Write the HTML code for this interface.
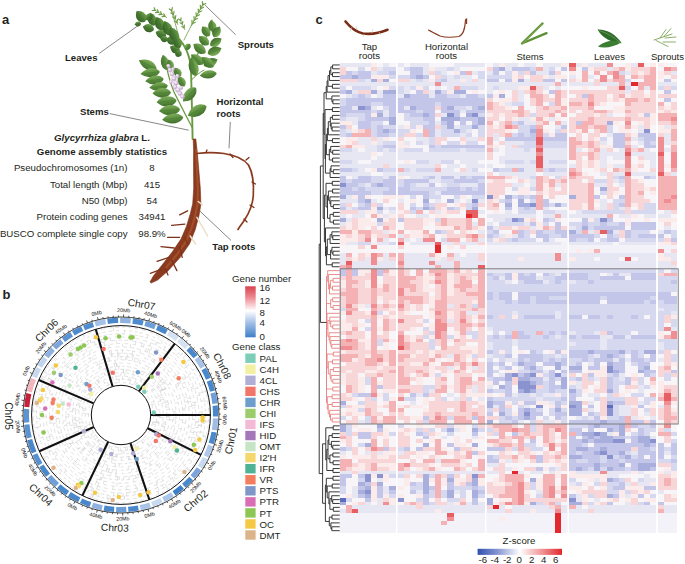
<!DOCTYPE html>
<html><head><meta charset="utf-8"><title>Figure</title><style>
html,body{margin:0;padding:0;background:#fff}
body{width:685px;height:564px;overflow:hidden;position:relative}
svg{position:absolute;left:0;top:0;font-family:"Liberation Sans",sans-serif}
</style></head><body>
<svg width="685" height="564" viewBox="0 0 685 564" font-family="Liberation Sans, sans-serif">
<text x="2" y="24" font-size="13" text-anchor="start" font-weight="bold" fill="#231f20">a</text>
<text x="102" y="140.5" font-size="9.7" text-anchor="middle" font-weight="bold" fill="#231f20"><tspan font-style="italic">Glycyrrhiza glabra</tspan> L.</text>
<text x="102" y="154.5" font-size="9.7" text-anchor="middle" font-weight="bold" fill="#231f20">Genome assembly statistics</text>
<text x="127.5" y="171.2" font-size="9.7" text-anchor="end" fill="#231f20">Pseudochromosomes (1n)</text>
<text x="152" y="171.2" font-size="9.7" text-anchor="middle" fill="#231f20">8</text>
<text x="127.5" y="187.6" font-size="9.7" text-anchor="end" fill="#231f20">Total length (Mbp)</text>
<text x="152" y="187.6" font-size="9.7" text-anchor="middle" fill="#231f20">415</text>
<text x="127.5" y="204.0" font-size="9.7" text-anchor="end" fill="#231f20">N50 (Mbp)</text>
<text x="152" y="204.0" font-size="9.7" text-anchor="middle" fill="#231f20">54</text>
<text x="127.5" y="220.39999999999998" font-size="9.7" text-anchor="end" fill="#231f20">Protein coding genes</text>
<text x="152" y="220.39999999999998" font-size="9.7" text-anchor="middle" fill="#231f20">34941</text>
<text x="127.5" y="236.79999999999998" font-size="9.7" text-anchor="end" fill="#231f20">BUSCO complete single copy</text>
<text x="152" y="236.79999999999998" font-size="9.7" text-anchor="middle" fill="#231f20">98.9%</text>
<text x="65" y="61.2" font-size="9.6" text-anchor="start" font-weight="bold" fill="#231f20">Leaves</text>
<text x="237.7" y="48.0" font-size="9.6" text-anchor="start" font-weight="bold" fill="#231f20">Sprouts</text>
<text x="80" y="115" font-size="9.6" text-anchor="start" font-weight="bold" fill="#231f20">Stems</text>
<text x="216.5" y="105.3" font-size="9.6" text-anchor="start" font-weight="bold" fill="#231f20">Horizontal</text>
<text x="216.5" y="116.9" font-size="9.6" text-anchor="start" font-weight="bold" fill="#231f20">roots</text>
<text x="212.3" y="249.5" font-size="9.6" text-anchor="start" font-weight="bold" fill="#231f20">Tap roots</text>
<g stroke="#555" stroke-width="0.7" fill="none"><path d="M99.2 53.4 L138.8 25.1"/><path d="M235.7 34.8 L205.2 5.3"/><path d="M109.7 113.6 L188.7 130.2"/><path d="M230.3 121.9 L229 148.3"/><path d="M200 211.2 L231 240.4"/></g>
<defs><linearGradient id="lg" x1="0" y1="0" x2="0" y2="1"><stop offset="0" stop-color="#7fae5c"/><stop offset="0.5" stop-color="#5b8e3e"/><stop offset="1" stop-color="#3f6e2c"/></linearGradient><linearGradient id="lg2" x1="0" y1="0" x2="0" y2="1"><stop offset="0" stop-color="#8cbb68"/><stop offset="1" stop-color="#4f8236"/></linearGradient><linearGradient id="lg3" x1="0" y1="0" x2="0" y2="1"><stop offset="0" stop-color="#6a9c4c"/><stop offset="0.5" stop-color="#4a7d34"/><stop offset="1" stop-color="#355f26"/></linearGradient><linearGradient id="rt" x1="0" y1="0" x2="1" y2="0"><stop offset="0" stop-color="#6e2a16"/><stop offset="0.5" stop-color="#9a4526"/><stop offset="1" stop-color="#6a2814"/></linearGradient></defs>
<g stroke="#6a9a40" fill="none" stroke-linecap="round"><path d="M192.6 139 C192.2 115 191.5 90 191 68 C190 58 187 50 183 44 C179 38 174 33 168 28" stroke-width="1.9"/><path d="M183 44 C178 40 172 34 165 28 C158 22 150 17 140 13" stroke-width="1.4"/><path d="M192.5 128 C186 116 180 104 174 92 C170 82 167 72 165 58" stroke-width="1.3"/><path d="M191.5 80 C195 76 199 73 204 70" stroke-width="1"/><path d="M191 66 C196 58 201 48 205 40 C208 33 210 27 212 20" stroke-width="1.2"/><path d="M184 40 C188 32 194 20 203 4" stroke-width="0.8"/><path d="M178 34 C176 26 174 18 171 10" stroke-width="0.8"/></g>
<path d="M191 26 L203.5 3.5" stroke="#6f9e45" stroke-width="0.7"/>
<path d="M192.2 23.8 L191.9 20.4" stroke="#6f9e45" stroke-width="1.2" stroke-linecap="round"/>
<path d="M192.2 23.8 L195.3 22.2" stroke="#6f9e45" stroke-width="1.2" stroke-linecap="round"/>
<path d="M194.3 20.0 L194.0 16.6" stroke="#6f9e45" stroke-width="1.2" stroke-linecap="round"/>
<path d="M194.3 20.0 L197.4 18.5" stroke="#6f9e45" stroke-width="1.2" stroke-linecap="round"/>
<path d="M196.4 16.2 L196.1 12.9" stroke="#6f9e45" stroke-width="1.2" stroke-linecap="round"/>
<path d="M196.4 16.2 L199.5 14.7" stroke="#6f9e45" stroke-width="1.2" stroke-linecap="round"/>
<path d="M198.5 12.5 L198.2 9.1" stroke="#6f9e45" stroke-width="1.2" stroke-linecap="round"/>
<path d="M198.5 12.5 L201.5 11.0" stroke="#6f9e45" stroke-width="1.2" stroke-linecap="round"/>
<path d="M200.6 8.8 L200.3 5.4" stroke="#6f9e45" stroke-width="1.2" stroke-linecap="round"/>
<path d="M200.6 8.8 L203.6 7.2" stroke="#6f9e45" stroke-width="1.2" stroke-linecap="round"/>
<path d="M202.7 5.0 L202.4 1.6" stroke="#6f9e45" stroke-width="1.2" stroke-linecap="round"/>
<path d="M202.7 5.0 L205.7 3.5" stroke="#6f9e45" stroke-width="1.2" stroke-linecap="round"/>
<path d="M167 17.7 L154 9.6" stroke="#6f9e45" stroke-width="0.7"/>
<path d="M165.1 16.5 L162.1 16.6" stroke="#6f9e45" stroke-width="1.2" stroke-linecap="round"/>
<path d="M165.1 16.5 L163.8 13.7" stroke="#6f9e45" stroke-width="1.2" stroke-linecap="round"/>
<path d="M161.8 14.5 L158.8 14.6" stroke="#6f9e45" stroke-width="1.2" stroke-linecap="round"/>
<path d="M161.8 14.5 L160.6 11.7" stroke="#6f9e45" stroke-width="1.2" stroke-linecap="round"/>
<path d="M158.6 12.4 L155.6 12.6" stroke="#6f9e45" stroke-width="1.2" stroke-linecap="round"/>
<path d="M158.6 12.4 L157.3 9.7" stroke="#6f9e45" stroke-width="1.2" stroke-linecap="round"/>
<path d="M155.3 10.4 L152.3 10.5" stroke="#6f9e45" stroke-width="1.2" stroke-linecap="round"/>
<path d="M155.3 10.4 L154.1 7.7" stroke="#6f9e45" stroke-width="1.2" stroke-linecap="round"/>
<path d="M178 25 L171 9" stroke="#6f9e45" stroke-width="0.7"/>
<path d="M176.9 22.6 L174.4 21.0" stroke="#6f9e45" stroke-width="1.2" stroke-linecap="round"/>
<path d="M176.9 22.6 L177.5 19.7" stroke="#6f9e45" stroke-width="1.2" stroke-linecap="round"/>
<path d="M175.2 18.6 L172.7 17.0" stroke="#6f9e45" stroke-width="1.2" stroke-linecap="round"/>
<path d="M175.2 18.6 L175.8 15.7" stroke="#6f9e45" stroke-width="1.2" stroke-linecap="round"/>
<path d="M173.4 14.6 L170.9 13.0" stroke="#6f9e45" stroke-width="1.2" stroke-linecap="round"/>
<path d="M173.4 14.6 L174.0 11.7" stroke="#6f9e45" stroke-width="1.2" stroke-linecap="round"/>
<path d="M171.7 10.6 L169.2 9.0" stroke="#6f9e45" stroke-width="1.2" stroke-linecap="round"/>
<path d="M171.7 10.6 L172.3 7.7" stroke="#6f9e45" stroke-width="1.2" stroke-linecap="round"/>
<path d="M185 30 L180 19" stroke="#6f9e45" stroke-width="0.7"/>
<path d="M184.0 27.8 L181.8 26.5" stroke="#6f9e45" stroke-width="1.2" stroke-linecap="round"/>
<path d="M184.0 27.8 L184.4 25.2" stroke="#6f9e45" stroke-width="1.2" stroke-linecap="round"/>
<path d="M182.3 24.1 L180.1 22.8" stroke="#6f9e45" stroke-width="1.2" stroke-linecap="round"/>
<path d="M182.3 24.1 L182.8 21.6" stroke="#6f9e45" stroke-width="1.2" stroke-linecap="round"/>
<path d="M180.7 20.5 L178.4 19.1" stroke="#6f9e45" stroke-width="1.2" stroke-linecap="round"/>
<path d="M180.7 20.5 L181.1 17.9" stroke="#6f9e45" stroke-width="1.2" stroke-linecap="round"/>
<path d="M-6.8 0 Q-2.1 -6.7 3.8 -4.0 Q6.8 -1.5 6.8 0 Q6.8 1.5 3.8 4.0 Q-2.1 6.7 -6.8 0Z" transform="translate(140.8 16.4) rotate(50.0)" fill="url(#lg3)"/>
<path d="M-6.2 0 L6.2 0" transform="translate(140.8 16.4) rotate(50.0)" stroke="#3d6a2a" stroke-width="0.5" opacity="0.6"/>
<path d="M-3.3 0 Q-1.0 -3.6 1.8 -2.1 Q3.3 -0.8 3.3 0 Q3.3 0.8 1.8 2.1 Q-1.0 3.6 -3.3 0Z" transform="translate(137.8 24.0) rotate(-8.7)" fill="url(#lg3)"/>
<path d="M-3.0 0 L3.0 0" transform="translate(137.8 24.0) rotate(-8.7)" stroke="#3d6a2a" stroke-width="0.5" opacity="0.6"/>
<path d="M-6.8 0 Q-2.0 -6.2 3.7 -3.7 Q6.8 -1.4 6.8 0 Q6.8 1.4 3.7 3.7 Q-2.0 6.2 -6.8 0Z" transform="translate(152.0 19.2) rotate(72.8)" fill="url(#lg3)"/>
<path d="M-6.1 0 L6.1 0" transform="translate(152.0 19.2) rotate(72.8)" stroke="#3d6a2a" stroke-width="0.5" opacity="0.6"/>
<path d="M-5.8 0 Q-1.7 -5.8 3.2 -3.4 Q5.8 -1.3 5.8 0 Q5.8 1.3 3.2 3.4 Q-1.7 5.8 -5.8 0Z" transform="translate(148.4 28.1) rotate(15.9)" fill="url(#lg3)"/>
<path d="M-5.2 0 L5.2 0" transform="translate(148.4 28.1) rotate(15.9)" stroke="#3d6a2a" stroke-width="0.5" opacity="0.6"/>
<path d="M-7.5 0 Q-2.3 -6.7 4.1 -4.0 Q7.5 -1.5 7.5 0 Q7.5 1.5 4.1 4.0 Q-2.3 6.7 -7.5 0Z" transform="translate(159.7 23.7) rotate(64.8)" fill="url(#lg3)"/>
<path d="M-6.8 0 L6.8 0" transform="translate(159.7 23.7) rotate(64.8)" stroke="#3d6a2a" stroke-width="0.5" opacity="0.6"/>
<path d="M-5.6 0 Q-1.7 -5.8 3.1 -3.4 Q5.6 -1.3 5.6 0 Q5.6 1.3 3.1 3.4 Q-1.7 5.8 -5.6 0Z" transform="translate(160.9 34.1) rotate(21.0)" fill="url(#lg3)"/>
<path d="M-5.0 0 L5.0 0" transform="translate(160.9 34.1) rotate(21.0)" stroke="#3d6a2a" stroke-width="0.5" opacity="0.6"/>
<path d="M-7.7 0 Q-2.3 -6.7 4.2 -4.0 Q7.7 -1.5 7.7 0 Q7.7 1.5 4.2 4.0 Q-2.3 6.7 -7.7 0Z" transform="translate(167.3 28.1) rotate(68.7)" fill="url(#lg3)"/>
<path d="M-7.0 0 L7.0 0" transform="translate(167.3 28.1) rotate(68.7)" stroke="#3d6a2a" stroke-width="0.5" opacity="0.6"/>
<path d="M-5.6 0 Q-1.7 -5.8 3.1 -3.4 Q5.6 -1.3 5.6 0 Q5.6 1.3 3.1 3.4 Q-1.7 5.8 -5.6 0Z" transform="translate(171.3 40.5) rotate(21.0)" fill="url(#lg3)"/>
<path d="M-5.0 0 L5.0 0" transform="translate(171.3 40.5) rotate(21.0)" stroke="#3d6a2a" stroke-width="0.5" opacity="0.6"/>
<path d="M-8.1 0 Q-2.4 -6.7 4.4 -4.0 Q8.1 -1.5 8.1 0 Q8.1 1.5 4.4 4.0 Q-2.4 6.7 -8.1 0Z" transform="translate(173.8 34.5) rotate(63.1)" fill="url(#lg3)"/>
<path d="M-7.3 0 L7.3 0" transform="translate(173.8 34.5) rotate(63.1)" stroke="#3d6a2a" stroke-width="0.5" opacity="0.6"/>
<path d="M-5.4 0 Q-1.6 -5.8 3.0 -3.4 Q5.4 -1.3 5.4 0 Q5.4 1.3 3.0 3.4 Q-1.6 5.8 -5.4 0Z" transform="translate(174.9 49.0) rotate(26.8)" fill="url(#lg3)"/>
<path d="M-4.9 0 L4.9 0" transform="translate(174.9 49.0) rotate(26.8)" stroke="#3d6a2a" stroke-width="0.5" opacity="0.6"/>
<path d="M-6.1 0 Q-1.8 -5.8 3.4 -3.4 Q6.1 -1.3 6.1 0 Q6.1 1.3 3.4 3.4 Q-1.8 5.8 -6.1 0Z" transform="translate(177.4 42.5) rotate(67.0)" fill="url(#lg3)"/>
<path d="M-5.5 0 L5.5 0" transform="translate(177.4 42.5) rotate(67.0)" stroke="#3d6a2a" stroke-width="0.5" opacity="0.6"/>
<path d="M-3.8 0 Q-1.1 -4.9 2.1 -2.9 Q3.8 -1.1 3.8 0 Q3.8 1.1 2.1 2.9 Q-1.1 4.9 -3.8 0Z" transform="translate(178.2 53.4) rotate(32.0)" fill="url(#lg3)"/>
<path d="M-3.4 0 L3.4 0" transform="translate(178.2 53.4) rotate(32.0)" stroke="#3d6a2a" stroke-width="0.5" opacity="0.6"/>
<path d="M-4.2 0 Q-1.3 -4.5 2.3 -2.6 Q4.2 -1.0 4.2 0 Q4.2 1.0 2.3 2.6 Q-1.3 4.5 -4.2 0Z" transform="translate(149.0 17.0) rotate(-45.0)" fill="url(#lg3)"/>
<path d="M-3.8 0 L3.8 0" transform="translate(149.0 17.0) rotate(-45.0)" stroke="#3d6a2a" stroke-width="0.5" opacity="0.6"/>
<path d="M-4.1 0 Q-1.2 -4.5 2.3 -2.6 Q4.1 -1.0 4.1 0 Q4.1 1.0 2.3 2.6 Q-1.2 4.5 -4.1 0Z" transform="translate(164.0 39.0) rotate(14.0)" fill="url(#lg3)"/>
<path d="M-3.7 0 L3.7 0" transform="translate(164.0 39.0) rotate(14.0)" stroke="#3d6a2a" stroke-width="0.5" opacity="0.6"/>
<path d="M-6.2 0 Q-1.9 -5.8 3.4 -3.4 Q6.2 -1.3 6.2 0 Q6.2 1.3 3.4 3.4 Q-1.9 5.8 -6.2 0Z" transform="translate(212.2 26.1) rotate(78.3)" fill="url(#lg)"/>
<path d="M-5.6 0 L5.6 0" transform="translate(212.2 26.1) rotate(78.3)" stroke="#3d6a2a" stroke-width="0.5" opacity="0.6"/>
<path d="M-6.0 0 Q-1.8 -5.8 3.3 -3.4 Q6.0 -1.3 6.0 0 Q6.0 1.3 3.3 3.4 Q-1.8 5.8 -6.0 0Z" transform="translate(205.8 31.3) rotate(52.8)" fill="url(#lg)"/>
<path d="M-5.4 0 L5.4 0" transform="translate(205.8 31.3) rotate(52.8)" stroke="#3d6a2a" stroke-width="0.5" opacity="0.6"/>
<path d="M-6.1 0 Q-1.8 -5.8 3.4 -3.4 Q6.1 -1.3 6.1 0 Q6.1 1.3 3.4 3.4 Q-1.8 5.8 -6.1 0Z" transform="translate(216.7 31.7) rotate(121.6)" fill="url(#lg)"/>
<path d="M-5.5 0 L5.5 0" transform="translate(216.7 31.7) rotate(121.6)" stroke="#3d6a2a" stroke-width="0.5" opacity="0.6"/>
<path d="M-6.5 0 Q-2.0 -5.8 3.6 -3.4 Q6.5 -1.3 6.5 0 Q6.5 1.3 3.6 3.4 Q-2.0 5.8 -6.5 0Z" transform="translate(203.8 40.5) rotate(42.2)" fill="url(#lg)"/>
<path d="M-5.9 0 L5.9 0" transform="translate(203.8 40.5) rotate(42.2)" stroke="#3d6a2a" stroke-width="0.5" opacity="0.6"/>
<path d="M-6.7 0 Q-2.0 -5.8 3.7 -3.4 Q6.7 -1.3 6.7 0 Q6.7 1.3 3.7 3.4 Q-2.0 5.8 -6.7 0Z" transform="translate(215.9 42.1) rotate(147.3)" fill="url(#lg)"/>
<path d="M-6.0 0 L6.0 0" transform="translate(215.9 42.1) rotate(147.3)" stroke="#3d6a2a" stroke-width="0.5" opacity="0.6"/>
<path d="M-7.5 0 Q-2.2 -6.2 4.1 -3.7 Q7.5 -1.4 7.5 0 Q7.5 1.4 4.1 3.7 Q-2.2 6.2 -7.5 0Z" transform="translate(199.4 48.5) rotate(36.6)" fill="url(#lg)"/>
<path d="M-6.7 0 L6.7 0" transform="translate(199.4 48.5) rotate(36.6)" stroke="#3d6a2a" stroke-width="0.5" opacity="0.6"/>
<path d="M-7.4 0 Q-2.2 -6.2 4.1 -3.7 Q7.4 -1.4 7.4 0 Q7.4 1.4 4.1 3.7 Q-2.2 6.2 -7.4 0Z" transform="translate(214.7 51.0) rotate(157.8)" fill="url(#lg)"/>
<path d="M-6.7 0 L6.7 0" transform="translate(214.7 51.0) rotate(157.8)" stroke="#3d6a2a" stroke-width="0.5" opacity="0.6"/>
<path d="M-7.7 0 Q-2.3 -6.2 4.2 -3.7 Q7.7 -1.4 7.7 0 Q7.7 1.4 4.2 3.7 Q-2.3 6.2 -7.7 0Z" transform="translate(197.0 59.4) rotate(38.7)" fill="url(#lg)"/>
<path d="M-6.9 0 L6.9 0" transform="translate(197.0 59.4) rotate(38.7)" stroke="#3d6a2a" stroke-width="0.5" opacity="0.6"/>
<path d="M-7.6 0 Q-2.3 -6.2 4.2 -3.7 Q7.6 -1.4 7.6 0 Q7.6 1.4 4.2 3.7 Q-2.3 6.2 -7.6 0Z" transform="translate(210.7 62.6) rotate(155.0)" fill="url(#lg)"/>
<path d="M-6.8 0 L6.8 0" transform="translate(210.7 62.6) rotate(155.0)" stroke="#3d6a2a" stroke-width="0.5" opacity="0.6"/>
<path d="M-9.9 0 Q-3.0 -6.7 5.4 -4.0 Q9.9 -1.5 9.9 0 Q9.9 1.5 5.4 4.0 Q-3.0 6.7 -9.9 0Z" transform="translate(147.7 64.8) rotate(26.7)" fill="url(#lg)"/>
<path d="M-8.9 0 L8.9 0" transform="translate(147.7 64.8) rotate(26.7)" stroke="#3d6a2a" stroke-width="0.5" opacity="0.6"/>
<path d="M-9.7 0 Q-2.9 -6.2 5.3 -3.7 Q9.7 -1.4 9.7 0 Q9.7 1.4 5.3 3.7 Q-2.9 6.2 -9.7 0Z" transform="translate(150.1 72.9) rotate(-7.1)" fill="url(#lg)"/>
<path d="M-8.8 0 L8.8 0" transform="translate(150.1 72.9) rotate(-7.1)" stroke="#3d6a2a" stroke-width="0.5" opacity="0.6"/>
<path d="M-9.3 0 Q-2.8 -6.2 5.1 -3.7 Q9.3 -1.4 9.3 0 Q9.3 1.4 5.1 3.7 Q-2.8 6.2 -9.3 0Z" transform="translate(154.4 80.1) rotate(-7.4)" fill="url(#lg)"/>
<path d="M-8.4 0 L8.4 0" transform="translate(154.4 80.1) rotate(-7.4)" stroke="#3d6a2a" stroke-width="0.5" opacity="0.6"/>
<path d="M-9.3 0 Q-2.8 -6.2 5.1 -3.7 Q9.3 -1.4 9.3 0 Q9.3 1.4 5.1 3.7 Q-2.8 6.2 -9.3 0Z" transform="translate(158.5 86.7) rotate(-6.5)" fill="url(#lg)"/>
<path d="M-8.3 0 L8.3 0" transform="translate(158.5 86.7) rotate(-6.5)" stroke="#3d6a2a" stroke-width="0.5" opacity="0.6"/>
<path d="M-9.2 0 Q-2.8 -6.7 5.1 -4.0 Q9.2 -1.5 9.2 0 Q9.2 1.5 5.1 4.0 Q-2.8 6.7 -9.2 0Z" transform="translate(161.7 92.9) rotate(-2.5)" fill="url(#lg)"/>
<path d="M-8.3 0 L8.3 0" transform="translate(161.7 92.9) rotate(-2.5)" stroke="#3d6a2a" stroke-width="0.5" opacity="0.6"/>
<path d="M-10.0 0 Q-3.0 -7.1 5.5 -4.2 Q10.0 -1.6 10.0 0 Q10.0 1.6 5.5 4.2 Q-3.0 7.1 -10.0 0Z" transform="translate(166.5 101.4) rotate(-4.6)" fill="url(#lg)"/>
<path d="M-9.0 0 L9.0 0" transform="translate(166.5 101.4) rotate(-4.6)" stroke="#3d6a2a" stroke-width="0.5" opacity="0.6"/>
<path d="M-10.5 0 Q-3.1 -7.1 5.8 -4.2 Q10.5 -1.6 10.5 0 Q10.5 1.6 5.8 4.2 Q-3.1 7.1 -10.5 0Z" transform="translate(169.4 110.2) rotate(-4.4)" fill="url(#lg)"/>
<path d="M-9.4 0 L9.4 0" transform="translate(169.4 110.2) rotate(-4.4)" stroke="#3d6a2a" stroke-width="0.5" opacity="0.6"/>
<path d="M-10.5 0 Q-3.2 -7.1 5.8 -4.2 Q10.5 -1.6 10.5 0 Q10.5 1.6 5.8 4.2 Q-3.2 7.1 -10.5 0Z" transform="translate(172.6 118.6) rotate(-6.6)" fill="url(#lg)"/>
<path d="M-9.5 0 L9.5 0" transform="translate(172.6 118.6) rotate(-6.6)" stroke="#3d6a2a" stroke-width="0.5" opacity="0.6"/>
<path d="M-7.9 0 Q-2.4 -5.8 4.3 -3.4 Q7.9 -1.3 7.9 0 Q7.9 1.3 4.3 3.4 Q-2.4 5.8 -7.9 0Z" transform="translate(164.9 62.4) rotate(75.3)" fill="url(#lg)"/>
<path d="M-7.1 0 L7.1 0" transform="translate(164.9 62.4) rotate(75.3)" stroke="#3d6a2a" stroke-width="0.5" opacity="0.6"/>
<path d="M-5.2 0 Q-1.5 -4.9 2.8 -2.9 Q5.2 -1.1 5.2 0 Q5.2 1.1 2.8 2.9 Q-1.5 4.9 -5.2 0Z" transform="translate(170.2 64.5) rotate(70.2)" fill="url(#lg)"/>
<path d="M-4.6 0 L4.6 0" transform="translate(170.2 64.5) rotate(70.2)" stroke="#3d6a2a" stroke-width="0.5" opacity="0.6"/>
<path d="M-5.5 0 Q-1.6 -5.3 3.0 -3.2 Q5.5 -1.2 5.5 0 Q5.5 1.2 3.0 3.2 Q-1.6 5.3 -5.5 0Z" transform="translate(177.3 72.1) rotate(53.5)" fill="url(#lg)"/>
<path d="M-4.9 0 L4.9 0" transform="translate(177.3 72.1) rotate(53.5)" stroke="#3d6a2a" stroke-width="0.5" opacity="0.6"/>
<path d="M-5.8 0 Q-1.7 -5.3 3.2 -3.2 Q5.8 -1.2 5.8 0 Q5.8 1.2 3.2 3.2 Q-1.7 5.3 -5.8 0Z" transform="translate(181.4 81.3) rotate(56.3)" fill="url(#lg)"/>
<path d="M-5.2 0 L5.2 0" transform="translate(181.4 81.3) rotate(56.3)" stroke="#3d6a2a" stroke-width="0.5" opacity="0.6"/>
<path d="M-9.4 0 Q-2.8 -7.1 5.2 -4.2 Q9.4 -1.6 9.4 0 Q9.4 1.6 5.2 4.2 Q-2.8 7.1 -9.4 0Z" transform="translate(189.4 94.6) rotate(-46.9)" fill="url(#lg)"/>
<path d="M-8.4 0 L8.4 0" transform="translate(189.4 94.6) rotate(-46.9)" stroke="#3d6a2a" stroke-width="0.5" opacity="0.6"/>
<path d="M-9.6 0 Q-2.9 -6.7 5.3 -4.0 Q9.6 -1.5 9.6 0 Q9.6 1.5 5.3 4.0 Q-2.9 6.7 -9.6 0Z" transform="translate(193.4 66.5) rotate(75.5)" fill="url(#lg)"/>
<path d="M-8.6 0 L8.6 0" transform="translate(193.4 66.5) rotate(75.5)" stroke="#3d6a2a" stroke-width="0.5" opacity="0.6"/>
<path d="M-7.8 0 Q-2.3 -5.8 4.3 -3.4 Q7.8 -1.3 7.8 0 Q7.8 1.3 4.3 3.4 Q-2.3 5.8 -7.8 0Z" transform="translate(207.4 62.1) rotate(38.7)" fill="url(#lg)"/>
<path d="M-7.0 0 L7.0 0" transform="translate(207.4 62.1) rotate(38.7)" stroke="#3d6a2a" stroke-width="0.5" opacity="0.6"/>
<path d="M-8.5 0 Q-2.6 -5.8 4.7 -3.4 Q8.5 -1.3 8.5 0 Q8.5 1.3 4.7 3.4 Q-2.6 5.8 -8.5 0Z" transform="translate(208.2 74.5) rotate(-8.1)" fill="url(#lg)"/>
<path d="M-7.7 0 L7.7 0" transform="translate(208.2 74.5) rotate(-8.1)" stroke="#3d6a2a" stroke-width="0.5" opacity="0.6"/>
<path d="M-10.4 0 Q-3.1 -7.6 5.7 -4.5 Q10.4 -1.7 10.4 0 Q10.4 1.7 5.7 4.5 Q-3.1 7.6 -10.4 0Z" transform="translate(197.0 111.0) rotate(-27.6)" fill="url(#lg)"/>
<path d="M-9.3 0 L9.3 0" transform="translate(197.0 111.0) rotate(-27.6)" stroke="#3d6a2a" stroke-width="0.5" opacity="0.6"/>
<path d="M-3.9 0 Q-1.2 -4.0 2.1 -2.4 Q3.9 -0.9 3.9 0 Q3.9 0.9 2.1 2.4 Q-1.2 4.0 -3.9 0Z" transform="translate(187.5 47.0) rotate(-50.2)" fill="url(#lg)"/>
<path d="M-3.5 0 L3.5 0" transform="translate(187.5 47.0) rotate(-50.2)" stroke="#3d6a2a" stroke-width="0.5" opacity="0.6"/>
<circle cx="168.5" cy="66" r="2.1" fill="#cdb3d3"/>
<circle cx="168.0" cy="65.4" r="1.1550000000000002" fill="#f1e8f3"/>
<circle cx="170" cy="70" r="2.3" fill="#cdb3d3"/>
<circle cx="169.5" cy="69.4" r="1.265" fill="#f1e8f3"/>
<circle cx="172" cy="74" r="2.4" fill="#cdb3d3"/>
<circle cx="171.5" cy="73.4" r="1.32" fill="#f1e8f3"/>
<circle cx="174" cy="78.5" r="2.5" fill="#cdb3d3"/>
<circle cx="173.5" cy="77.9" r="1.375" fill="#f1e8f3"/>
<circle cx="176" cy="83" r="2.6" fill="#cdb3d3"/>
<circle cx="175.5" cy="82.4" r="1.4300000000000002" fill="#f1e8f3"/>
<circle cx="175" cy="87" r="2.4" fill="#cdb3d3"/>
<circle cx="174.5" cy="86.4" r="1.32" fill="#f1e8f3"/>
<circle cx="178" cy="90" r="2.6" fill="#cdb3d3"/>
<circle cx="177.5" cy="89.4" r="1.4300000000000002" fill="#f1e8f3"/>
<circle cx="180" cy="93.5" r="2.4" fill="#cdb3d3"/>
<circle cx="179.5" cy="92.9" r="1.32" fill="#f1e8f3"/>
<circle cx="182.5" cy="96.5" r="2.2" fill="#cdb3d3"/>
<circle cx="182.0" cy="95.9" r="1.2100000000000002" fill="#f1e8f3"/>
<circle cx="171" cy="82" r="1.9" fill="#cdb3d3"/>
<circle cx="170.5" cy="81.4" r="1.045" fill="#f1e8f3"/>
<circle cx="177.5" cy="76" r="2.1" fill="#cdb3d3"/>
<circle cx="177.0" cy="75.4" r="1.1550000000000002" fill="#f1e8f3"/>
<circle cx="181" cy="88" r="2.1" fill="#cdb3d3"/>
<circle cx="180.5" cy="87.4" r="1.1550000000000002" fill="#f1e8f3"/>
<circle cx="173" cy="69" r="1.8" fill="#cdb3d3"/>
<circle cx="172.5" cy="68.4" r="0.9900000000000001" fill="#f1e8f3"/>
<path d="M193.2 139.1 L193.6 150.1 L193.5 161.7 L193.7 188.3 L192.7 203.7 L190.3 213.7 L186.4 226.5 L181.0 239.0 L172.4 251.8 L161.9 265.2 L153.4 275.9 L150.0 281.9 L151.0 283.1 L157.6 280.1 L168.1 270.8 L180.0 257.6 L189.6 243.8 L195.2 229.7 L198.9 215.9 L200.9 204.5 L200.3 188.1 L198.1 161.5 L197.0 149.9 L195.8 138.9Z" fill="#8a3a1e" stroke="#7a3018" stroke-width="0.6" stroke-linejoin="round"/>
<path d="M196.1 150.0 L196.6 161.6 L197.8 188.2 L197.6 204.1 L195.4 214.8 L191.6 228.1 L186.1 241.4 L177.0 254.7 L165.8 268.0" stroke="#a9532e" stroke-width="2.2" fill="none" stroke-linecap="round" opacity="0.8"/>
<path d="M196.5 153.5 C204 152.5 214 152 224 153.5 C234 155 243 158 248.5 165 C253 173 254 184 253.3 196 C252.5 206 248.5 214 244.5 220 C241.5 224.5 239.5 227 238 229.5" stroke="#8a3a1e" stroke-width="1.7" fill="none" stroke-linecap="round"/>
<g stroke="#7e321a" stroke-width="1.3" fill="none" stroke-linecap="round"><path d="M187.6 210.8 L179.6 214.8"/><path d="M184.9 224.1 L171.6 225.4"/><path d="M179.6 237.4 L167.6 237.4"/><path d="M174.3 248 L161 246.7"/><path d="M169 257.3 L157 261.3"/><path d="M161 269.3 L150.3 273.3"/><path d="M171.6 260 L176.9 270.6"/><path d="M179.6 246.7 L182.2 257.3"/><path d="M184.9 237.4 L187.6 244"/><path d="M165 268 L168 275"/><path d="M206 152.5 L207 150"/><path d="M230 154 L233 157.5"/><path d="M246 160 L249 157.5"/><path d="M252 182 L255.5 184"/><path d="M250 205 L254 207.5"/><path d="M244 219 L247 222"/></g>
<g stroke="#eadfc4" stroke-width="1.5" fill="none" stroke-linecap="round"><path d="M196.9 217.4 L202 226 L207.5 236"/><path d="M198.2 201.5 L202.2 204.7"/><path d="M190.2 236 L195.5 244"/></g>
<text x="2.6" y="298.8" font-size="13" text-anchor="start" font-weight="bold" fill="#231f20">b</text>
<g fill="none" stroke="#c2c2c2" stroke-width="0.5">
<circle cx="121.0" cy="415.0" r="32.5" stroke-dasharray="3.7 4.2 4.1 4.8 4.0 4.8 2.6 3.3 4.4 3.9 4.3 2.2" stroke-dashoffset="9.4"/>
<circle cx="121.0" cy="415.0" r="35.8" stroke-dasharray="3.0 3.5 3.6 1.8 2.9 2.7 4.3 4.3 2.8 4.4 2.8 3.8" stroke-dashoffset="2.5"/>
<circle cx="121.0" cy="415.0" r="39.0" stroke-dasharray="2.5 4.6 2.9 2.5 4.5 4.6 3.1 4.9 3.6 4.0 2.9 4.8" stroke-dashoffset="13.8"/>
<circle cx="121.0" cy="415.0" r="42.2" stroke-dasharray="4.4 4.7 3.1 3.0 2.8 2.3 2.6 2.8 3.7 1.8 3.9 2.9" stroke-dashoffset="6.2"/>
<circle cx="121.0" cy="415.0" r="45.5" stroke-dasharray="4.1 3.3 3.1 3.3 3.9 2.0 4.5 1.9 4.0 4.5 2.5 4.3" stroke-dashoffset="7.3"/>
<circle cx="121.0" cy="415.0" r="48.8" stroke-dasharray="3.7 1.8 2.6 2.4 4.4 2.4 4.0 4.8 4.4 2.9 3.2 3.5" stroke-dashoffset="15.5"/>
<circle cx="121.0" cy="415.0" r="52.0" stroke-dasharray="2.7 4.2 4.1 4.6 2.6 4.8 2.7 2.9 3.7 4.7 3.2 4.8" stroke-dashoffset="10.9"/>
<circle cx="121.0" cy="415.0" r="55.2" stroke-dasharray="3.1 2.8 2.9 2.1 2.8 4.0 4.5 2.3 2.6 5.0 3.6 3.1" stroke-dashoffset="4.7"/>
<circle cx="121.0" cy="415.0" r="58.5" stroke-dasharray="3.7 4.4 3.4 3.1 2.6 4.7 2.6 3.4 4.2 2.2 4.0 4.8" stroke-dashoffset="12.6"/>
<circle cx="121.0" cy="415.0" r="61.8" stroke-dasharray="4.1 2.1 3.4 2.3 4.2 2.7 3.4 5.0 4.2 4.9 3.4 3.4" stroke-dashoffset="14.6"/>
<circle cx="121.0" cy="415.0" r="65.0" stroke-dasharray="3.5 2.7 3.3 2.3 3.3 5.0 4.4 3.8 3.5 2.9 2.7 2.7" stroke-dashoffset="15.6"/>
<circle cx="121.0" cy="415.0" r="68.2" stroke-dasharray="4.2 3.0 4.1 4.3 3.9 3.9 4.0 3.0 3.9 2.7 3.5 4.3" stroke-dashoffset="13.8"/>
<circle cx="121.0" cy="415.0" r="71.5" stroke-dasharray="3.1 4.8 3.8 3.7 2.5 3.6 3.0 3.9 3.4 4.4 3.8 4.4" stroke-dashoffset="7.0"/>
<circle cx="121.0" cy="415.0" r="74.8" stroke-dasharray="3.8 4.2 4.2 2.9 4.2 4.6 3.9 4.9 4.4 3.5 3.6 2.3" stroke-dashoffset="16.7"/>
<circle cx="121.0" cy="415.0" r="78.0" stroke-dasharray="4.4 3.3 3.9 4.1 4.0 2.3 4.1 3.7 3.8 3.1 3.7 4.3" stroke-dashoffset="12.7"/>
<circle cx="121.0" cy="415.0" r="81.2" stroke-dasharray="3.9 1.9 2.8 3.2 3.8 2.5 3.9 3.8 2.6 3.3 3.0 2.0" stroke-dashoffset="2.7"/>
<circle cx="121.0" cy="415.0" r="84.5" stroke-dasharray="3.1 2.4 2.9 1.9 3.4 3.0 3.7 3.7 3.0 4.7 2.5 3.1" stroke-dashoffset="5.6"/>
<circle cx="121.0" cy="415.0" r="87.8" stroke-dasharray="3.3 2.2 4.2 3.0 2.6 3.8 2.7 3.5 3.2 3.7 4.4 4.4" stroke-dashoffset="8.4"/>
</g>
<g stroke="#c6c6c6" stroke-width="0.5">
<path d="M147.3 352.0L148.6 349.0"/>
<path d="M73.3 424.9L70.1 425.6"/>
<path d="M54.1 368.9L51.4 367.1"/>
<path d="M164.9 402.9L168.0 402.1"/>
<path d="M68.0 372.0L65.5 369.9"/>
<path d="M135.1 385.7L136.5 382.8"/>
<path d="M73.1 458.9L70.7 461.1"/>
<path d="M79.3 396.7L76.4 395.4"/>
<path d="M88.4 478.6L86.9 481.5"/>
<path d="M71.1 438.8L68.2 440.2"/>
<path d="M39.8 418.4L36.6 418.5"/>
<path d="M191.4 402.7L194.6 402.1"/>
<path d="M84.7 447.5L82.2 449.7"/>
<path d="M72.8 381.9L70.1 380.0"/>
<path d="M117.5 353.3L117.3 350.1"/>
<path d="M46.3 416.7L43.0 416.8"/>
<path d="M182.3 422.6L185.5 423.0"/>
<path d="M59.3 418.2L56.1 418.4"/>
<path d="M141.2 440.5L143.2 443.0"/>
<path d="M177.2 469.1L179.6 471.3"/>
<path d="M122.0 450.7L122.1 454.0"/>
<path d="M135.1 344.9L135.8 341.7"/>
<path d="M179.3 419.8L182.5 420.1"/>
<path d="M124.3 496.2L124.5 499.4"/>
<path d="M132.0 360.9L132.6 357.7"/>
<path d="M75.6 417.8L72.3 418.0"/>
<path d="M110.0 354.2L109.4 351.0"/>
<path d="M99.2 493.3L98.4 496.4"/>
<path d="M79.0 410.2L75.8 409.8"/>
<path d="M166.3 419.6L169.5 419.9"/>
<path d="M100.6 476.7L99.6 479.8"/>
<path d="M57.1 359.7L54.7 357.6"/>
<path d="M188.3 426.4L191.5 426.9"/>
<path d="M91.8 449.9L89.7 452.4"/>
<path d="M178.0 428.3L181.1 429.0"/>
<path d="M81.1 401.1L78.0 400.1"/>
<path d="M160.6 381.3L163.1 379.2"/>
<path d="M195.4 421.8L198.7 422.1"/>
<path d="M53.8 369.4L51.1 367.6"/>
<path d="M166.1 359.5L168.2 357.0"/>
<path d="M69.6 422.9L66.4 423.4"/>
<path d="M183.8 368.7L186.4 366.8"/>
<path d="M139.8 380.8L141.4 378.0"/>
<path d="M110.3 445.7L109.2 448.7"/>
<path d="M95.5 344.7L94.4 341.7"/>
<path d="M50.3 374.9L47.5 373.3"/>
<path d="M159.5 390.8L162.3 389.1"/>
<path d="M162.2 485.1L163.8 487.9"/>
<path d="M165.8 407.3L169.0 406.7"/>
<path d="M89.1 431.1L86.2 432.6"/>
<path d="M171.2 438.0L174.2 439.4"/>
<path d="M116.8 453.8L116.4 457.0"/>
<path d="M129.4 383.6L130.3 380.5"/>
<path d="M83.7 479.8L82.1 482.6"/>
<path d="M191.9 405.5L195.1 405.0"/>
<path d="M110.2 380.9L109.2 377.8"/>
<path d="M151.2 444.6L153.5 446.8"/>
<path d="M129.1 456.5L129.7 459.7"/>
<path d="M110.4 370.8L109.6 367.6"/>
<path d="M198.9 412.1L202.2 412.0"/>
<path d="M149.7 454.4L151.6 457.0"/>
<path d="M79.2 440.1L76.4 441.8"/>
<path d="M168.4 436.3L171.4 437.7"/>
<path d="M161.7 426.4L164.8 427.3"/>
<path d="M100.1 382.0L98.4 379.3"/>
<path d="M113.1 456.5L112.5 459.7"/>
<path d="M118.8 369.6L118.7 366.3"/>
<path d="M159.9 417.4L163.2 417.6"/>
<path d="M88.9 489.7L87.7 492.6"/>
<path d="M52.9 419.5L49.7 419.7"/>
<path d="M160.1 391.8L162.9 390.1"/>
<path d="M106.2 372.0L105.2 368.9"/>
<path d="M44.2 379.7L41.3 378.3"/>
<path d="M107.2 468.5L106.4 471.6"/>
<path d="M116.4 470.1L116.1 473.3"/>
<path d="M119.4 476.7L119.3 480.0"/>
<path d="M75.8 410.2L72.5 409.8"/>
<path d="M145.3 351.2L146.5 348.2"/>
<path d="M52.6 435.7L49.4 436.6"/>
<path d="M135.0 444.3L136.4 447.3"/>
<path d="M99.1 382.7L97.3 380.1"/>
<path d="M89.0 399.1L86.1 397.7"/>
<path d="M156.5 437.9L159.2 439.7"/>
<path d="M43.1 411.8L39.8 411.7"/>
<path d="M126.6 492.8L126.8 496.0"/>
<path d="M56.5 423.0L53.3 423.4"/>
<path d="M186.9 467.9L189.5 469.9"/>
<path d="M191.3 428.2L194.5 428.8"/>
<path d="M163.9 430.1L167.0 431.1"/>
<path d="M191.3 389.5L194.3 388.4"/>
<path d="M97.8 364.8L96.5 361.9"/>
<path d="M120.9 376.0L120.9 372.8"/>
<path d="M201.1 401.1L204.3 400.6"/>
<path d="M140.5 373.9L141.9 371.0"/>
<path d="M99.5 346.8L98.6 343.7"/>
<path d="M87.3 458.8L85.3 461.4"/>
<path d="M104.1 481.1L103.3 484.3"/>
<path d="M141.4 346.5L142.3 343.4"/>
<path d="M165.7 466.6L167.8 469.1"/>
<path d="M76.3 355.1L74.3 352.5"/>
<path d="M187.2 398.5L190.4 397.8"/>
<path d="M69.3 409.3L66.1 408.9"/>
<path d="M116.6 343.6L116.4 340.4"/>
<path d="M154.0 428.8L157.0 430.1"/>
<path d="M171.9 425.8L175.1 426.4"/>
<path d="M148.2 491.5L149.3 494.6"/>
<path d="M183.4 362.9L185.9 360.8"/>
<path d="M84.9 357.1L83.2 354.3"/>
<path d="M202.2 415.2L205.5 415.2"/>
<path d="M97.7 486.0L96.6 489.1"/>
<path d="M86.4 484.9L84.9 487.8"/>
<path d="M157.9 441.7L160.5 443.6"/>
<path d="M98.7 383.0L96.9 380.3"/>
<path d="M70.6 465.7L68.3 468.0"/>
<path d="M176.2 355.4L178.4 353.0"/>
<path d="M154.8 462.8L156.6 465.4"/>
<path d="M158.5 446.1L161.0 448.2"/>
<path d="M121.1 359.8L121.1 356.5"/>
<path d="M156.0 422.4L159.2 423.1"/>
<path d="M82.9 471.6L81.1 474.3"/>
<path d="M106.6 447.7L105.3 450.7"/>
<path d="M91.2 342.9L90.0 339.9"/>
<path d="M76.2 423.0L73.0 423.6"/>
<path d="M169.0 458.9L171.4 461.1"/>
<path d="M106.9 468.4L106.1 471.6"/>
<path d="M114.7 366.7L114.3 363.4"/>
<path d="M152.8 421.8L156.0 422.5"/>
<path d="M86.2 397.4L83.3 395.9"/>
<path d="M70.5 369.0L68.1 366.9"/>
<path d="M100.4 370.8L99.0 367.9"/>
<path d="M60.5 427.3L57.3 428.0"/>
<path d="M192.2 446.8L195.2 448.1"/>
<path d="M149.6 462.3L151.3 465.0"/>
<path d="M144.4 461.4L145.9 464.3"/>
<path d="M190.6 387.7L193.6 386.5"/>
<path d="M112.4 357.1L111.9 353.9"/>
<path d="M156.7 416.4L160.0 416.5"/>
<path d="M49.5 436.7L46.4 437.7"/>
<path d="M138.3 446.3L139.8 449.1"/>
<path d="M40.4 389.7L37.3 388.7"/>
<path d="M82.2 398.2L79.3 396.9"/>
<path d="M109.5 361.0L108.8 357.8"/>
<path d="M186.4 366.7L189.0 364.8"/>
<path d="M189.1 459.4L191.8 461.1"/>
<path d="M173.1 433.3L176.2 434.4"/>
<path d="M70.9 351.0L68.9 348.5"/>
<path d="M92.4 436.5L89.8 438.5"/>
<path d="M192.4 437.2L195.5 438.1"/>
<path d="M87.3 426.9L84.2 428.0"/>
<path d="M157.8 378.2L160.1 376.0"/>
<path d="M157.3 491.3L158.7 494.3"/>
<path d="M88.0 374.8L85.9 372.3"/>
<path d="M82.8 407.4L79.6 406.7"/>
<path d="M158.9 396.3L161.8 394.8"/>
<path d="M162.7 440.3L165.5 442.0"/>
<path d="M78.6 384.9L76.0 383.0"/>
<path d="M65.8 359.9L63.5 357.6"/>
<path d="M42.3 395.0L39.1 394.2"/>
<path d="M57.7 448.2L54.8 449.7"/>
<path d="M75.9 408.6L72.7 408.2"/>
<path d="M111.6 354.0L111.1 350.8"/>
<path d="M100.2 363.8L99.0 360.8"/>
<path d="M78.1 399.7L75.1 398.6"/>
<path d="M106.3 451.1L105.0 454.1"/>
<path d="M131.9 357.5L132.5 354.3"/>
<path d="M148.5 356.1L149.8 353.1"/>
<path d="M147.2 443.9L149.4 446.3"/>
<path d="M82.6 421.9L79.4 422.5"/>
<path d="M137.7 362.3L138.7 359.2"/>
<path d="M107.9 495.2L107.3 498.4"/>
<path d="M110.1 381.0L109.1 377.9"/>
<path d="M103.3 355.9L102.3 352.7"/>
<path d="M152.3 386.6L154.7 384.4"/>
<path d="M179.5 443.4L182.4 444.8"/>
<path d="M97.3 437.3L95.0 439.5"/>
<path d="M157.1 387.4L159.7 385.4"/>
<path d="M51.4 379.7L48.5 378.2"/>
<path d="M141.2 440.5L143.2 443.0"/>
<path d="M110.7 341.0L110.3 337.7"/>
<path d="M113.1 486.1L112.7 489.3"/>
<path d="M60.9 390.3L57.9 389.1"/>
<path d="M165.6 434.6L168.6 435.9"/>
<path d="M173.8 476.7L175.9 479.2"/>
<path d="M93.3 359.8L91.8 356.9"/>
<path d="M152.8 421.9L155.9 422.6"/>
<path d="M156.2 421.1L159.4 421.7"/>
<path d="M188.0 402.0L191.2 401.4"/>
<path d="M67.2 437.9L64.2 439.2"/>
<path d="M151.9 404.8L154.9 403.8"/>
<path d="M129.9 489.2L130.2 492.5"/>
<path d="M157.7 451.8L160.0 454.1"/>
<path d="M105.3 443.4L103.7 446.3"/>
<path d="M146.3 456.7L147.9 459.5"/>
<path d="M114.9 373.2L114.4 370.0"/>
<path d="M115.4 463.4L115.1 466.7"/>
<path d="M90.0 381.7L87.8 379.3"/>
<path d="M50.5 439.8L47.4 440.9"/>
<path d="M132.7 374.4L133.6 371.3"/>
<path d="M81.9 482.5L80.3 485.3"/>
<path d="M188.1 375.3L190.9 373.6"/>
<path d="M80.9 387.3L78.2 385.4"/>
<path d="M75.5 432.5L72.5 433.7"/>
<path d="M41.4 398.5L38.3 397.8"/>
<path d="M86.2 391.0L83.5 389.2"/>
<path d="M173.2 468.5L175.5 470.8"/>
<path d="M100.5 367.2L99.2 364.2"/>
<path d="M156.4 410.1L159.6 409.6"/>
<path d="M167.5 385.1L170.2 383.3"/>
<path d="M53.2 422.7L50.0 423.1"/>
<path d="M80.4 447.5L77.8 449.5"/>
<path d="M136.7 464.6L137.6 467.7"/>
<path d="M93.3 494.8L92.2 497.9"/>
<path d="M86.6 458.2L84.6 460.8"/>
<path d="M84.0 456.1L81.9 458.5"/>
<path d="M135.0 382.1L136.3 379.1"/>
<path d="M68.3 366.7L65.9 364.5"/>
<path d="M94.4 451.9L92.6 454.6"/>
<path d="M160.9 344.2L162.5 341.4"/>
<path d="M89.9 443.6L87.5 445.8"/>
<path d="M141.5 452.0L143.0 454.8"/>
<path d="M122.4 353.3L122.5 350.0"/>
<path d="M163.1 384.5L165.7 382.6"/>
<path d="M139.7 352.8L140.6 349.6"/>
<path d="M40.6 426.6L37.4 427.1"/>
<path d="M146.4 385.4L148.6 383.0"/>
<path d="M143.3 347.1L144.3 344.0"/>
<path d="M105.1 375.8L103.9 372.8"/>
<path d="M72.4 411.4L69.1 411.2"/>
<path d="M133.6 385.0L134.8 382.0"/>
<path d="M107.7 444.6L106.3 447.6"/>
<path d="M56.0 361.0L53.5 359.0"/>
<path d="M60.8 469.6L58.4 471.7"/>
<path d="M52.4 394.8L49.3 393.9"/>
<path d="M87.0 426.1L83.9 427.1"/>
<path d="M48.2 397.9L45.1 397.2"/>
<path d="M99.8 439.7L97.7 442.1"/>
<path d="M84.8 338.7L83.4 335.7"/>
<path d="M137.6 474.5L138.4 477.6"/>
<path d="M155.4 433.3L158.3 434.8"/>
<path d="M132.1 341.1L132.6 337.9"/>
<path d="M109.6 445.5L108.5 448.5"/>
<path d="M112.5 469.6L112.0 472.8"/>
<path d="M156.1 432.1L159.0 433.5"/>
<path d="M91.2 360.9L89.7 358.1"/>
<path d="M162.5 383.7L165.1 381.7"/>
<path d="M82.2 419.1L79.0 419.5"/>
<path d="M164.9 381.4L167.5 379.5"/>
<path d="M80.2 477.6L78.4 480.3"/>
<path d="M95.5 435.2L93.0 437.2"/>
<path d="M87.0 352.1L85.5 349.2"/>
<path d="M157.9 491.0L159.3 494.0"/>
<path d="M173.5 376.6L176.1 374.7"/>
<path d="M89.0 442.6L86.6 444.7"/>
<path d="M158.7 358.1L160.5 355.4"/>
<path d="M121.3 457.2L121.3 460.5"/>
<path d="M135.3 475.1L136.1 478.2"/>
<path d="M132.4 377.7L133.4 374.6"/>
<path d="M159.9 385.7L162.5 383.7"/>
<path d="M187.2 449.6L190.1 451.1"/>
<path d="M126.7 360.0L127.0 356.8"/>
<path d="M79.3 352.9L77.5 350.2"/>
<path d="M56.2 452.3L53.4 453.9"/>
<path d="M66.1 420.8L62.8 421.2"/>
<path d="M102.1 470.4L101.1 473.4"/>
<path d="M177.1 447.9L179.9 449.5"/>
<path d="M133.5 445.0L134.7 448.0"/>
<path d="M157.6 464.8L159.5 467.4"/>
<path d="M76.0 396.3L73.0 395.1"/>
<path d="M61.5 441.3L58.6 442.6"/>
<path d="M67.1 378.6L64.4 376.8"/>
<path d="M116.3 379.6L115.9 376.3"/>
<path d="M164.5 401.6L167.6 400.6"/>
<path d="M140.8 381.4L142.4 378.6"/>
<path d="M88.5 485.9L87.1 488.9"/>
<path d="M87.2 371.3L85.2 368.7"/>
<path d="M184.7 364.6L187.3 362.6"/>
<path d="M138.4 387.5L140.1 384.8"/>
<path d="M137.9 460.7L139.1 463.8"/>
<path d="M170.7 456.9L173.1 459.0"/>
<path d="M145.4 449.5L147.3 452.1"/>
<path d="M51.5 379.6L48.6 378.1"/>
<path d="M116.8 366.4L116.5 363.2"/>
<path d="M111.3 373.9L110.5 370.7"/>
<path d="M95.1 444.2L93.0 446.6"/>
<path d="M142.8 476.2L143.9 479.3"/>
<path d="M66.0 470.3L63.8 472.7"/>
<path d="M151.2 390.3L153.7 388.3"/>
<path d="M123.0 493.0L123.1 496.2"/>
<path d="M91.1 444.8L88.8 447.1"/>
<path d="M188.7 406.6L192.0 406.2"/>
<path d="M142.8 439.1L145.0 441.5"/>
<path d="M56.0 416.8L52.8 416.9"/>
<path d="M157.7 401.8L160.8 400.7"/>
<path d="M59.4 418.6L56.1 418.8"/>
<path d="M201.8 423.1L205.1 423.4"/>
<path d="M173.0 414.7L176.2 414.7"/>
<path d="M183.3 379.9L186.1 378.3"/>
<path d="M172.2 478.1L174.2 480.7"/>
<path d="M96.6 384.6L94.6 382.0"/>
<path d="M66.1 386.7L63.2 385.2"/>
<path d="M88.3 436.3L85.6 438.1"/>
<path d="M85.5 410.7L82.3 410.3"/>
<path d="M131.2 469.3L131.8 472.5"/>
<path d="M115.9 453.7L115.4 456.9"/>
<path d="M146.7 448.5L148.7 451.1"/>
<path d="M50.4 390.4L47.3 389.3"/>
<path d="M192.2 408.1L195.4 407.8"/>
<path d="M155.0 371.4L157.0 368.9"/>
<path d="M178.2 452.2L180.9 454.0"/>
<path d="M147.9 443.3L150.1 445.6"/>
<path d="M166.5 416.5L169.7 416.6"/>
<path d="M100.1 439.9L98.0 442.4"/>
<path d="M198.3 425.4L201.5 425.8"/>
<path d="M202.4 392.3L205.5 391.5"/>
<path d="M166.8 439.6L169.7 441.1"/>
<path d="M148.0 488.2L149.1 491.2"/>
<path d="M205.3 421.5L208.5 421.7"/>
<path d="M171.3 444.9L174.1 446.5"/>
<path d="M54.8 367.9L52.1 366.0"/>
<path d="M85.3 413.2L82.0 413.1"/>
<path d="M166.3 486.3L168.0 489.1"/>
<path d="M88.2 429.3L85.2 430.6"/>
<path d="M137.0 488.0L137.7 491.2"/>
<path d="M130.2 340.8L130.6 337.6"/>
<path d="M149.6 345.9L150.8 342.9"/>
<path d="M182.6 378.7L185.4 377.1"/>
<path d="M169.5 419.6L172.8 419.9"/>
<path d="M156.4 386.4L158.9 384.3"/>
<path d="M104.0 464.1L102.9 467.2"/>
<path d="M86.6 433.3L83.7 434.9"/>
<path d="M173.0 413.1L176.2 413.0"/>
<path d="M80.2 447.2L77.6 449.3"/>
<path d="M110.4 495.6L109.9 498.8"/>
<path d="M99.8 439.6L97.6 442.1"/>
<path d="M99.8 378.4L98.2 375.6"/>
<path d="M130.4 337.6L130.8 334.3"/>
<path d="M184.3 448.2L187.2 449.7"/>
<path d="M193.9 431.7L197.0 432.5"/>
<path d="M160.1 380.7L162.5 378.5"/>
<path d="M72.5 349.8L70.5 347.2"/>
<path d="M196.6 396.0L199.8 395.2"/>
<path d="M157.2 456.7L159.3 459.2"/>
<path d="M181.4 446.8L184.2 448.4"/>
<path d="M151.0 402.6L154.0 401.3"/>
<path d="M195.4 421.7L198.7 422.0"/>
<path d="M160.1 438.3L162.9 440.0"/>
<path d="M122.7 346.8L122.7 343.5"/>
<path d="M94.8 459.9L93.1 462.7"/>
<path d="M169.8 484.0L171.7 486.6"/>
<path d="M152.0 391.3L154.6 389.4"/>
<path d="M112.1 456.3L111.5 459.5"/>
<path d="M78.7 361.5L76.6 358.9"/>
<path d="M94.2 491.7L93.1 494.8"/>
<path d="M46.5 392.0L43.4 391.1"/>
<path d="M175.0 403.2L178.2 402.5"/>
<path d="M165.4 405.1L168.6 404.4"/>
<path d="M118.3 447.4L118.1 450.6"/>
<path d="M115.7 369.8L115.3 366.6"/>
<path d="M123.8 450.6L124.1 453.9"/>
<path d="M172.9 417.7L176.2 417.8"/>
<path d="M47.2 456.2L44.4 457.8"/>
<path d="M109.4 361.0L108.7 357.8"/>
<path d="M130.5 380.5L131.4 377.4"/>
<path d="M139.5 362.9L140.6 359.9"/>
<path d="M190.4 432.0L193.6 432.8"/>
<path d="M145.3 393.4L147.7 391.2"/>
<path d="M48.1 387.3L45.0 386.2"/>
<path d="M80.8 428.0L77.7 429.1"/>
<path d="M181.8 383.9L184.7 382.5"/>
<path d="M67.9 390.5L64.9 389.2"/>
<path d="M104.6 345.4L103.9 342.2"/>
<path d="M182.6 410.4L185.8 410.1"/>
<path d="M143.3 383.0L145.1 380.3"/>
<path d="M99.0 386.8L97.0 384.2"/>
<path d="M113.7 330.8L113.4 327.6"/>
<path d="M90.1 386.2L87.7 384.0"/>
<path d="M175.9 386.8L178.8 385.3"/>
<path d="M149.1 352.8L150.4 349.8"/>
<path d="M142.8 375.1L144.4 372.2"/>
<path d="M83.5 425.6L80.3 426.5"/>
<path d="M69.0 416.9L65.8 417.0"/>
<path d="M88.4 400.4L85.4 399.1"/>
<path d="M157.3 429.3L160.3 430.5"/>
<path d="M154.8 445.5L157.2 447.7"/>
<path d="M75.3 461.2L73.0 463.5"/>
<path d="M116.1 473.3L115.8 476.5"/>
<path d="M75.7 419.6L72.5 419.9"/>
<path d="M117.8 356.6L117.6 353.3"/>
<path d="M120.7 447.5L120.7 450.7"/>
<path d="M70.7 364.2L68.4 361.9"/>
<path d="M148.8 462.8L150.4 465.6"/>
<path d="M97.8 340.5L96.9 337.4"/>
<path d="M163.0 390.2L165.8 388.6"/>
<path d="M91.3 395.1L88.6 393.3"/>
<path d="M176.6 375.5L179.3 373.6"/>
<path d="M90.9 402.8L87.9 401.6"/>
<path d="M42.9 437.2L39.7 438.1"/>
<path d="M104.6 383.2L103.1 380.4"/>
<path d="M194.8 427.2L198.0 427.7"/>
<path d="M183.5 471.9L185.9 474.0"/>
<path d="M78.7 379.4L76.2 377.3"/>
<path d="M79.9 405.4L76.7 404.7"/>
<path d="M110.3 377.5L109.4 374.4"/>
<path d="M196.2 435.6L199.4 436.5"/>
<path d="M93.0 494.7L91.9 497.8"/>
<path d="M151.4 390.5L153.9 388.5"/>
<path d="M177.3 399.2L180.5 398.3"/>
<path d="M165.9 457.4L168.2 459.7"/>
<path d="M117.6 476.7L117.5 479.9"/>
<path d="M101.3 476.9L100.3 480.0"/>
<path d="M40.1 407.0L36.9 406.6"/>
<path d="M76.6 424.8L73.4 425.5"/>
<path d="M88.4 366.4L86.6 363.7"/>
<path d="M100.5 462.8L99.2 465.8"/>
<path d="M77.1 427.0L74.0 427.8"/>
<path d="M97.5 446.2L95.6 448.7"/>
<path d="M71.2 354.9L69.2 352.4"/>
<path d="M69.4 365.5L67.0 363.3"/>
<path d="M141.7 455.5L143.2 458.4"/>
<path d="M163.0 390.2L165.8 388.6"/>
<path d="M91.0 343.0L89.8 340.0"/>
<path d="M183.7 388.0L186.7 386.7"/>
<path d="M159.7 391.1L162.5 389.4"/>
<path d="M46.7 447.8L43.7 449.1"/>
<path d="M69.0 414.1L65.8 414.1"/>
<path d="M75.2 398.4L72.1 397.3"/>
<path d="M69.8 443.3L67.0 444.9"/>
<path d="M152.7 362.0L154.4 359.2"/>
<path d="M82.4 380.1L80.0 378.0"/>
<path d="M117.1 483.1L116.9 486.4"/>
<path d="M168.9 345.4L170.8 342.7"/>
<path d="M117.4 453.8L117.1 457.1"/>
<path d="M161.7 403.5L164.8 402.6"/>
<path d="M105.4 375.7L104.2 372.7"/>
<path d="M99.2 451.2L97.5 454.0"/>
<path d="M163.5 370.2L165.7 367.8"/>
<path d="M148.2 374.6L150.0 371.9"/>
<path d="M189.0 437.0L192.1 438.0"/>
<path d="M151.5 472.4L153.0 475.3"/>
<path d="M111.5 357.3L111.0 354.1"/>
<path d="M173.6 453.2L176.3 455.1"/>
<path d="M166.7 373.4L169.1 371.2"/>
<path d="M180.7 440.6L183.7 441.9"/>
<path d="M57.8 454.8L55.0 456.6"/>
<path d="M178.0 438.7L181.0 440.0"/>
<path d="M153.5 430.0L156.4 431.4"/>
<path d="M200.2 385.6L203.3 384.5"/>
<path d="M56.0 458.2L53.3 460.0"/>
<path d="M73.2 442.8L70.4 444.4"/>
<path d="M66.6 444.2L63.7 445.7"/>
<path d="M72.0 346.2L70.1 343.5"/>
<path d="M90.7 476.1L89.2 479.1"/>
<path d="M194.5 389.0L197.6 387.9"/>
<path d="M85.4 448.3L83.0 450.5"/>
<path d="M126.0 373.0L126.3 369.8"/>
<path d="M89.3 387.1L86.9 384.9"/>
<path d="M182.8 450.9L185.6 452.5"/>
<path d="M67.0 437.4L64.0 438.6"/>
<path d="M93.9 488.1L92.8 491.2"/>
<path d="M194.7 402.4L197.9 401.8"/>
<path d="M203.0 435.6L206.1 436.4"/>
<path d="M166.2 409.7L169.4 409.3"/>
<path d="M85.1 448.0L82.7 450.2"/>
<path d="M177.7 383.2L180.5 381.6"/>
<path d="M183.1 357.7L185.5 355.5"/>
<path d="M176.7 441.7L179.6 443.1"/>
<path d="M194.6 440.8L197.7 441.8"/>
<path d="M91.7 494.2L90.5 497.3"/>
<path d="M119.2 463.7L119.1 467.0"/>
<path d="M118.9 356.5L118.7 353.3"/>
<path d="M52.1 434.2L49.0 435.1"/>
<path d="M123.3 372.8L123.4 369.6"/>
<path d="M155.6 453.8L157.7 456.3"/>
<path d="M80.3 426.2L77.1 427.1"/>
<path d="M69.0 433.6L65.9 434.7"/>
<path d="M153.6 451.2L155.8 453.7"/>
<path d="M72.3 354.1L70.2 351.6"/>
<path d="M117.6 492.9L117.4 496.2"/>
<path d="M151.4 376.9L153.5 374.4"/>
<path d="M147.0 338.0L148.1 335.0"/>
<path d="M167.2 450.9L169.7 452.9"/>
<path d="M96.2 389.3L93.9 387.0"/>
<path d="M80.2 403.8L77.1 403.0"/>
<path d="M129.7 446.3L130.6 449.4"/>
<path d="M79.0 484.6L77.3 487.3"/>
<path d="M68.9 352.7L66.8 350.2"/>
<path d="M180.7 355.2L183.0 352.9"/>
<path d="M175.0 385.1L177.9 383.5"/>
<path d="M92.8 393.0L90.2 391.0"/>
<path d="M153.6 383.2L155.9 381.0"/>
<path d="M59.9 405.8L56.7 405.3"/>
<path d="M81.9 438.2L79.1 439.9"/>
<path d="M108.1 465.4L107.3 468.5"/>
<path d="M122.6 379.3L122.7 376.0"/>
<path d="M169.7 415.3L173.0 415.3"/>
<path d="M92.4 484.1L91.2 487.1"/>
<path d="M81.5 351.6L79.8 348.8"/>
<path d="M155.0 344.8L156.4 341.9"/>
<path d="M75.8 486.4L74.1 489.1"/>
<path d="M88.5 413.9L85.3 413.8"/>
<path d="M164.8 483.4L166.6 486.1"/>
<path d="M74.1 348.7L72.2 346.0"/>
<path d="M130.2 347.4L130.6 344.2"/>
<path d="M152.3 423.7L155.4 424.6"/>
<path d="M79.1 420.7L75.9 421.1"/>
<path d="M117.0 366.4L116.7 363.2"/>
<path d="M204.4 401.4L207.6 400.9"/>
<path d="M126.3 486.3L126.5 489.5"/>
<path d="M79.3 356.9L77.4 354.3"/>
<path d="M73.0 442.3L70.2 443.9"/>
<path d="M101.2 389.2L99.2 386.7"/>
<path d="M136.4 468.1L137.3 471.2"/>
<path d="M47.3 373.6L44.5 372.0"/>
<path d="M77.8 459.2L75.6 461.5"/>
<path d="M128.1 456.6L128.7 459.8"/>
<path d="M66.6 470.9L64.3 473.2"/>
<path d="M128.7 380.1L129.4 376.9"/>
<path d="M186.7 361.9L189.2 359.8"/>
<path d="M145.5 376.7L147.3 373.9"/>
<path d="M51.3 450.1L48.4 451.6"/>
<path d="M172.8 419.7L176.0 420.0"/>
<path d="M182.2 463.3L184.8 465.3"/>
<path d="M183.3 362.9L185.8 360.8"/>
<path d="M37.4 427.4L34.2 427.8"/>
<path d="M190.6 450.2L193.5 451.7"/>
<path d="M147.4 370.2L149.1 367.4"/>
<path d="M198.4 424.9L201.6 425.3"/>
<path d="M172.9 411.6L176.1 411.4"/>
<path d="M184.7 402.2L187.9 401.5"/>
<path d="M141.7 480.0L142.7 483.1"/>
<path d="M158.1 383.4L160.6 381.3"/>
<path d="M127.1 446.9L127.7 450.1"/>
<path d="M156.0 422.5L159.1 423.2"/>
<path d="M98.9 483.0L97.9 486.1"/>
<path d="M88.2 441.6L85.7 443.7"/>
<path d="M162.0 383.0L164.5 381.0"/>
<path d="M135.7 485.0L136.4 488.2"/>
<path d="M157.8 388.3L160.5 386.4"/>
<path d="M93.7 432.6L91.0 434.4"/>
<path d="M108.4 498.5L107.9 501.8"/>
<path d="M127.5 356.9L127.8 353.6"/>
<path d="M125.4 359.9L125.7 356.7"/>
<path d="M185.8 377.8L188.7 376.2"/>
<path d="M156.0 345.3L157.4 342.4"/>
<path d="M115.3 363.3L115.0 360.1"/>
<path d="M93.6 466.7L92.1 469.6"/>
<path d="M113.4 380.1L112.7 376.9"/>
<path d="M138.4 460.6L139.5 463.6"/>
<path d="M92.9 446.6L90.8 449.0"/>
<path d="M101.8 342.8L100.9 339.6"/>
<path d="M91.5 449.6L89.4 452.1"/>
<path d="M87.0 380.0L84.8 377.7"/>
<path d="M166.5 417.0L169.7 417.1"/>
<path d="M109.3 374.4L108.4 371.3"/>
<path d="M117.5 337.1L117.3 333.8"/>
<path d="M183.7 397.9L186.9 397.1"/>
<path d="M115.2 376.4L114.8 373.2"/>
<path d="M53.0 420.2L49.7 420.5"/>
<path d="M156.7 416.5L160.0 416.7"/>
<path d="M109.4 347.7L108.9 344.5"/>
<path d="M124.6 333.8L124.7 330.6"/>
<path d="M113.8 492.7L113.5 495.9"/>
<path d="M170.1 372.4L172.5 370.2"/>
<path d="M62.8 368.1L60.3 366.0"/>
<path d="M156.7 480.7L158.3 483.5"/>
<path d="M90.7 403.3L87.7 402.1"/>
<path d="M128.9 476.2L129.3 479.5"/>
<path d="M186.4 468.5L188.9 470.6"/>
<path d="M194.3 450.0L197.3 451.4"/>
<path d="M133.3 478.8L133.9 482.0"/>
<path d="M174.9 451.3L177.6 453.1"/>
<path d="M66.7 450.8L64.0 452.5"/>
<path d="M99.9 443.9L98.0 446.5"/>
<path d="M105.6 454.3L104.4 457.4"/>
<path d="M156.0 397.7L158.9 396.3"/>
<path d="M124.6 376.2L124.9 372.9"/>
<path d="M202.8 436.4L205.9 437.2"/>
<path d="M158.8 379.3L161.2 377.1"/>
<path d="M78.4 430.9L75.3 432.1"/>
<path d="M51.7 450.8L48.8 452.3"/>
<path d="M45.1 377.9L42.2 376.4"/>
<path d="M123.5 476.7L123.6 479.9"/>
<path d="M151.2 361.2L152.8 358.3"/>
<path d="M185.1 446.6L188.1 448.0"/>
<path d="M110.0 455.8L109.2 458.9"/>
<path d="M161.2 478.0L162.9 480.8"/>
<path d="M176.3 449.1L179.1 450.8"/>
<path d="M168.0 365.5L170.2 363.1"/>
<path d="M88.6 344.0L87.2 341.1"/>
<path d="M84.1 487.4L82.6 490.3"/>
<path d="M84.2 483.8L82.7 486.7"/>
<path d="M110.0 381.0L109.0 377.9"/>
<path d="M69.9 380.3L67.2 378.5"/>
<path d="M92.5 487.6L91.3 490.6"/>
<path d="M157.9 339.0L159.4 336.1"/>
<path d="M37.6 401.3L34.4 400.7"/>
<path d="M36.6 411.4L33.3 411.2"/>
<path d="M50.4 381.9L47.4 380.5"/>
<path d="M76.6 442.0L73.8 443.7"/>
<path d="M67.4 367.7L65.0 365.5"/>
<path d="M159.7 398.0L162.7 396.7"/>
<path d="M173.8 472.4L176.0 474.8"/>
<path d="M105.2 447.1L103.8 450.0"/>
<path d="M97.5 479.1L96.4 482.1"/>
<path d="M83.8 435.1L81.0 436.7"/>
<path d="M156.3 484.6L157.7 487.5"/>
<path d="M159.4 463.3L161.4 465.9"/>
<path d="M161.8 425.9L165.0 426.7"/>
<path d="M90.8 395.9L88.0 394.2"/>
<path d="M156.5 431.0L159.5 432.4"/>
<path d="M103.8 474.3L102.9 477.4"/>
<path d="M109.1 469.0L108.4 472.1"/>
<path d="M197.2 431.6L200.4 432.3"/>
<path d="M102.3 477.2L101.3 480.3"/>
<path d="M37.8 400.2L34.6 399.6"/>
<path d="M55.2 387.0L52.2 385.8"/>
<path d="M163.5 349.6L165.3 346.9"/>
<path d="M149.0 375.1L150.9 372.5"/>
<path d="M77.9 463.6L75.7 466.1"/>
<path d="M143.8 383.4L145.7 380.7"/>
<path d="M165.8 452.7L168.3 454.7"/>
<path d="M76.4 462.2L74.1 464.6"/>
<path d="M160.6 400.1L163.6 399.0"/>
<path d="M60.8 464.6L58.3 466.7"/>
<path d="M166.5 414.1L169.7 414.1"/>
<path d="M169.0 476.5L171.0 479.1"/>
<path d="M90.6 453.1L88.5 455.6"/>
<path d="M155.6 481.3L157.1 484.1"/>
<path d="M192.4 419.3L195.6 419.5"/>
<path d="M100.2 462.7L98.9 465.6"/>
<path d="M66.3 364.0L64.0 361.8"/>
<path d="M192.7 370.3L195.4 368.5"/>
<path d="M61.8 432.4L58.6 433.3"/>
<path d="M83.5 451.0L81.2 453.3"/>
<path d="M150.8 350.0L152.1 347.0"/>
<path d="M124.2 496.2L124.3 499.4"/>
<path d="M180.8 355.3L183.1 353.0"/>
<path d="M162.7 421.9L165.9 422.5"/>
<path d="M132.0 354.2L132.6 351.0"/>
<path d="M173.8 453.0L176.4 454.8"/>
<path d="M83.8 383.5L81.3 381.4"/>
<path d="M139.6 388.4L141.5 385.7"/>
<path d="M199.0 437.9L202.1 438.8"/>
<path d="M200.5 431.8L203.7 432.4"/>
<path d="M85.7 409.2L82.5 408.6"/>
<path d="M178.2 384.1L181.1 382.6"/>
<path d="M134.1 361.3L134.9 358.2"/>
<path d="M99.0 439.0L96.8 441.3"/>
<path d="M162.4 423.6L165.6 424.2"/>
<path d="M123.4 372.8L123.6 369.6"/>
<path d="M182.4 408.9L185.7 408.6"/>
<path d="M149.5 441.6L151.9 443.8"/>
<path d="M75.7 364.0L73.5 361.6"/>
<path d="M132.9 357.7L133.6 354.5"/>
<path d="M71.4 446.1L68.7 447.8"/>
<path d="M96.3 482.1L95.1 485.1"/>
<path d="M157.7 487.5L159.2 490.4"/>
<path d="M153.5 362.5L155.3 359.8"/>
<path d="M66.7 425.4L63.5 426.0"/>
<path d="M151.8 373.1L153.7 370.5"/>
<path d="M89.6 443.3L87.2 445.4"/>
<path d="M113.8 450.0L113.1 453.2"/>
<path d="M108.6 385.0L107.3 382.0"/>
<path d="M80.2 426.1L77.1 427.0"/>
<path d="M118.0 359.8L117.8 356.6"/>
<path d="M97.6 465.0L96.2 468.0"/>
<path d="M199.3 393.4L202.4 392.5"/>
<path d="M153.5 416.3L156.7 416.5"/>
<path d="M66.6 379.4L63.9 377.6"/>
<path d="M53.4 405.7L50.2 405.2"/>
<path d="M99.7 462.4L98.4 465.4"/>
<path d="M158.9 366.2L160.9 363.7"/>
<path d="M89.9 424.5L86.8 425.4"/>
<path d="M77.4 386.6L74.7 384.8"/>
<path d="M125.5 447.2L125.9 450.4"/>
<path d="M85.1 399.7L82.1 398.4"/>
<path d="M128.0 466.5L128.5 469.7"/>
<path d="M82.5 449.9L80.0 452.1"/>
<path d="M112.0 459.6L111.3 462.8"/>
<path d="M134.2 461.9L135.0 465.1"/>
<path d="M180.6 470.2L183.0 472.4"/>
<path d="M134.7 491.8L135.3 495.0"/>
<path d="M80.7 372.6L78.5 370.2"/>
<path d="M163.9 438.2L166.7 439.8"/>
<path d="M85.3 392.4L82.6 390.7"/>
<path d="M90.5 353.9L89.0 351.0"/>
<path d="M44.0 380.2L41.1 378.8"/>
<path d="M153.5 413.3L156.7 413.1"/>
<path d="M105.3 461.2L104.3 464.2"/>
<path d="M72.3 377.0L69.8 375.0"/>
<path d="M62.1 471.0L59.8 473.3"/>
<path d="M159.8 362.9L161.8 360.3"/>
<path d="M173.0 473.1L175.2 475.5"/>
<path d="M71.3 399.5L68.2 398.6"/>
<path d="M119.3 382.5L119.1 379.3"/>
<path d="M162.7 389.8L165.5 388.1"/>
<path d="M112.0 446.2L111.1 449.4"/>
<path d="M136.5 461.2L137.5 464.3"/>
<path d="M111.1 472.6L110.5 475.9"/>
<path d="M180.9 447.7L183.8 449.2"/>
</g>
<path d="M218.13 418.56 A97.2 97.2 0 0 1 216.94 430.60 L211.81 429.76 A92.0 92.0 0 0 0 212.94 418.37Z" fill="#9dbde6"/>
<path d="M216.59 432.60 A97.2 97.2 0 0 1 213.67 444.34 L208.71 442.77 A92.0 92.0 0 0 0 211.48 431.66Z" fill="#4a88cc"/>
<path d="M213.03 446.27 A97.2 97.2 0 0 1 208.44 457.46 L203.76 455.19 A92.0 92.0 0 0 0 208.11 444.60Z" fill="#b0c9ea"/>
<path d="M207.53 459.28 A97.2 97.2 0 0 1 202.15 468.51 L197.81 465.64 A92.0 92.0 0 0 0 202.90 456.91Z" fill="#c8daf2"/>
<path d="M201.01 470.19 A97.2 97.2 0 0 1 194.47 478.64 L190.54 475.24 A92.0 92.0 0 0 0 196.73 467.24Z" fill="#7ba5dc"/>
<path d="M193.12 480.17 A97.2 97.2 0 0 1 185.53 487.69 L182.08 483.80 A92.0 92.0 0 0 0 189.26 476.68Z" fill="#4a88cc"/>
<path d="M184.00 489.02 A97.2 97.2 0 0 1 175.49 495.49 L172.58 491.18 A92.0 92.0 0 0 0 180.63 485.06Z" fill="#3f7fc8"/>
<path d="M173.80 496.61 A97.2 97.2 0 0 1 164.52 501.91 L162.19 497.26 A92.0 92.0 0 0 0 170.97 492.25Z" fill="#aac5ea"/>
<path d="M162.69 502.80 A97.2 97.2 0 0 1 152.81 506.85 L151.10 501.94 A92.0 92.0 0 0 0 160.46 498.11Z" fill="#c8daf2"/>
<path d="M150.88 507.49 A97.2 97.2 0 0 1 140.79 510.16 L139.74 505.07 A92.0 92.0 0 0 0 149.28 502.55Z" fill="#a8c4e8"/>
<path d="M138.80 510.56 A97.2 97.2 0 0 1 128.46 511.91 L128.06 506.73 A92.0 92.0 0 0 0 137.84 505.44Z" fill="#4a88cc"/>
<path d="M126.43 512.05 A97.2 97.2 0 0 1 116.00 512.07 L116.27 506.88 A92.0 92.0 0 0 0 126.14 506.86Z" fill="#6f9fd8"/>
<path d="M113.97 511.95 A97.2 97.2 0 0 1 103.62 510.63 L104.55 505.52 A92.0 92.0 0 0 0 114.34 506.76Z" fill="#4a88cc"/>
<path d="M101.62 510.25 A97.2 97.2 0 0 1 91.53 507.62 L93.11 502.67 A92.0 92.0 0 0 0 102.66 505.15Z" fill="#8fb2e0"/>
<path d="M89.60 506.99 A97.2 97.2 0 0 1 79.92 503.09 L82.12 498.38 A92.0 92.0 0 0 0 91.28 502.07Z" fill="#4a88cc"/>
<path d="M78.09 502.21 A97.2 97.2 0 0 1 67.92 496.43 L70.76 492.07 A92.0 92.0 0 0 0 80.38 497.55Z" fill="#4a88cc"/>
<path d="M66.23 495.30 A97.2 97.2 0 0 1 56.98 488.13 L60.40 484.22 A92.0 92.0 0 0 0 69.16 491.00Z" fill="#4a88cc"/>
<path d="M55.46 486.78 A97.2 97.2 0 0 1 47.31 478.38 L51.25 474.99 A92.0 92.0 0 0 0 58.96 482.94Z" fill="#6f9fd8"/>
<path d="M46.00 476.83 A97.2 97.2 0 0 1 39.11 467.37 L43.49 464.57 A92.0 92.0 0 0 0 50.01 473.52Z" fill="#4a88cc"/>
<path d="M38.03 465.64 A97.2 97.2 0 0 1 32.55 455.31 L37.28 453.15 A92.0 92.0 0 0 0 42.47 462.93Z" fill="#5591d2"/>
<path d="M31.73 453.45 A97.2 97.2 0 0 1 27.16 440.35 L32.18 439.00 A92.0 92.0 0 0 0 36.50 451.39Z" fill="#4a88cc"/>
<path d="M26.65 438.38 A97.2 97.2 0 0 1 24.29 424.72 L29.46 424.20 A92.0 92.0 0 0 0 31.70 437.13Z" fill="#5a92d2"/>
<path d="M24.10 422.69 A97.2 97.2 0 0 1 24.00 408.83 L29.19 409.16 A92.0 92.0 0 0 0 29.29 422.28Z" fill="#5b93d3"/>
<path d="M24.15 406.80 A97.2 97.2 0 0 1 26.30 393.10 L31.37 394.27 A92.0 92.0 0 0 0 29.33 407.24Z" fill="#c8203a"/>
<path d="M26.78 391.12 A97.2 97.2 0 0 1 31.13 377.96 L35.94 379.94 A92.0 92.0 0 0 0 31.82 392.40Z" fill="#f4b4bc"/>
<path d="M31.93 376.09 A97.2 97.2 0 0 1 36.51 366.95 L41.03 369.52 A92.0 92.0 0 0 0 36.69 378.17Z" fill="#c8d8f0"/>
<path d="M37.53 365.19 A97.2 97.2 0 0 1 43.23 356.70 L47.39 359.82 A92.0 92.0 0 0 0 42.00 367.85Z" fill="#c0d4f0"/>
<path d="M44.47 355.08 A97.2 97.2 0 0 1 51.18 347.37 L54.92 350.99 A92.0 92.0 0 0 0 48.56 358.29Z" fill="#8fb2e0"/>
<path d="M52.61 345.93 A97.2 97.2 0 0 1 60.25 339.13 L63.50 343.19 A92.0 92.0 0 0 0 56.27 349.62Z" fill="#7ba5dc"/>
<path d="M61.85 337.87 A97.2 97.2 0 0 1 70.28 332.09 L72.99 336.52 A92.0 92.0 0 0 0 65.01 342.00Z" fill="#5b93d3"/>
<path d="M72.02 331.04 A97.2 97.2 0 0 1 81.11 326.36 L83.25 331.10 A92.0 92.0 0 0 0 74.64 335.53Z" fill="#4f8ccf"/>
<path d="M82.98 325.55 A97.2 97.2 0 0 1 92.58 322.05 L94.10 327.02 A92.0 92.0 0 0 0 85.01 330.33Z" fill="#4f8ccf"/>
<path d="M94.53 321.47 A97.2 97.2 0 0 1 105.17 319.10 L106.02 324.23 A92.0 92.0 0 0 0 95.95 326.48Z" fill="#a5c2e8"/>
<path d="M107.18 318.79 A97.2 97.2 0 0 1 118.04 317.84 L118.20 323.04 A92.0 92.0 0 0 0 107.92 323.93Z" fill="#4a88cc"/>
<path d="M120.08 317.80 A97.2 97.2 0 0 1 130.97 318.31 L130.43 323.48 A92.0 92.0 0 0 0 120.13 323.00Z" fill="#8fb2e0"/>
<path d="M132.99 318.54 A97.2 97.2 0 0 1 143.71 320.49 L142.50 325.55 A92.0 92.0 0 0 0 132.35 323.70Z" fill="#4f8ccf"/>
<path d="M145.69 320.99 A97.2 97.2 0 0 1 156.06 324.34 L154.18 329.19 A92.0 92.0 0 0 0 144.37 326.02Z" fill="#6f9fd8"/>
<path d="M157.95 325.10 A97.2 97.2 0 0 1 167.78 329.80 L165.28 334.36 A92.0 92.0 0 0 0 155.97 329.91Z" fill="#4a88cc"/>
<path d="M169.56 330.80 A97.2 97.2 0 0 1 178.68 336.76 L175.59 340.95 A92.0 92.0 0 0 0 166.96 335.30Z" fill="#d5e2f4"/>
<path d="M180.31 337.99 A97.2 97.2 0 0 1 188.75 345.30 L185.12 349.03 A92.0 92.0 0 0 0 177.13 342.11Z" fill="#d5e2f4"/>
<path d="M190.19 346.73 A97.2 97.2 0 0 1 197.56 355.12 L193.47 358.32 A92.0 92.0 0 0 0 186.49 350.39Z" fill="#4a88cc"/>
<path d="M198.80 356.74 A97.2 97.2 0 0 1 204.97 366.04 L200.48 368.66 A92.0 92.0 0 0 0 194.64 359.85Z" fill="#a5c2e8"/>
<path d="M205.98 367.81 A97.2 97.2 0 0 1 210.83 377.87 L206.02 379.86 A92.0 92.0 0 0 0 201.43 370.34Z" fill="#4a88cc"/>
<path d="M211.59 379.76 A97.2 97.2 0 0 1 215.03 390.38 L210.00 391.70 A92.0 92.0 0 0 0 206.74 381.65Z" fill="#4a88cc"/>
<path d="M215.53 392.36 A97.2 97.2 0 0 1 217.50 403.35 L212.34 403.97 A92.0 92.0 0 0 0 210.47 393.57Z" fill="#6f9fd8"/>
<path d="M217.72 405.37 A97.2 97.2 0 0 1 218.19 416.53 L212.99 416.45 A92.0 92.0 0 0 0 212.55 405.89Z" fill="#4a88cc"/>
<circle cx="121.0" cy="415.0" r="98.0" fill="none" stroke="#111" stroke-width="0.8"/>
<g stroke="#111" stroke-width="0.7">
<path d="M218.91 419.27L221.50 419.39"/>
<path d="M218.55 424.39L220.14 424.55"/>
<path d="M217.92 429.49L219.51 429.72"/>
<path d="M217.03 434.54L218.60 434.86"/>
<path d="M215.88 439.54L217.43 439.94"/>
<path d="M214.46 444.47L216.94 445.25"/>
<path d="M212.79 449.32L214.29 449.88"/>
<path d="M210.87 454.08L212.34 454.72"/>
<path d="M206.71 462.51L208.99 463.77"/>
<path d="M204.11 466.93L205.47 467.78"/>
<path d="M201.28 471.21L202.59 472.13"/>
<path d="M198.23 475.33L199.49 476.32"/>
<path d="M194.96 479.29L196.17 480.34"/>
<path d="M191.50 483.08L193.37 484.88"/>
<path d="M187.84 486.67L188.93 487.84"/>
<path d="M183.99 490.07L185.02 491.30"/>
<path d="M179.98 493.27L180.94 494.54"/>
<path d="M175.80 496.25L176.70 497.57"/>
<path d="M171.47 499.00L172.81 501.23"/>
<path d="M167.01 501.53L167.76 502.94"/>
<path d="M162.42 503.82L163.09 505.27"/>
<path d="M157.71 505.86L158.31 507.35"/>
<path d="M152.91 507.66L153.43 509.17"/>
<path d="M148.01 509.20L148.73 511.70"/>
<path d="M143.05 510.49L143.41 512.05"/>
<path d="M138.02 511.51L138.30 513.09"/>
<path d="M132.94 512.27L133.14 513.86"/>
<path d="M127.84 512.76L127.95 514.36"/>
<path d="M122.71 512.99L122.76 515.58"/>
<path d="M117.58 512.94L117.52 514.54"/>
<path d="M112.46 512.63L112.32 514.22"/>
<path d="M107.36 512.05L107.14 513.63"/>
<path d="M102.30 511.20L102.00 512.77"/>
<path d="M97.29 510.09L96.66 512.61"/>
<path d="M92.35 508.72L91.88 510.25"/>
<path d="M87.48 507.09L86.93 508.59"/>
<path d="M82.71 505.21L82.08 506.68"/>
<path d="M74.99 501.53L73.77 503.82"/>
<path d="M70.53 499.00L69.70 500.37"/>
<path d="M66.20 496.25L65.30 497.57"/>
<path d="M62.02 493.27L61.06 494.54"/>
<path d="M58.01 490.07L56.98 491.30"/>
<path d="M54.16 486.67L52.39 488.57"/>
<path d="M50.50 483.08L49.35 484.19"/>
<path d="M47.04 479.29L45.83 480.34"/>
<path d="M43.77 475.33L42.51 476.32"/>
<path d="M40.72 471.21L39.41 472.13"/>
<path d="M37.89 466.93L35.69 468.31"/>
<path d="M35.29 462.51L33.89 463.29"/>
<path d="M32.92 457.96L31.48 458.66"/>
<path d="M29.82 450.92L27.40 451.87"/>
<path d="M28.06 446.10L26.55 446.60"/>
<path d="M26.56 441.19L25.02 441.62"/>
<path d="M25.32 436.21L23.76 436.56"/>
<path d="M24.34 431.17L22.77 431.44"/>
<path d="M23.63 426.09L21.05 426.39"/>
<path d="M23.18 420.98L21.59 421.08"/>
<path d="M23.00 415.86L21.40 415.87"/>
<path d="M23.09 410.73L21.49 410.66"/>
<path d="M23.45 405.61L21.86 405.45"/>
<path d="M24.08 400.51L21.51 400.13"/>
<path d="M24.97 395.46L23.40 395.14"/>
<path d="M26.12 390.46L24.57 390.06"/>
<path d="M27.54 385.53L26.01 385.05"/>
<path d="M29.21 380.68L27.71 380.12"/>
<path d="M32.18 373.58L29.83 372.48"/>
<path d="M34.47 368.99L33.06 368.24"/>
<path d="M37.00 364.53L35.63 363.70"/>
<path d="M39.75 360.20L38.43 359.30"/>
<path d="M42.73 356.02L41.46 355.06"/>
<path d="M45.93 352.01L43.94 350.34"/>
<path d="M49.33 348.16L48.16 347.07"/>
<path d="M52.92 344.50L51.81 343.35"/>
<path d="M56.71 341.04L55.66 339.83"/>
<path d="M60.67 337.77L59.68 336.51"/>
<path d="M64.79 334.72L63.30 332.59"/>
<path d="M69.07 331.89L68.22 330.53"/>
<path d="M73.49 329.29L72.71 327.89"/>
<path d="M78.04 326.92L77.34 325.48"/>
<path d="M82.71 324.79L82.08 323.32"/>
<path d="M87.48 322.91L86.59 320.47"/>
<path d="M92.35 321.28L91.88 319.75"/>
<path d="M98.12 319.71L97.52 317.18"/>
<path d="M103.14 318.64L102.85 317.07"/>
<path d="M108.21 317.84L108.00 316.25"/>
<path d="M113.31 317.30L113.19 315.71"/>
<path d="M118.43 317.03L118.39 315.43"/>
<path d="M123.57 317.03L123.63 314.43"/>
<path d="M128.69 317.30L128.81 315.71"/>
<path d="M133.79 317.84L134.00 316.25"/>
<path d="M138.86 318.64L139.15 317.07"/>
<path d="M143.88 319.71L144.25 318.15"/>
<path d="M148.83 321.04L149.57 318.54"/>
<path d="M153.71 322.62L154.25 321.11"/>
<path d="M158.50 324.46L159.12 322.98"/>
<path d="M163.19 326.55L163.88 325.10"/>
<path d="M167.76 328.88L168.53 327.47"/>
<path d="M172.20 331.44L173.56 329.22"/>
<path d="M176.51 334.24L177.41 332.92"/>
<path d="M182.01 338.30L183.62 336.27"/>
<path d="M185.94 341.60L187.00 340.40"/>
<path d="M189.69 345.10L190.81 343.96"/>
<path d="M193.25 348.79L194.43 347.71"/>
<path d="M196.62 352.66L197.85 351.65"/>
<path d="M199.78 356.71L201.87 355.16"/>
<path d="M202.72 360.91L204.06 360.03"/>
<path d="M205.44 365.26L206.82 364.45"/>
<path d="M207.93 369.75L209.35 369.01"/>
<path d="M210.18 374.36L211.63 373.70"/>
<path d="M212.18 379.08L214.60 378.13"/>
<path d="M213.94 383.90L215.45 383.40"/>
<path d="M215.44 388.81L216.98 388.38"/>
<path d="M216.68 393.79L218.24 393.44"/>
<path d="M217.66 398.83L219.23 398.56"/>
<path d="M218.37 403.91L220.95 403.61"/>
<path d="M218.82 409.02L220.41 408.92"/>
<path d="M219.00 414.14L220.60 414.13"/>
</g>
<text x="225.1" y="419.5" font-size="5.3" fill="#111" text-anchor="middle" dominant-baseline="middle" transform="rotate(-87.5 225.1 419.5)">0Mb</text>
<text x="220.4" y="446.3" font-size="5.3" fill="#111" text-anchor="middle" dominant-baseline="middle" transform="rotate(-72.5 220.4 446.3)">20Mb</text>
<text x="212.1" y="465.5" font-size="5.3" fill="#111" text-anchor="middle" dominant-baseline="middle" transform="rotate(-61.0 212.1 465.5)">0Mb</text>
<text x="196.0" y="487.4" font-size="5.3" fill="#111" text-anchor="middle" dominant-baseline="middle" transform="rotate(-46.0 196.0 487.4)">20Mb</text>
<text x="174.7" y="504.3" font-size="5.3" fill="#111" text-anchor="middle" dominant-baseline="middle" transform="rotate(-31.0 174.7 504.3)">40Mb</text>
<text x="149.7" y="515.2" font-size="5.3" fill="#111" text-anchor="middle" dominant-baseline="middle" transform="rotate(-16.0 149.7 515.2)">0Mb</text>
<text x="122.8" y="519.2" font-size="5.3" fill="#111" text-anchor="middle" dominant-baseline="middle" transform="rotate(-1.0 122.8 519.2)">20Mb</text>
<text x="95.8" y="516.1" font-size="5.3" fill="#111" text-anchor="middle" dominant-baseline="middle" transform="rotate(14.0 95.8 516.1)">40Mb</text>
<text x="72.1" y="507.0" font-size="5.3" fill="#111" text-anchor="middle" dominant-baseline="middle" transform="rotate(28.0 72.1 507.0)">0Mb</text>
<text x="49.9" y="491.2" font-size="5.3" fill="#111" text-anchor="middle" dominant-baseline="middle" transform="rotate(43.0 49.9 491.2)">20Mb</text>
<text x="32.6" y="470.2" font-size="5.3" fill="#111" text-anchor="middle" dominant-baseline="middle" transform="rotate(58.0 32.6 470.2)">40Mb</text>
<text x="24.1" y="453.2" font-size="5.3" fill="#111" text-anchor="middle" dominant-baseline="middle" transform="rotate(68.5 24.1 453.2)">0Mb</text>
<text x="17.5" y="426.8" font-size="5.3" fill="#111" text-anchor="middle" dominant-baseline="middle" transform="rotate(83.5 17.5 426.8)">20Mb</text>
<text x="17.9" y="399.6" font-size="5.3" fill="#111" text-anchor="middle" dominant-baseline="middle" transform="rotate(278.5 17.9 399.6)">40Mb</text>
<text x="26.6" y="371.0" font-size="5.3" fill="#111" text-anchor="middle" dominant-baseline="middle" transform="rotate(295.0 26.6 371.0)">0Mb</text>
<text x="41.2" y="348.0" font-size="5.3" fill="#111" text-anchor="middle" dominant-baseline="middle" transform="rotate(310.0 41.2 348.0)">20Mb</text>
<text x="61.2" y="329.6" font-size="5.3" fill="#111" text-anchor="middle" dominant-baseline="middle" transform="rotate(325.0 61.2 329.6)">40Mb</text>
<text x="96.7" y="313.7" font-size="5.3" fill="#111" text-anchor="middle" dominant-baseline="middle" transform="rotate(346.5 96.7 313.7)">0Mb</text>
<text x="123.7" y="310.8" font-size="5.3" fill="#111" text-anchor="middle" dominant-baseline="middle" transform="rotate(361.5 123.7 310.8)">20Mb</text>
<text x="150.6" y="315.1" font-size="5.3" fill="#111" text-anchor="middle" dominant-baseline="middle" transform="rotate(376.5 150.6 315.1)">40Mb</text>
<text x="175.4" y="326.2" font-size="5.3" fill="#111" text-anchor="middle" dominant-baseline="middle" transform="rotate(391.5 175.4 326.2)">60Mb</text>
<text x="185.9" y="333.5" font-size="5.3" fill="#111" text-anchor="middle" dominant-baseline="middle" transform="rotate(398.5 185.9 333.5)">0Mb</text>
<text x="204.8" y="353.0" font-size="5.3" fill="#111" text-anchor="middle" dominant-baseline="middle" transform="rotate(413.5 204.8 353.0)">20Mb</text>
<text x="217.9" y="376.8" font-size="5.3" fill="#111" text-anchor="middle" dominant-baseline="middle" transform="rotate(428.5 217.9 376.8)">40Mb</text>
<text x="224.5" y="403.2" font-size="5.3" fill="#111" text-anchor="middle" dominant-baseline="middle" transform="rotate(443.5 224.5 403.2)">60Mb</text>
<circle cx="121.0" cy="415.0" r="89.4" fill="none" stroke="#111" stroke-width="1"/>
<g stroke="#111" stroke-width="2.1">
<path d="M150.70 415.00L210.40 415.00"/>
<path d="M147.58 428.25L201.01 454.89"/>
<path d="M130.42 443.17L149.37 499.78"/>
<path d="M108.17 441.78L82.37 495.62"/>
<path d="M93.85 427.03L39.27 451.22"/>
<path d="M93.66 403.40L38.71 380.07"/>
<path d="M112.61 386.51L95.76 329.24"/>
<path d="M138.87 391.28L174.80 343.60"/>
</g>
<circle cx="121.0" cy="415.0" r="29.7" fill="#fff" stroke="#111" stroke-width="1"/>
<circle cx="96" cy="337.3" r="2.25" fill="#f5c842"/>
<circle cx="105.5" cy="338.2" r="2.25" fill="#8cc653"/>
<circle cx="119.1" cy="336.6" r="2.25" fill="#8cc653"/>
<circle cx="130.5" cy="337.6" r="2.25" fill="#8cc653"/>
<circle cx="132.5" cy="337.2" r="2.25" fill="#8cc653"/>
<circle cx="103.6" cy="348.9" r="2.25" fill="#f2756a"/>
<circle cx="112.7" cy="372.8" r="2.25" fill="#f2756a"/>
<circle cx="137.9" cy="372.2" r="2.25" fill="#6e9ecb"/>
<circle cx="156.1" cy="352.4" r="2.25" fill="#7f96c9"/>
<circle cx="161.3" cy="359.8" r="2.25" fill="#f47d5e"/>
<circle cx="157.8" cy="373.6" r="2.25" fill="#a477b8"/>
<circle cx="151.8" cy="376.8" r="2.25" fill="#9ccc6b"/>
<circle cx="138.2" cy="386.7" r="2.25" fill="#7ecdb9"/>
<circle cx="144.3" cy="387.7" r="2.25" fill="#f3f0a2"/>
<circle cx="144.3" cy="391.7" r="2.25" fill="#7ecdb9"/>
<circle cx="153.8" cy="412.4" r="2.25" fill="#7ecdb9"/>
<circle cx="183.4" cy="362.1" r="2.25" fill="#f5c842"/>
<circle cx="178.7" cy="378.3" r="2.25" fill="#f47d5e"/>
<circle cx="77.9" cy="349.1" r="2.25" fill="#8cc653"/>
<circle cx="80.6" cy="347.5" r="2.25" fill="#8cc653"/>
<circle cx="84.1" cy="345.5" r="2.25" fill="#8cc653"/>
<circle cx="70.6" cy="354.4" r="2.25" fill="#9ccc6b"/>
<circle cx="55.9" cy="365.4" r="2.25" fill="#f5c842"/>
<circle cx="75.5" cy="367.8" r="2.25" fill="#4db394"/>
<circle cx="54" cy="372.7" r="2.25" fill="#9ccc6b"/>
<circle cx="60.7" cy="375.1" r="2.25" fill="#7f96c9"/>
<circle cx="52.4" cy="382.6" r="2.25" fill="#d96eb6"/>
<circle cx="69.5" cy="385.5" r="2.25" fill="#c6e5c5"/>
<circle cx="86.5" cy="383.9" r="2.25" fill="#6e9ecb"/>
<circle cx="89.4" cy="385.8" r="2.25" fill="#f2756a"/>
<circle cx="90.2" cy="389.5" r="2.25" fill="#b1aed6"/>
<circle cx="91.2" cy="394.1" r="2.25" fill="#f3f0a2"/>
<circle cx="42.8" cy="390.1" r="2.25" fill="#f5c842"/>
<circle cx="40" cy="400.2" r="2.25" fill="#f5c842"/>
<circle cx="41.5" cy="398.5" r="2.25" fill="#f5d76b"/>
<circle cx="36.8" cy="403" r="2.25" fill="#dcb48a"/>
<circle cx="53.5" cy="399.4" r="2.25" fill="#f47d5e"/>
<circle cx="52.7" cy="403" r="2.25" fill="#f47d5e"/>
<circle cx="58.8" cy="405.8" r="2.25" fill="#f5d76b"/>
<circle cx="62.8" cy="403.7" r="2.25" fill="#c6e5c5"/>
<circle cx="68.8" cy="404.6" r="2.25" fill="#f5b9d8"/>
<circle cx="45.2" cy="408.6" r="2.25" fill="#d96eb6"/>
<circle cx="58" cy="412.1" r="2.25" fill="#f5d76b"/>
<circle cx="42" cy="415" r="2.25" fill="#8cc653"/>
<circle cx="51.6" cy="417.7" r="2.25" fill="#f47d5e"/>
<circle cx="43.6" cy="432.4" r="2.25" fill="#8cc653"/>
<circle cx="83.8" cy="431.3" r="2.25" fill="#b1aed6"/>
<circle cx="100.6" cy="449.7" r="2.25" fill="#b1aed6"/>
<circle cx="53.5" cy="467.7" r="2.25" fill="#dcb48a"/>
<circle cx="81.4" cy="483.1" r="2.25" fill="#8cc653"/>
<circle cx="77.8" cy="484.7" r="2.25" fill="#f5c842"/>
<circle cx="75.8" cy="488" r="2.25" fill="#dcb48a"/>
<circle cx="79" cy="486" r="2.25" fill="#f5d76b"/>
<circle cx="111.3" cy="454" r="2.25" fill="#b1aed6"/>
<circle cx="133.1" cy="453.3" r="2.25" fill="#b1aed6"/>
<circle cx="136.7" cy="448.4" r="2.25" fill="#f3f0a2"/>
<circle cx="136.7" cy="459" r="2.25" fill="#6e9ecb"/>
<circle cx="95" cy="492.7" r="2.25" fill="#f5c842"/>
<circle cx="118.9" cy="497.1" r="2.25" fill="#f5c842"/>
<circle cx="112.7" cy="500.1" r="2.25" fill="#dcb48a"/>
<circle cx="140.2" cy="495" r="2.25" fill="#f5c842"/>
<circle cx="148.5" cy="492.3" r="2.25" fill="#f5c842"/>
<circle cx="156.2" cy="434.2" r="2.25" fill="#b1aed6"/>
<circle cx="158.8" cy="435.6" r="2.25" fill="#f2756a"/>
<circle cx="155.8" cy="440.9" r="2.25" fill="#f2756a"/>
<circle cx="170.4" cy="441.3" r="2.25" fill="#a477b8"/>
<circle cx="174.8" cy="447.5" r="2.25" fill="#f3f0a2"/>
<circle cx="176.9" cy="450.5" r="2.25" fill="#4db394"/>
<circle cx="193.8" cy="444.8" r="2.25" fill="#8cc653"/>
<circle cx="195.2" cy="450.1" r="2.25" fill="#f5c842"/>
<circle cx="199.3" cy="439.5" r="2.25" fill="#f5c842"/>
<circle cx="202.6" cy="417.5" r="2.25" fill="#f5c842"/>
<circle cx="202.6" cy="420.5" r="2.25" fill="#f5c842"/>
<circle cx="184.5" cy="472" r="2.25" fill="#dcb48a"/>
<text x="140.9" y="307.9" font-size="10.2" fill="#231f20" text-anchor="middle" transform="rotate(10 140.9 307.9)">Chr07</text>
<text x="219.1" y="367.6" font-size="10.2" fill="#231f20" text-anchor="middle" transform="rotate(63 219.1 367.6)">Chr08</text>
<text x="234.5" y="441.2" font-size="10.2" fill="#231f20" text-anchor="middle" transform="rotate(-78 234.5 441.2)">Chr01</text>
<text x="197.9" y="503.5" font-size="10.2" fill="#231f20" text-anchor="middle" transform="rotate(-40 197.9 503.5)">Chr02</text>
<text x="114.7" y="531.3" font-size="10.2" fill="#231f20" text-anchor="middle" transform="rotate(2 114.7 531.3)">Chr03</text>
<text x="38.4" y="497.4" font-size="10.2" fill="#231f20" text-anchor="middle" transform="rotate(43 38.4 497.4)">Chr04</text>
<text x="4.6" y="416" font-size="10.2" fill="#231f20" text-anchor="middle" transform="rotate(90 4.6 416)">Chr05</text>
<text x="49.1" y="332.8" font-size="10.2" fill="#231f20" text-anchor="middle" transform="rotate(-45 49.1 332.8)">Chr06</text>
<text x="232" y="281.6" font-size="9.7" text-anchor="start" fill="#231f20">Gene number</text>
<defs><linearGradient id="gn" x1="0" y1="0" x2="0" y2="1"><stop offset="0" stop-color="#d9424d"/><stop offset="0.22" stop-color="#ee8a92"/><stop offset="0.48" stop-color="#ffffff"/><stop offset="0.7" stop-color="#a9c3e8"/><stop offset="1" stop-color="#3f7fc8"/></linearGradient></defs>
<rect x="245.2" y="286.3" width="10.5" height="51" fill="url(#gn)"/>
<text x="259.4" y="290.5" font-size="9.7" text-anchor="start" fill="#231f20">16</text>
<text x="259.4" y="303.5" font-size="9.7" text-anchor="start" fill="#231f20">12</text>
<text x="259.4" y="315.5" font-size="9.7" text-anchor="start" fill="#231f20">8</text>
<text x="259.4" y="326" font-size="9.7" text-anchor="start" fill="#231f20">4</text>
<text x="259.4" y="339.5" font-size="9.7" text-anchor="start" fill="#231f20">0</text>
<text x="232" y="350" font-size="9.7" text-anchor="start" fill="#231f20">Gene class</text>
<rect x="245.3" y="353.50" width="10.3" height="9.4" fill="#7ecdb9"/>
<text x="259.5" y="361.8" font-size="9.7" text-anchor="start" fill="#231f20">PAL</text>
<rect x="245.3" y="364.55" width="10.3" height="9.4" fill="#f3f0a2"/>
<text x="259.5" y="372.85" font-size="9.7" text-anchor="start" fill="#231f20">C4H</text>
<rect x="245.3" y="375.60" width="10.3" height="9.4" fill="#b1aed6"/>
<text x="259.5" y="383.9" font-size="9.7" text-anchor="start" fill="#231f20">4CL</text>
<rect x="245.3" y="386.65" width="10.3" height="9.4" fill="#f2756a"/>
<text x="259.5" y="394.95" font-size="9.7" text-anchor="start" fill="#231f20">CHS</text>
<rect x="245.3" y="397.70" width="10.3" height="9.4" fill="#6e9ecb"/>
<text x="259.5" y="406.0" font-size="9.7" text-anchor="start" fill="#231f20">CHR</text>
<rect x="245.3" y="408.75" width="10.3" height="9.4" fill="#9ccc6b"/>
<text x="259.5" y="417.05" font-size="9.7" text-anchor="start" fill="#231f20">CHI</text>
<rect x="245.3" y="419.80" width="10.3" height="9.4" fill="#f5b9d8"/>
<text x="259.5" y="428.1" font-size="9.7" text-anchor="start" fill="#231f20">IFS</text>
<rect x="245.3" y="430.85" width="10.3" height="9.4" fill="#a477b8"/>
<text x="259.5" y="439.15" font-size="9.7" text-anchor="start" fill="#231f20">HID</text>
<rect x="245.3" y="441.90" width="10.3" height="9.4" fill="#c6e5c5"/>
<text x="259.5" y="450.2" font-size="9.7" text-anchor="start" fill="#231f20">OMT</text>
<rect x="245.3" y="452.95" width="10.3" height="9.4" fill="#f5d76b"/>
<text x="259.5" y="461.25" font-size="9.7" text-anchor="start" fill="#231f20">I2'H</text>
<rect x="245.3" y="464.00" width="10.3" height="9.4" fill="#4db394"/>
<text x="259.5" y="472.3" font-size="9.7" text-anchor="start" fill="#231f20">IFR</text>
<rect x="245.3" y="475.05" width="10.3" height="9.4" fill="#f47d5e"/>
<text x="259.5" y="483.35" font-size="9.7" text-anchor="start" fill="#231f20">VR</text>
<rect x="245.3" y="486.10" width="10.3" height="9.4" fill="#7f96c9"/>
<text x="259.5" y="494.4" font-size="9.7" text-anchor="start" fill="#231f20">PTS</text>
<rect x="245.3" y="497.15" width="10.3" height="9.4" fill="#d96eb6"/>
<text x="259.5" y="505.45" font-size="9.7" text-anchor="start" fill="#231f20">PTR</text>
<rect x="245.3" y="508.20" width="10.3" height="9.4" fill="#8cc653"/>
<text x="259.5" y="516.5" font-size="9.7" text-anchor="start" fill="#231f20">PT</text>
<rect x="245.3" y="519.25" width="10.3" height="9.4" fill="#f5c842"/>
<text x="259.5" y="527.55" font-size="9.7" text-anchor="start" fill="#231f20">OC</text>
<rect x="245.3" y="530.30" width="10.3" height="9.4" fill="#dcb48a"/>
<text x="259.5" y="538.6" font-size="9.7" text-anchor="start" fill="#231f20">DMT</text>
<text x="315.4" y="24.2" font-size="13" text-anchor="start" font-weight="bold" fill="#231f20">c</text>
<text x="369.4" y="50.2" font-size="9.6" text-anchor="middle" fill="#231f20">Tap</text>
<text x="369.4" y="59.4" font-size="9.6" text-anchor="middle" fill="#231f20">roots</text>
<text x="446.5" y="50.2" font-size="9.6" text-anchor="middle" fill="#231f20">Horizontal</text>
<text x="446.5" y="59.4" font-size="9.6" text-anchor="middle" fill="#231f20">roots</text>
<text x="530" y="59.6" font-size="9.6" text-anchor="middle" fill="#231f20">Stems</text>
<text x="609.5" y="59.6" font-size="9.6" text-anchor="middle" fill="#231f20">Leaves</text>
<text x="667.5" y="59.6" font-size="9.6" text-anchor="middle" fill="#231f20">Sprouts</text>
<path d="M345.5 21.5 C350 27 356 32 363 33.5 C371 34.5 380 33 387.5 29.8" stroke="#7a2c18" stroke-width="2.6" fill="none" stroke-linecap="round"/>
<g stroke="#d9c6a0" stroke-width="0.6"><path d="M352 27 L350 31"/><path d="M357 30 L356 26"/><path d="M364 34 L363 37"/><path d="M372 33 L373 29"/><path d="M379 32 L381 35"/></g>
<path d="M428.5 30 C432 32 436 34 440 36 C445 37.5 452 37.5 459 36.5 C464 34 465 28 465.5 20" stroke="#8a3a20" stroke-width="1.1" fill="none" stroke-linecap="round"/>
<path d="M465.2 20 L466.5 19.2 L466.5 24" stroke="#8a3a20" stroke-width="1.3" fill="none"/>
<g stroke="#5d8f35" stroke-linecap="round" fill="none"><path d="M522 43.5 L542.5 23.5" stroke-width="2.4"/><path d="M523 43 L546.5 33.2" stroke-width="2.4"/><path d="M523 43.5 L542 24.5" stroke="#9cc46a" stroke-width="0.8"/></g>
<path d="M597.5 29.5 C606 29 616 34 621.5 43.2 C612 43 602 38 597.5 29.5Z" fill="#2f6b2a"/>
<path d="M598 46.8 C604 41 614 39.5 621.5 42 C615 47 605 48.5 598 46.8Z" fill="#3b7d33"/>
<path d="M599 30.5 C607 33 614 37 620 42.5" stroke="#8fbf6a" stroke-width="0.5" fill="none"/>
<g stroke="#7ea65a" stroke-width="0.9" fill="none" stroke-linecap="round"><path d="M654 40 L672 34"/><path d="M656 40.5 L668 46.5"/><path d="M660 38 L666 29.5"/><path d="M664 36.5 L671 28.5"/><path d="M665 38 L676 37"/><path d="M663 42 L675.5 42"/></g>
<rect x="339.7" y="63.0" width="55.8" height="469.6" fill="#e6e7f3"/>
<rect x="397.7" y="63.0" width="86.8" height="469.6" fill="#e6e7f3"/>
<rect x="486.7" y="63.0" width="80.6" height="469.6" fill="#e6e7f3"/>
<rect x="569.3" y="63.0" width="86.8" height="469.6" fill="#e6e7f3"/>
<rect x="658.2" y="63.0" width="18.6" height="469.6" fill="#e6e7f3"/>
<g shape-rendering="crispEdges"><path fill="#e6e7f3" d="M339.7 63.00H370.7V66.88H339.7ZM383.1 63.00H389.3V66.88H383.1ZM376.9 66.88H383.1V70.76H376.9ZM370.7 70.76H376.9V74.64H370.7ZM364.5 78.52H370.7V82.40H364.5ZM339.7 82.40H395.5V86.29H339.7ZM370.7 86.29H376.9V90.17H370.7ZM352.1 90.17H358.3V94.05H352.1ZM376.9 90.17H383.1V94.05H376.9ZM345.9 94.05H352.1V97.93H345.9ZM376.9 94.05H383.1V97.93H376.9ZM352.1 105.69H358.3V109.57H352.1ZM370.7 105.69H376.9V109.57H370.7ZM383.1 109.57H389.3V113.45H383.1ZM383.1 113.45H389.3V117.33H383.1ZM345.9 117.33H358.3V121.21H345.9ZM352.1 121.21H358.3V125.10H352.1ZM345.9 128.98H352.1V132.86H345.9ZM358.3 136.74H370.7V140.62H358.3ZM376.9 136.74H383.1V140.62H376.9ZM358.3 140.62H370.7V144.50H358.3ZM376.9 140.62H383.1V144.50H376.9ZM364.5 144.50H376.9V148.38H364.5ZM352.1 148.38H358.3V152.26H352.1ZM364.5 148.38H376.9V152.26H364.5ZM383.1 148.38H389.3V152.26H383.1ZM339.7 152.26H370.7V156.14H339.7ZM383.1 152.26H395.5V156.14H383.1ZM339.7 156.14H370.7V160.02H339.7ZM376.9 156.14H395.5V160.02H376.9ZM352.1 160.02H358.3V163.91H352.1ZM370.7 160.02H395.5V163.91H370.7ZM339.7 163.91H383.1V167.79H339.7ZM389.3 163.91H395.5V167.79H389.3ZM358.3 167.79H364.5V171.67H358.3ZM339.7 171.67H370.7V175.55H339.7ZM383.1 171.67H395.5V175.55H383.1ZM352.1 175.55H358.3V179.43H352.1ZM383.1 175.55H389.3V179.43H383.1ZM364.5 183.31H370.7V187.19H364.5ZM345.9 194.95H352.1V198.83H345.9ZM339.7 198.83H358.3V202.72H339.7ZM370.7 198.83H376.9V202.72H370.7ZM345.9 206.60H352.1V210.48H345.9ZM383.1 206.60H389.3V210.48H383.1ZM358.3 210.48H364.5V214.36H358.3ZM389.3 210.48H395.5V214.36H389.3ZM339.7 214.36H345.9V218.24H339.7ZM352.1 214.36H364.5V218.24H352.1ZM383.1 214.36H389.3V218.24H383.1ZM345.9 218.24H352.1V222.12H345.9ZM339.7 222.12H345.9V226.00H339.7ZM383.1 229.88H389.3V233.76H383.1ZM383.1 237.64H389.3V241.53H383.1ZM345.9 241.53H358.3V245.41H345.9ZM376.9 241.53H389.3V245.41H376.9ZM339.7 253.17H345.9V257.05H339.7ZM383.1 253.17H389.3V257.05H383.1ZM339.7 257.05H345.9V260.93H339.7ZM364.5 257.05H370.7V260.93H364.5ZM383.1 257.05H389.3V260.93H383.1ZM339.7 260.93H345.9V264.81H339.7ZM352.1 260.93H370.7V264.81H352.1ZM376.9 260.93H395.5V264.81H376.9ZM352.1 264.81H395.5V268.69H352.1ZM364.5 303.62H370.7V307.50H364.5ZM358.3 420.05H364.5V423.93H358.3ZM339.7 451.10H345.9V454.98H339.7ZM364.5 451.10H370.7V454.98H364.5ZM376.9 451.10H383.1V454.98H376.9ZM339.7 470.50H352.1V474.39H339.7ZM358.3 470.50H395.5V474.39H358.3ZM376.9 478.27H383.1V482.15H376.9ZM352.1 486.03H358.3V489.91H352.1ZM383.1 486.03H389.3V489.91H383.1ZM352.1 489.91H358.3V493.79H352.1ZM383.1 489.91H389.3V493.79H383.1ZM352.1 493.79H358.3V497.67H352.1ZM376.9 497.67H383.1V501.55H376.9ZM364.5 501.55H370.7V505.43H364.5ZM376.9 501.55H383.1V505.43H376.9ZM352.1 505.43H395.5V509.31H352.1ZM339.7 509.31H345.9V513.20H339.7ZM358.3 509.31H395.5V513.20H358.3ZM397.7 63.00H403.9V66.88H397.7ZM410.1 63.00H428.7V66.88H410.1ZM453.5 63.00H484.5V66.88H453.5ZM422.5 66.88H428.7V70.76H422.5ZM434.9 66.88H447.3V70.76H434.9ZM453.5 66.88H459.7V70.76H453.5ZM422.5 70.76H428.7V74.64H422.5ZM441.1 70.76H447.3V74.64H441.1ZM472.1 70.76H478.3V74.64H472.1ZM447.3 74.64H453.5V78.52H447.3ZM459.7 74.64H472.1V78.52H459.7ZM410.1 78.52H416.3V82.40H410.1ZM422.5 78.52H428.7V82.40H422.5ZM447.3 78.52H459.7V82.40H447.3ZM465.9 78.52H472.1V82.40H465.9ZM478.3 78.52H484.5V82.40H478.3ZM397.7 82.40H434.9V86.29H397.7ZM441.1 82.40H484.5V86.29H441.1ZM403.9 86.29H410.1V90.17H403.9ZM434.9 86.29H441.1V90.17H434.9ZM447.3 86.29H453.5V90.17H447.3ZM478.3 86.29H484.5V90.17H478.3ZM403.9 90.17H410.1V94.05H403.9ZM428.7 90.17H434.9V94.05H428.7ZM397.7 94.05H403.9V97.93H397.7ZM428.7 94.05H434.9V97.93H428.7ZM459.7 94.05H465.9V97.93H459.7ZM403.9 105.69H410.1V109.57H403.9ZM465.9 105.69H472.1V109.57H465.9ZM459.7 109.57H465.9V113.45H459.7ZM441.1 113.45H447.3V117.33H441.1ZM434.9 121.21H441.1V125.10H434.9ZM397.7 125.10H403.9V128.98H397.7ZM453.5 125.10H459.7V128.98H453.5ZM434.9 128.98H441.1V132.86H434.9ZM465.9 128.98H472.1V132.86H465.9ZM434.9 132.86H441.1V136.74H434.9ZM459.7 132.86H465.9V136.74H459.7ZM416.3 136.74H428.7V140.62H416.3ZM465.9 136.74H478.3V140.62H465.9ZM403.9 140.62H410.1V144.50H403.9ZM422.5 140.62H428.7V144.50H422.5ZM397.7 148.38H403.9V152.26H397.7ZM459.7 148.38H465.9V152.26H459.7ZM397.7 152.26H484.5V156.14H397.7ZM397.7 156.14H484.5V160.02H397.7ZM428.7 160.02H441.1V163.91H428.7ZM459.7 160.02H478.3V163.91H459.7ZM397.7 163.91H434.9V167.79H397.7ZM447.3 163.91H459.7V167.79H447.3ZM465.9 163.91H484.5V167.79H465.9ZM410.1 167.79H416.3V171.67H410.1ZM441.1 167.79H453.5V171.67H441.1ZM465.9 167.79H472.1V171.67H465.9ZM397.7 171.67H484.5V175.55H397.7ZM410.1 175.55H422.5V179.43H410.1ZM434.9 175.55H441.1V179.43H434.9ZM453.5 175.55H459.7V179.43H453.5ZM428.7 179.43H441.1V183.31H428.7ZM416.3 183.31H428.7V187.19H416.3ZM441.1 183.31H447.3V187.19H441.1ZM459.7 183.31H478.3V187.19H459.7ZM434.9 191.07H441.1V194.95H434.9ZM397.7 198.83H403.9V202.72H397.7ZM434.9 198.83H441.1V202.72H434.9ZM453.5 198.83H459.7V202.72H453.5ZM465.9 198.83H472.1V202.72H465.9ZM478.3 198.83H484.5V202.72H478.3ZM434.9 210.48H441.1V214.36H434.9ZM478.3 210.48H484.5V214.36H478.3ZM416.3 214.36H428.7V218.24H416.3ZM472.1 222.12H478.3V226.00H472.1ZM478.3 229.88H484.5V233.76H478.3ZM397.7 233.76H403.9V237.64H397.7ZM403.9 237.64H410.1V241.53H403.9ZM416.3 237.64H422.5V241.53H416.3ZM478.3 237.64H484.5V241.53H478.3ZM410.1 241.53H434.9V245.41H410.1ZM441.1 241.53H453.5V245.41H441.1ZM459.7 241.53H478.3V245.41H459.7ZM403.9 253.17H428.7V257.05H403.9ZM453.5 253.17H459.7V257.05H453.5ZM465.9 253.17H478.3V257.05H465.9ZM403.9 257.05H434.9V260.93H403.9ZM441.1 257.05H447.3V260.93H441.1ZM453.5 257.05H478.3V260.93H453.5ZM403.9 260.93H428.7V264.81H403.9ZM434.9 260.93H453.5V264.81H434.9ZM459.7 260.93H484.5V264.81H459.7ZM403.9 264.81H434.9V268.69H403.9ZM441.1 264.81H453.5V268.69H441.1ZM459.7 264.81H478.3V268.69H459.7ZM447.3 303.62H453.5V307.50H447.3ZM465.9 311.38H478.3V315.26H465.9ZM447.3 319.15H453.5V323.03H447.3ZM447.3 354.07H453.5V357.96H447.3ZM447.3 365.72H453.5V369.60H447.3ZM472.1 365.72H478.3V369.60H472.1ZM472.1 385.12H478.3V389.00H472.1ZM428.7 389.00H434.9V392.88H428.7ZM472.1 389.00H478.3V392.88H472.1ZM416.3 392.88H422.5V396.77H416.3ZM447.3 392.88H453.5V396.77H447.3ZM453.5 396.77H459.7V400.65H453.5ZM478.3 396.77H484.5V400.65H478.3ZM410.1 400.65H416.3V404.53H410.1ZM453.5 427.81H459.7V431.69H453.5ZM441.1 435.58H447.3V439.46H441.1ZM472.1 435.58H478.3V439.46H472.1ZM397.7 451.10H403.9V454.98H397.7ZM434.9 458.86H441.1V462.74H434.9ZM397.7 470.50H484.5V474.39H397.7ZM416.3 489.91H422.5V493.79H416.3ZM453.5 489.91H459.7V493.79H453.5ZM447.3 501.55H453.5V505.43H447.3ZM465.9 501.55H472.1V505.43H465.9ZM478.3 501.55H484.5V505.43H478.3ZM397.7 505.43H416.3V509.31H397.7ZM422.5 505.43H484.5V509.31H422.5ZM397.7 509.31H434.9V513.20H397.7ZM441.1 509.31H484.5V513.20H441.1ZM492.9 63.00H499.1V66.88H492.9ZM505.3 63.00H517.7V66.88H505.3ZM523.9 63.00H536.3V66.88H523.9ZM542.5 63.00H561.1V66.88H542.5ZM505.3 66.88H511.5V70.76H505.3ZM542.5 66.88H548.7V70.76H542.5ZM486.7 70.76H492.9V74.64H486.7ZM536.3 70.76H548.7V74.64H536.3ZM548.7 74.64H554.9V78.52H548.7ZM523.9 78.52H530.1V82.40H523.9ZM486.7 82.40H554.9V86.29H486.7ZM561.1 82.40H567.3V86.29H561.1ZM486.7 86.29H492.9V90.17H486.7ZM499.1 86.29H517.7V90.17H499.1ZM542.5 86.29H548.7V90.17H542.5ZM554.9 86.29H561.1V90.17H554.9ZM486.7 90.17H492.9V94.05H486.7ZM517.7 90.17H523.9V94.05H517.7ZM517.7 94.05H523.9V97.93H517.7ZM517.7 97.93H523.9V101.81H517.7ZM505.3 101.81H511.5V105.69H505.3ZM517.7 117.33H530.1V121.21H517.7ZM548.7 117.33H554.9V121.21H548.7ZM523.9 121.21H536.3V125.10H523.9ZM561.1 121.21H567.3V125.10H561.1ZM554.9 125.10H561.1V128.98H554.9ZM492.9 132.86H499.1V136.74H492.9ZM492.9 136.74H499.1V140.62H492.9ZM505.3 140.62H523.9V144.50H505.3ZM505.3 144.50H511.5V148.38H505.3ZM492.9 148.38H499.1V152.26H492.9ZM505.3 148.38H523.9V152.26H505.3ZM530.1 148.38H536.3V152.26H530.1ZM542.5 148.38H567.3V152.26H542.5ZM505.3 152.26H536.3V156.14H505.3ZM542.5 152.26H567.3V156.14H542.5ZM499.1 156.14H536.3V160.02H499.1ZM542.5 156.14H567.3V160.02H542.5ZM499.1 160.02H505.3V163.91H499.1ZM523.9 160.02H530.1V163.91H523.9ZM542.5 160.02H548.7V163.91H542.5ZM486.7 163.91H492.9V167.79H486.7ZM505.3 163.91H536.3V167.79H505.3ZM542.5 163.91H567.3V167.79H542.5ZM523.9 167.79H536.3V171.67H523.9ZM499.1 171.67H536.3V175.55H499.1ZM542.5 171.67H567.3V175.55H542.5ZM517.7 175.55H530.1V179.43H517.7ZM530.1 179.43H536.3V183.31H530.1ZM511.5 183.31H523.9V187.19H511.5ZM530.1 183.31H536.3V187.19H530.1ZM554.9 183.31H561.1V187.19H554.9ZM542.5 206.60H548.7V210.48H542.5ZM505.3 210.48H511.5V214.36H505.3ZM554.9 210.48H567.3V214.36H554.9ZM486.7 214.36H536.3V218.24H486.7ZM542.5 214.36H554.9V218.24H542.5ZM561.1 214.36H567.3V218.24H561.1ZM492.9 218.24H505.3V222.12H492.9ZM486.7 222.12H492.9V226.00H486.7ZM523.9 222.12H530.1V226.00H523.9ZM492.9 226.00H499.1V229.88H492.9ZM530.1 226.00H536.3V229.88H530.1ZM499.1 233.76H505.3V237.64H499.1ZM511.5 233.76H517.7V237.64H511.5ZM548.7 237.64H554.9V241.53H548.7ZM486.7 241.53H561.1V245.41H486.7ZM486.7 253.17H554.9V257.05H486.7ZM561.1 253.17H567.3V257.05H561.1ZM486.7 257.05H517.7V260.93H486.7ZM523.9 257.05H554.9V260.93H523.9ZM561.1 257.05H567.3V260.93H561.1ZM486.7 260.93H567.3V264.81H486.7ZM486.7 264.81H567.3V268.69H486.7ZM486.7 268.69H567.3V272.57H486.7ZM554.9 272.57H561.1V276.45H554.9ZM499.1 276.45H505.3V280.34H499.1ZM536.3 276.45H542.5V280.34H536.3ZM505.3 280.34H511.5V284.22H505.3ZM542.5 280.34H548.7V284.22H542.5ZM511.5 311.38H517.7V315.26H511.5ZM554.9 311.38H561.1V315.26H554.9ZM554.9 315.26H561.1V319.15H554.9ZM486.7 326.91H492.9V330.79H486.7ZM554.9 334.67H561.1V338.55H554.9ZM511.5 338.55H517.7V342.43H511.5ZM486.7 342.43H492.9V346.31H486.7ZM511.5 342.43H517.7V346.31H511.5ZM486.7 346.31H492.9V350.19H486.7ZM486.7 354.07H492.9V357.96H486.7ZM554.9 354.07H561.1V357.96H554.9ZM505.3 357.96H517.7V361.84H505.3ZM517.7 365.72H523.9V369.60H517.7ZM561.1 365.72H567.3V369.60H561.1ZM542.5 369.60H548.7V373.48H542.5ZM499.1 373.48H505.3V377.36H499.1ZM542.5 377.36H548.7V381.24H542.5ZM486.7 385.12H492.9V389.00H486.7ZM511.5 392.88H517.7V396.77H511.5ZM530.1 392.88H536.3V396.77H530.1ZM542.5 392.88H554.9V396.77H542.5ZM536.3 396.77H542.5V400.65H536.3ZM548.7 400.65H554.9V404.53H548.7ZM492.9 404.53H499.1V408.41H492.9ZM523.9 404.53H530.1V408.41H523.9ZM517.7 420.05H523.9V423.93H517.7ZM542.5 420.05H554.9V423.93H542.5ZM505.3 458.86H511.5V462.74H505.3ZM486.7 462.74H499.1V466.62H486.7ZM505.3 466.62H511.5V470.50H505.3ZM554.9 466.62H561.1V470.50H554.9ZM486.7 470.50H499.1V474.39H486.7ZM517.7 470.50H523.9V474.39H517.7ZM530.1 470.50H542.5V474.39H530.1ZM548.7 470.50H554.9V474.39H548.7ZM536.3 489.91H542.5V493.79H536.3ZM499.1 505.43H505.3V509.31H499.1ZM511.5 505.43H548.7V509.31H511.5ZM561.1 505.43H567.3V509.31H561.1ZM486.7 509.31H505.3V513.20H486.7ZM511.5 509.31H530.1V513.20H511.5ZM536.3 509.31H554.9V513.20H536.3ZM561.1 509.31H567.3V513.20H561.1ZM575.5 63.00H581.7V66.88H575.5ZM587.9 63.00H606.5V66.88H587.9ZM631.3 63.00H637.5V66.88H631.3ZM606.5 66.88H612.7V70.76H606.5ZM625.1 70.76H631.3V74.64H625.1ZM569.3 74.64H575.5V78.52H569.3ZM587.9 74.64H594.1V78.52H587.9ZM569.3 82.40H594.1V86.29H569.3ZM600.3 82.40H618.9V86.29H600.3ZM625.1 82.40H631.3V86.29H625.1ZM643.7 86.29H649.9V90.17H643.7ZM625.1 90.17H631.3V94.05H625.1ZM606.5 113.45H612.7V117.33H606.5ZM637.5 125.10H643.7V128.98H637.5ZM637.5 128.98H643.7V132.86H637.5ZM606.5 132.86H612.7V136.74H606.5ZM631.3 136.74H637.5V140.62H631.3ZM600.3 140.62H606.5V144.50H600.3ZM637.5 140.62H643.7V144.50H637.5ZM631.3 144.50H637.5V148.38H631.3ZM575.5 148.38H581.7V152.26H575.5ZM600.3 148.38H606.5V152.26H600.3ZM618.9 148.38H625.1V152.26H618.9ZM643.7 148.38H649.9V152.26H643.7ZM600.3 152.26H625.1V156.14H600.3ZM631.3 152.26H656.1V156.14H631.3ZM600.3 156.14H606.5V160.02H600.3ZM612.7 156.14H625.1V160.02H612.7ZM643.7 156.14H656.1V160.02H643.7ZM600.3 160.02H606.5V163.91H600.3ZM649.9 160.02H656.1V163.91H649.9ZM569.3 163.91H575.5V167.79H569.3ZM600.3 163.91H606.5V167.79H600.3ZM612.7 163.91H625.1V167.79H612.7ZM649.9 163.91H656.1V167.79H649.9ZM600.3 171.67H606.5V175.55H600.3ZM612.7 171.67H625.1V175.55H612.7ZM631.3 171.67H656.1V175.55H631.3ZM612.7 179.43H618.9V183.31H612.7ZM594.1 183.31H606.5V187.19H594.1ZM618.9 183.31H625.1V187.19H618.9ZM600.3 198.83H606.5V202.72H600.3ZM600.3 202.72H606.5V206.60H600.3ZM600.3 206.60H606.5V210.48H600.3ZM618.9 206.60H625.1V210.48H618.9ZM575.5 210.48H581.7V214.36H575.5ZM569.3 214.36H606.5V218.24H569.3ZM618.9 214.36H631.3V218.24H618.9ZM643.7 214.36H656.1V218.24H643.7ZM569.3 226.00H575.5V229.88H569.3ZM587.9 229.88H594.1V233.76H587.9ZM612.7 229.88H618.9V233.76H612.7ZM569.3 241.53H612.7V245.41H569.3ZM618.9 241.53H656.1V245.41H618.9ZM569.3 253.17H656.1V257.05H569.3ZM575.5 257.05H594.1V260.93H575.5ZM600.3 257.05H618.9V260.93H600.3ZM637.5 257.05H656.1V260.93H637.5ZM569.3 260.93H656.1V264.81H569.3ZM569.3 264.81H656.1V268.69H569.3ZM606.5 272.57H612.7V276.45H606.5ZM618.9 272.57H631.3V276.45H618.9ZM569.3 280.34H575.5V284.22H569.3ZM569.3 330.79H575.5V334.67H569.3ZM594.1 330.79H600.3V334.67H594.1ZM600.3 334.67H612.7V338.55H600.3ZM625.1 334.67H631.3V338.55H625.1ZM600.3 338.55H606.5V342.43H600.3ZM569.3 342.43H575.5V346.31H569.3ZM600.3 342.43H606.5V346.31H600.3ZM600.3 346.31H606.5V350.19H600.3ZM594.1 354.07H600.3V357.96H594.1ZM612.7 357.96H618.9V361.84H612.7ZM625.1 357.96H631.3V361.84H625.1ZM587.9 361.84H594.1V365.72H587.9ZM618.9 373.48H625.1V377.36H618.9ZM594.1 377.36H600.3V381.24H594.1ZM618.9 377.36H625.1V381.24H618.9ZM575.5 381.24H581.7V385.12H575.5ZM575.5 385.12H581.7V389.00H575.5ZM637.5 385.12H643.7V389.00H637.5ZM637.5 389.00H643.7V392.88H637.5ZM587.9 392.88H600.3V396.77H587.9ZM587.9 400.65H594.1V404.53H587.9ZM637.5 400.65H643.7V404.53H637.5ZM618.9 404.53H631.3V408.41H618.9ZM587.9 408.41H594.1V412.29H587.9ZM618.9 408.41H631.3V412.29H618.9ZM618.9 412.29H631.3V416.17H618.9ZM643.7 412.29H649.9V416.17H643.7ZM575.5 416.17H581.7V420.05H575.5ZM587.9 416.17H594.1V420.05H587.9ZM631.3 416.17H637.5V420.05H631.3ZM649.9 416.17H656.1V420.05H649.9ZM606.5 431.69H612.7V435.58H606.5ZM649.9 435.58H656.1V439.46H649.9ZM631.3 451.10H637.5V454.98H631.3ZM575.5 470.50H600.3V474.39H575.5ZM606.5 470.50H631.3V474.39H606.5ZM637.5 470.50H643.7V474.39H637.5ZM606.5 474.39H618.9V478.27H606.5ZM643.7 474.39H649.9V478.27H643.7ZM594.1 478.27H600.3V482.15H594.1ZM643.7 478.27H656.1V482.15H643.7ZM569.3 482.15H575.5V486.03H569.3ZM625.1 482.15H631.3V486.03H625.1ZM637.5 482.15H649.9V486.03H637.5ZM575.5 493.79H581.7V497.67H575.5ZM625.1 493.79H631.3V497.67H625.1ZM575.5 497.67H581.7V501.55H575.5ZM594.1 497.67H600.3V501.55H594.1ZM625.1 501.55H631.3V505.43H625.1ZM575.5 505.43H581.7V509.31H575.5ZM587.9 505.43H656.1V509.31H587.9ZM569.3 509.31H587.9V513.20H569.3ZM594.1 509.31H656.1V513.20H594.1ZM670.6 70.76H676.8V74.64H670.6ZM658.2 82.40H676.8V86.29H658.2ZM664.4 125.10H670.6V128.98H664.4ZM664.4 132.86H670.6V136.74H664.4ZM664.4 136.74H670.6V140.62H664.4ZM664.4 140.62H670.6V144.50H664.4ZM664.4 148.38H670.6V152.26H664.4ZM670.6 171.67H676.8V175.55H670.6ZM664.4 210.48H670.6V214.36H664.4ZM658.2 214.36H670.6V218.24H658.2ZM664.4 226.00H670.6V229.88H664.4ZM658.2 229.88H664.4V233.76H658.2ZM664.4 253.17H676.8V257.05H664.4ZM670.6 257.05H676.8V260.93H670.6ZM658.2 260.93H670.6V264.81H658.2ZM658.2 264.81H676.8V268.69H658.2ZM658.2 307.50H664.4V311.38H658.2ZM670.6 311.38H676.8V315.26H670.6ZM670.6 326.91H676.8V330.79H670.6ZM658.2 342.43H664.4V346.31H658.2ZM658.2 346.31H664.4V350.19H658.2ZM658.2 357.96H664.4V361.84H658.2ZM658.2 404.53H664.4V408.41H658.2ZM664.4 451.10H670.6V454.98H664.4ZM664.4 470.50H670.6V474.39H664.4ZM658.2 489.91H664.4V493.79H658.2ZM664.4 505.43H676.8V509.31H664.4ZM664.4 509.31H676.8V513.20H664.4Z"/><path fill="#fbebeb" d="M370.7 63.00H376.9V66.88H370.7ZM370.7 74.64H389.3V78.52H370.7ZM383.1 86.29H389.3V90.17H383.1ZM370.7 113.45H376.9V117.33H370.7ZM339.7 121.21H352.1V125.10H339.7ZM352.1 128.98H358.3V132.86H352.1ZM345.9 136.74H358.3V140.62H345.9ZM383.1 136.74H389.3V140.62H383.1ZM345.9 140.62H352.1V144.50H345.9ZM370.7 140.62H376.9V144.50H370.7ZM352.1 144.50H364.5V148.38H352.1ZM370.7 152.26H376.9V156.14H370.7ZM370.7 167.79H376.9V171.67H370.7ZM352.1 194.95H358.3V198.83H352.1ZM364.5 194.95H370.7V198.83H364.5ZM383.1 194.95H395.5V198.83H383.1ZM370.7 206.60H376.9V210.48H370.7ZM364.5 210.48H376.9V214.36H364.5ZM376.9 214.36H383.1V218.24H376.9ZM389.3 214.36H395.5V218.24H389.3ZM358.3 218.24H370.7V222.12H358.3ZM383.1 218.24H389.3V222.12H383.1ZM345.9 222.12H352.1V226.00H345.9ZM358.3 222.12H376.9V226.00H358.3ZM345.9 226.00H352.1V229.88H345.9ZM358.3 226.00H364.5V229.88H358.3ZM352.1 229.88H358.3V233.76H352.1ZM389.3 229.88H395.5V233.76H389.3ZM339.7 233.76H345.9V237.64H339.7ZM352.1 233.76H358.3V237.64H352.1ZM370.7 233.76H376.9V237.64H370.7ZM339.7 237.64H358.3V241.53H339.7ZM339.7 241.53H345.9V245.41H339.7ZM370.7 241.53H376.9V245.41H370.7ZM364.5 253.17H370.7V257.05H364.5ZM352.1 257.05H358.3V260.93H352.1ZM376.9 257.05H383.1V260.93H376.9ZM358.3 268.69H370.7V272.57H358.3ZM389.3 268.69H395.5V272.57H389.3ZM358.3 272.57H364.5V276.45H358.3ZM389.3 272.57H395.5V276.45H389.3ZM339.7 280.34H345.9V284.22H339.7ZM364.5 280.34H370.7V284.22H364.5ZM339.7 284.22H345.9V288.10H339.7ZM364.5 284.22H370.7V288.10H364.5ZM376.9 284.22H383.1V288.10H376.9ZM376.9 295.86H383.1V299.74H376.9ZM389.3 299.74H395.5V303.62H389.3ZM358.3 303.62H364.5V307.50H358.3ZM389.3 307.50H395.5V311.38H389.3ZM339.7 311.38H345.9V315.26H339.7ZM364.5 311.38H370.7V315.26H364.5ZM376.9 315.26H383.1V319.15H376.9ZM389.3 315.26H395.5V319.15H389.3ZM339.7 319.15H345.9V323.03H339.7ZM339.7 323.03H352.1V326.91H339.7ZM358.3 323.03H364.5V326.91H358.3ZM339.7 326.91H352.1V330.79H339.7ZM376.9 326.91H383.1V330.79H376.9ZM358.3 338.55H370.7V342.43H358.3ZM389.3 338.55H395.5V342.43H389.3ZM364.5 342.43H370.7V346.31H364.5ZM383.1 342.43H389.3V346.31H383.1ZM364.5 346.31H370.7V350.19H364.5ZM383.1 346.31H389.3V350.19H383.1ZM339.7 350.19H345.9V354.07H339.7ZM364.5 354.07H370.7V357.96H364.5ZM352.1 357.96H358.3V361.84H352.1ZM383.1 361.84H389.3V365.72H383.1ZM376.9 365.72H383.1V369.60H376.9ZM345.9 369.60H352.1V373.48H345.9ZM364.5 369.60H376.9V373.48H364.5ZM339.7 373.48H345.9V377.36H339.7ZM339.7 377.36H345.9V381.24H339.7ZM358.3 377.36H364.5V381.24H358.3ZM339.7 381.24H345.9V385.12H339.7ZM358.3 381.24H364.5V385.12H358.3ZM376.9 381.24H383.1V385.12H376.9ZM358.3 385.12H364.5V389.00H358.3ZM358.3 389.00H364.5V392.88H358.3ZM383.1 389.00H395.5V392.88H383.1ZM345.9 392.88H352.1V396.77H345.9ZM376.9 392.88H383.1V396.77H376.9ZM352.1 396.77H358.3V400.65H352.1ZM389.3 396.77H395.5V400.65H389.3ZM383.1 400.65H389.3V404.53H383.1ZM352.1 404.53H364.5V408.41H352.1ZM376.9 404.53H383.1V408.41H376.9ZM345.9 408.41H358.3V412.29H345.9ZM339.7 412.29H345.9V416.17H339.7ZM352.1 412.29H364.5V416.17H352.1ZM376.9 416.17H383.1V420.05H376.9ZM352.1 423.93H358.3V427.81H352.1ZM358.3 427.81H370.7V431.69H358.3ZM383.1 427.81H389.3V431.69H383.1ZM383.1 431.69H389.3V435.58H383.1ZM383.1 435.58H389.3V439.46H383.1ZM339.7 439.46H345.9V443.34H339.7ZM383.1 451.10H395.5V454.98H383.1ZM339.7 454.98H345.9V458.86H339.7ZM352.1 454.98H370.7V458.86H352.1ZM376.9 454.98H389.3V458.86H376.9ZM358.3 462.74H364.5V466.62H358.3ZM376.9 462.74H395.5V466.62H376.9ZM352.1 466.62H364.5V470.50H352.1ZM389.3 466.62H395.5V470.50H389.3ZM370.7 474.39H376.9V478.27H370.7ZM383.1 474.39H389.3V478.27H383.1ZM383.1 478.27H389.3V482.15H383.1ZM370.7 486.03H376.9V489.91H370.7ZM370.7 489.91H376.9V493.79H370.7ZM345.9 493.79H352.1V497.67H345.9ZM370.7 493.79H376.9V497.67H370.7ZM383.1 493.79H389.3V497.67H383.1ZM370.7 497.67H376.9V501.55H370.7ZM389.3 497.67H395.5V501.55H389.3ZM352.1 501.55H358.3V505.43H352.1ZM389.3 501.55H395.5V505.43H389.3ZM428.7 66.88H434.9V70.76H428.7ZM453.5 70.76H459.7V74.64H453.5ZM428.7 78.52H434.9V82.40H428.7ZM459.7 78.52H465.9V82.40H459.7ZM416.3 86.29H422.5V90.17H416.3ZM447.3 90.17H453.5V94.05H447.3ZM472.1 90.17H478.3V94.05H472.1ZM403.9 125.10H410.1V128.98H403.9ZM416.3 125.10H422.5V128.98H416.3ZM410.1 128.98H416.3V132.86H410.1ZM397.7 140.62H403.9V144.50H397.7ZM459.7 140.62H465.9V144.50H459.7ZM397.7 144.50H410.1V148.38H397.7ZM403.9 160.02H410.1V163.91H403.9ZM397.7 175.55H403.9V179.43H397.7ZM397.7 194.95H403.9V198.83H397.7ZM459.7 194.95H465.9V198.83H459.7ZM410.1 198.83H416.3V202.72H410.1ZM453.5 202.72H459.7V206.60H453.5ZM441.1 206.60H447.3V210.48H441.1ZM459.7 206.60H465.9V210.48H459.7ZM397.7 210.48H403.9V214.36H397.7ZM441.1 210.48H447.3V214.36H441.1ZM434.9 214.36H447.3V218.24H434.9ZM422.5 218.24H434.9V222.12H422.5ZM422.5 222.12H428.7V226.00H422.5ZM434.9 226.00H453.5V229.88H434.9ZM478.3 226.00H484.5V229.88H478.3ZM410.1 229.88H422.5V233.76H410.1ZM465.9 229.88H472.1V233.76H465.9ZM410.1 233.76H422.5V237.64H410.1ZM441.1 233.76H447.3V237.64H441.1ZM447.3 245.41H453.5V249.29H447.3ZM434.9 253.17H441.1V257.05H434.9ZM434.9 257.05H441.1V260.93H434.9ZM459.7 268.69H465.9V272.57H459.7ZM422.5 272.57H428.7V276.45H422.5ZM447.3 272.57H453.5V276.45H447.3ZM422.5 276.45H434.9V280.34H422.5ZM447.3 276.45H453.5V280.34H447.3ZM472.1 276.45H478.3V280.34H472.1ZM422.5 280.34H428.7V284.22H422.5ZM447.3 280.34H453.5V284.22H447.3ZM422.5 284.22H428.7V288.10H422.5ZM447.3 284.22H453.5V288.10H447.3ZM422.5 288.10H434.9V291.98H422.5ZM447.3 288.10H453.5V291.98H447.3ZM447.3 291.98H453.5V295.86H447.3ZM428.7 295.86H434.9V299.74H428.7ZM428.7 299.74H434.9V303.62H428.7ZM472.1 299.74H478.3V303.62H472.1ZM410.1 303.62H416.3V307.50H410.1ZM428.7 303.62H434.9V307.50H428.7ZM410.1 307.50H416.3V311.38H410.1ZM403.9 311.38H410.1V315.26H403.9ZM428.7 311.38H434.9V315.26H428.7ZM447.3 311.38H453.5V315.26H447.3ZM428.7 315.26H434.9V319.15H428.7ZM447.3 315.26H453.5V319.15H447.3ZM472.1 315.26H478.3V319.15H472.1ZM416.3 319.15H422.5V323.03H416.3ZM428.7 323.03H434.9V326.91H428.7ZM410.1 326.91H416.3V330.79H410.1ZM428.7 326.91H434.9V330.79H428.7ZM453.5 330.79H459.7V334.67H453.5ZM410.1 334.67H416.3V338.55H410.1ZM428.7 334.67H434.9V338.55H428.7ZM453.5 334.67H459.7V338.55H453.5ZM410.1 338.55H416.3V342.43H410.1ZM447.3 338.55H453.5V342.43H447.3ZM459.7 346.31H478.3V350.19H459.7ZM416.3 350.19H422.5V354.07H416.3ZM428.7 350.19H434.9V354.07H428.7ZM472.1 350.19H478.3V354.07H472.1ZM410.1 354.07H416.3V357.96H410.1ZM428.7 354.07H434.9V357.96H428.7ZM465.9 354.07H472.1V357.96H465.9ZM434.9 357.96H441.1V361.84H434.9ZM447.3 357.96H453.5V361.84H447.3ZM410.1 361.84H422.5V365.72H410.1ZM428.7 361.84H434.9V365.72H428.7ZM428.7 365.72H434.9V369.60H428.7ZM453.5 365.72H459.7V369.60H453.5ZM465.9 365.72H472.1V369.60H465.9ZM428.7 369.60H434.9V373.48H428.7ZM447.3 369.60H453.5V373.48H447.3ZM428.7 373.48H434.9V377.36H428.7ZM441.1 373.48H447.3V377.36H441.1ZM478.3 373.48H484.5V377.36H478.3ZM416.3 377.36H422.5V381.24H416.3ZM416.3 381.24H422.5V385.12H416.3ZM447.3 385.12H453.5V389.00H447.3ZM465.9 389.00H472.1V392.88H465.9ZM465.9 392.88H484.5V396.77H465.9ZM422.5 396.77H428.7V400.65H422.5ZM422.5 400.65H428.7V404.53H422.5ZM478.3 400.65H484.5V404.53H478.3ZM397.7 404.53H403.9V408.41H397.7ZM410.1 404.53H422.5V408.41H410.1ZM422.5 408.41H428.7V412.29H422.5ZM410.1 416.17H422.5V420.05H410.1ZM416.3 423.93H422.5V427.81H416.3ZM453.5 423.93H465.9V427.81H453.5ZM397.7 427.81H403.9V431.69H397.7ZM410.1 427.81H416.3V431.69H410.1ZM459.7 427.81H465.9V431.69H459.7ZM403.9 431.69H410.1V435.58H403.9ZM434.9 431.69H441.1V435.58H434.9ZM428.7 435.58H434.9V439.46H428.7ZM453.5 435.58H459.7V439.46H453.5ZM478.3 435.58H484.5V439.46H478.3ZM428.7 439.46H434.9V443.34H428.7ZM453.5 439.46H459.7V443.34H453.5ZM453.5 443.34H465.9V447.22H453.5ZM441.1 447.22H447.3V451.10H441.1ZM472.1 447.22H478.3V451.10H472.1ZM416.3 451.10H428.7V454.98H416.3ZM447.3 451.10H453.5V454.98H447.3ZM459.7 451.10H465.9V454.98H459.7ZM416.3 454.98H422.5V458.86H416.3ZM434.9 454.98H441.1V458.86H434.9ZM478.3 454.98H484.5V458.86H478.3ZM459.7 458.86H465.9V462.74H459.7ZM428.7 462.74H434.9V466.62H428.7ZM459.7 462.74H465.9V466.62H459.7ZM416.3 466.62H422.5V470.50H416.3ZM434.9 466.62H441.1V470.50H434.9ZM403.9 478.27H410.1V482.15H403.9ZM428.7 478.27H434.9V482.15H428.7ZM441.1 478.27H447.3V482.15H441.1ZM453.5 478.27H465.9V482.15H453.5ZM478.3 478.27H484.5V482.15H478.3ZM403.9 482.15H410.1V486.03H403.9ZM441.1 482.15H447.3V486.03H441.1ZM453.5 482.15H459.7V486.03H453.5ZM478.3 482.15H484.5V486.03H478.3ZM397.7 486.03H403.9V489.91H397.7ZM397.7 493.79H403.9V497.67H397.7ZM416.3 493.79H422.5V497.67H416.3ZM453.5 501.55H459.7V505.43H453.5ZM434.9 509.31H441.1V513.20H434.9ZM499.1 63.00H505.3V66.88H499.1ZM561.1 63.00H567.3V66.88H561.1ZM511.5 70.76H517.7V74.64H511.5ZM511.5 74.64H517.7V78.52H511.5ZM542.5 74.64H548.7V78.52H542.5ZM554.9 74.64H567.3V78.52H554.9ZM511.5 78.52H517.7V82.40H511.5ZM517.7 86.29H530.1V90.17H517.7ZM499.1 90.17H505.3V94.05H499.1ZM492.9 94.05H499.1V97.93H492.9ZM499.1 97.93H511.5V101.81H499.1ZM561.1 97.93H567.3V101.81H561.1ZM499.1 101.81H505.3V105.69H499.1ZM561.1 101.81H567.3V105.69H561.1ZM505.3 105.69H511.5V109.57H505.3ZM486.7 113.45H492.9V117.33H486.7ZM499.1 113.45H505.3V117.33H499.1ZM511.5 117.33H517.7V121.21H511.5ZM530.1 117.33H536.3V121.21H530.1ZM542.5 117.33H548.7V121.21H542.5ZM554.9 117.33H561.1V121.21H554.9ZM492.9 125.10H499.1V128.98H492.9ZM505.3 128.98H511.5V132.86H505.3ZM542.5 128.98H548.7V132.86H542.5ZM548.7 132.86H554.9V136.74H548.7ZM492.9 144.50H499.1V148.38H492.9ZM511.5 175.55H517.7V179.43H511.5ZM486.7 179.43H492.9V183.31H486.7ZM523.9 179.43H530.1V183.31H523.9ZM542.5 183.31H548.7V187.19H542.5ZM517.7 187.19H530.1V191.07H517.7ZM542.5 187.19H548.7V191.07H542.5ZM517.7 191.07H530.1V194.95H517.7ZM542.5 191.07H548.7V194.95H542.5ZM492.9 198.83H499.1V202.72H492.9ZM492.9 210.48H499.1V214.36H492.9ZM523.9 218.24H530.1V222.12H523.9ZM554.9 218.24H561.1V222.12H554.9ZM536.3 222.12H542.5V226.00H536.3ZM511.5 226.00H517.7V229.88H511.5ZM536.3 226.00H542.5V229.88H536.3ZM505.3 233.76H511.5V237.64H505.3ZM492.9 237.64H499.1V241.53H492.9ZM517.7 257.05H523.9V260.93H517.7ZM511.5 272.57H517.7V276.45H511.5ZM511.5 276.45H517.7V280.34H511.5ZM511.5 315.26H517.7V319.15H511.5ZM499.1 350.19H505.3V354.07H499.1ZM517.7 350.19H523.9V354.07H517.7ZM548.7 350.19H554.9V354.07H548.7ZM561.1 350.19H567.3V354.07H561.1ZM505.3 369.60H517.7V373.48H505.3ZM536.3 373.48H542.5V377.36H536.3ZM486.7 381.24H492.9V385.12H486.7ZM486.7 392.88H492.9V396.77H486.7ZM499.1 392.88H505.3V396.77H499.1ZM554.9 392.88H561.1V396.77H554.9ZM505.3 400.65H511.5V404.53H505.3ZM517.7 400.65H523.9V404.53H517.7ZM536.3 400.65H548.7V404.53H536.3ZM548.7 404.53H554.9V408.41H548.7ZM561.1 404.53H567.3V408.41H561.1ZM511.5 412.29H517.7V416.17H511.5ZM554.9 420.05H561.1V423.93H554.9ZM554.9 435.58H561.1V439.46H554.9ZM486.7 443.34H492.9V447.22H486.7ZM505.3 451.10H511.5V454.98H505.3ZM530.1 451.10H536.3V454.98H530.1ZM548.7 451.10H554.9V454.98H548.7ZM517.7 454.98H523.9V458.86H517.7ZM499.1 458.86H505.3V462.74H499.1ZM517.7 458.86H523.9V462.74H517.7ZM548.7 458.86H554.9V462.74H548.7ZM561.1 458.86H567.3V462.74H561.1ZM554.9 462.74H561.1V466.62H554.9ZM511.5 466.62H517.7V470.50H511.5ZM542.5 466.62H548.7V470.50H542.5ZM554.9 470.50H561.1V474.39H554.9ZM523.9 474.39H530.1V478.27H523.9ZM554.9 474.39H561.1V478.27H554.9ZM492.9 478.27H499.1V482.15H492.9ZM536.3 478.27H542.5V482.15H536.3ZM492.9 482.15H505.3V486.03H492.9ZM536.3 482.15H542.5V486.03H536.3ZM536.3 486.03H542.5V489.91H536.3ZM554.9 486.03H561.1V489.91H554.9ZM523.9 489.91H530.1V493.79H523.9ZM499.1 497.67H511.5V501.55H499.1ZM492.9 501.55H499.1V505.43H492.9ZM523.9 501.55H530.1V505.43H523.9ZM530.1 509.31H536.3V513.20H530.1ZM499.1 517.08H505.3V520.96H499.1ZM581.7 63.00H587.9V66.88H581.7ZM625.1 63.00H631.3V66.88H625.1ZM649.9 63.00H656.1V66.88H649.9ZM587.9 66.88H594.1V70.76H587.9ZM625.1 66.88H631.3V70.76H625.1ZM569.3 70.76H575.5V74.64H569.3ZM637.5 70.76H643.7V74.64H637.5ZM575.5 78.52H581.7V82.40H575.5ZM581.7 86.29H587.9V90.17H581.7ZM625.1 94.05H631.3V97.93H625.1ZM643.7 94.05H649.9V97.93H643.7ZM606.5 97.93H612.7V101.81H606.5ZM618.9 97.93H625.1V101.81H618.9ZM600.3 101.81H606.5V105.69H600.3ZM612.7 105.69H625.1V109.57H612.7ZM612.7 109.57H625.1V113.45H612.7ZM594.1 113.45H600.3V117.33H594.1ZM637.5 113.45H643.7V117.33H637.5ZM649.9 113.45H656.1V117.33H649.9ZM649.9 117.33H656.1V121.21H649.9ZM612.7 121.21H618.9V125.10H612.7ZM637.5 121.21H643.7V125.10H637.5ZM649.9 121.21H656.1V125.10H649.9ZM618.9 125.10H625.1V128.98H618.9ZM631.3 125.10H637.5V128.98H631.3ZM575.5 128.98H581.7V132.86H575.5ZM618.9 128.98H631.3V132.86H618.9ZM631.3 132.86H637.5V136.74H631.3ZM594.1 136.74H600.3V140.62H594.1ZM600.3 144.50H612.7V148.38H600.3ZM581.7 160.02H587.9V163.91H581.7ZM594.1 160.02H600.3V163.91H594.1ZM637.5 160.02H643.7V163.91H637.5ZM581.7 163.91H587.9V167.79H581.7ZM594.1 163.91H600.3V167.79H594.1ZM606.5 163.91H612.7V167.79H606.5ZM631.3 163.91H637.5V167.79H631.3ZM594.1 167.79H600.3V171.67H594.1ZM631.3 167.79H637.5V171.67H631.3ZM581.7 171.67H587.9V175.55H581.7ZM637.5 179.43H643.7V183.31H637.5ZM643.7 187.19H649.9V191.07H643.7ZM612.7 191.07H618.9V194.95H612.7ZM649.9 191.07H656.1V194.95H649.9ZM594.1 198.83H600.3V202.72H594.1ZM581.7 202.72H587.9V206.60H581.7ZM631.3 202.72H637.5V206.60H631.3ZM581.7 206.60H587.9V210.48H581.7ZM594.1 206.60H600.3V210.48H594.1ZM631.3 214.36H637.5V218.24H631.3ZM587.9 218.24H594.1V222.12H587.9ZM625.1 218.24H631.3V222.12H625.1ZM643.7 218.24H649.9V222.12H643.7ZM625.1 222.12H631.3V226.00H625.1ZM575.5 249.29H581.7V253.17H575.5ZM587.9 249.29H594.1V253.17H587.9ZM569.3 257.05H575.5V260.93H569.3ZM600.3 365.72H606.5V369.60H600.3ZM587.9 369.60H606.5V373.48H587.9ZM594.1 373.48H606.5V377.36H594.1ZM631.3 373.48H637.5V377.36H631.3ZM569.3 381.24H575.5V385.12H569.3ZM631.3 381.24H637.5V385.12H631.3ZM594.1 385.12H600.3V389.00H594.1ZM649.9 385.12H656.1V389.00H649.9ZM581.7 389.00H587.9V392.88H581.7ZM625.1 389.00H631.3V392.88H625.1ZM618.9 392.88H625.1V396.77H618.9ZM649.9 400.65H656.1V404.53H649.9ZM631.3 404.53H637.5V408.41H631.3ZM649.9 404.53H656.1V408.41H649.9ZM600.3 416.17H606.5V420.05H600.3ZM637.5 416.17H643.7V420.05H637.5ZM612.7 431.69H618.9V435.58H612.7ZM569.3 470.50H575.5V474.39H569.3ZM631.3 470.50H637.5V474.39H631.3ZM569.3 474.39H606.5V478.27H569.3ZM587.9 478.27H594.1V482.15H587.9ZM600.3 478.27H606.5V482.15H600.3ZM581.7 482.15H587.9V486.03H581.7ZM649.9 482.15H656.1V486.03H649.9ZM569.3 486.03H581.7V489.91H569.3ZM600.3 486.03H606.5V489.91H600.3ZM625.1 486.03H643.7V489.91H625.1ZM575.5 489.91H581.7V493.79H575.5ZM618.9 489.91H625.1V493.79H618.9ZM637.5 489.91H643.7V493.79H637.5ZM581.7 493.79H587.9V497.67H581.7ZM618.9 493.79H625.1V497.67H618.9ZM631.3 493.79H637.5V497.67H631.3ZM581.7 497.67H587.9V501.55H581.7ZM606.5 497.67H612.7V501.55H606.5ZM625.1 497.67H631.3V501.55H625.1ZM643.7 497.67H656.1V501.55H643.7ZM594.1 501.55H600.3V505.43H594.1ZM658.2 63.00H664.4V66.88H658.2ZM658.2 70.76H664.4V74.64H658.2ZM658.2 74.64H664.4V78.52H658.2ZM664.4 105.69H670.6V109.57H664.4ZM658.2 109.57H664.4V113.45H658.2ZM670.6 109.57H676.8V113.45H670.6ZM658.2 125.10H664.4V128.98H658.2ZM658.2 128.98H670.6V132.86H658.2ZM664.4 163.91H670.6V167.79H664.4ZM658.2 218.24H676.8V222.12H658.2ZM658.2 241.53H670.6V245.41H658.2ZM658.2 253.17H664.4V257.05H658.2ZM658.2 257.05H670.6V260.93H658.2ZM670.6 315.26H676.8V319.15H670.6ZM658.2 330.79H664.4V334.67H658.2ZM658.2 334.67H664.4V338.55H658.2ZM670.6 361.84H676.8V365.72H670.6ZM658.2 381.24H664.4V385.12H658.2ZM658.2 385.12H664.4V389.00H658.2ZM658.2 389.00H664.4V392.88H658.2ZM670.6 400.65H676.8V404.53H670.6ZM670.6 408.41H676.8V412.29H670.6ZM658.2 423.93H664.4V427.81H658.2ZM664.4 466.62H670.6V470.50H664.4ZM658.2 470.50H664.4V474.39H658.2ZM670.6 470.50H676.8V474.39H670.6ZM670.6 474.39H676.8V478.27H670.6ZM670.6 493.79H676.8V497.67H670.6Z"/><path fill="#f7f5f8" d="M376.9 63.00H383.1V66.88H376.9ZM389.3 63.00H395.5V66.88H389.3ZM345.9 66.88H358.3V70.76H345.9ZM364.5 66.88H370.7V70.76H364.5ZM389.3 78.52H395.5V82.40H389.3ZM345.9 86.29H352.1V90.17H345.9ZM376.9 86.29H383.1V90.17H376.9ZM339.7 94.05H345.9V97.93H339.7ZM370.7 94.05H376.9V97.93H370.7ZM376.9 105.69H383.1V109.57H376.9ZM383.1 121.21H389.3V125.10H383.1ZM352.1 125.10H358.3V128.98H352.1ZM339.7 136.74H345.9V140.62H339.7ZM389.3 136.74H395.5V140.62H389.3ZM339.7 140.62H345.9V144.50H339.7ZM358.3 148.38H364.5V152.26H358.3ZM376.9 152.26H383.1V156.14H376.9ZM370.7 156.14H376.9V160.02H370.7ZM358.3 160.02H370.7V163.91H358.3ZM364.5 167.79H370.7V171.67H364.5ZM370.7 171.67H383.1V175.55H370.7ZM345.9 175.55H352.1V179.43H345.9ZM370.7 194.95H383.1V198.83H370.7ZM376.9 198.83H383.1V202.72H376.9ZM389.3 198.83H395.5V202.72H389.3ZM352.1 202.72H358.3V206.60H352.1ZM383.1 202.72H395.5V206.60H383.1ZM383.1 210.48H389.3V214.36H383.1ZM345.9 214.36H352.1V218.24H345.9ZM364.5 214.36H370.7V218.24H364.5ZM370.7 218.24H376.9V222.12H370.7ZM364.5 226.00H370.7V229.88H364.5ZM376.9 226.00H383.1V229.88H376.9ZM370.7 237.64H376.9V241.53H370.7ZM389.3 237.64H395.5V241.53H389.3ZM339.7 245.41H358.3V249.29H339.7ZM364.5 245.41H370.7V249.29H364.5ZM376.9 245.41H395.5V249.29H376.9ZM339.7 249.29H395.5V253.17H339.7ZM352.1 253.17H358.3V257.05H352.1ZM376.9 276.45H383.1V280.34H376.9ZM376.9 280.34H383.1V284.22H376.9ZM376.9 299.74H383.1V303.62H376.9ZM358.3 307.50H370.7V311.38H358.3ZM383.1 311.38H389.3V315.26H383.1ZM339.7 315.26H345.9V319.15H339.7ZM358.3 319.15H364.5V323.03H358.3ZM376.9 319.15H383.1V323.03H376.9ZM364.5 323.03H370.7V326.91H364.5ZM376.9 323.03H383.1V326.91H376.9ZM358.3 326.91H364.5V330.79H358.3ZM364.5 330.79H370.7V334.67H364.5ZM376.9 330.79H383.1V334.67H376.9ZM389.3 330.79H395.5V334.67H389.3ZM339.7 334.67H345.9V338.55H339.7ZM364.5 334.67H370.7V338.55H364.5ZM389.3 334.67H395.5V338.55H389.3ZM389.3 342.43H395.5V346.31H389.3ZM376.9 346.31H383.1V350.19H376.9ZM389.3 346.31H395.5V350.19H389.3ZM339.7 361.84H345.9V365.72H339.7ZM358.3 373.48H364.5V377.36H358.3ZM376.9 377.36H383.1V381.24H376.9ZM339.7 385.12H345.9V389.00H339.7ZM364.5 385.12H370.7V389.00H364.5ZM339.7 389.00H345.9V392.88H339.7ZM364.5 389.00H370.7V392.88H364.5ZM376.9 389.00H383.1V392.88H376.9ZM389.3 392.88H395.5V396.77H389.3ZM358.3 396.77H364.5V400.65H358.3ZM376.9 396.77H383.1V400.65H376.9ZM345.9 400.65H358.3V404.53H345.9ZM376.9 400.65H383.1V404.53H376.9ZM339.7 408.41H345.9V412.29H339.7ZM376.9 408.41H389.3V412.29H376.9ZM383.1 412.29H389.3V416.17H383.1ZM345.9 416.17H352.1V420.05H345.9ZM358.3 416.17H364.5V420.05H358.3ZM339.7 420.05H345.9V423.93H339.7ZM358.3 423.93H376.9V427.81H358.3ZM383.1 423.93H395.5V427.81H383.1ZM352.1 427.81H358.3V431.69H352.1ZM370.7 427.81H376.9V431.69H370.7ZM389.3 427.81H395.5V431.69H389.3ZM352.1 435.58H358.3V439.46H352.1ZM376.9 435.58H383.1V439.46H376.9ZM389.3 435.58H395.5V439.46H389.3ZM352.1 439.46H370.7V443.34H352.1ZM376.9 439.46H383.1V443.34H376.9ZM389.3 439.46H395.5V443.34H389.3ZM339.7 443.34H345.9V447.22H339.7ZM352.1 443.34H358.3V447.22H352.1ZM376.9 443.34H383.1V447.22H376.9ZM389.3 443.34H395.5V447.22H389.3ZM358.3 447.22H364.5V451.10H358.3ZM345.9 451.10H352.1V454.98H345.9ZM358.3 451.10H364.5V454.98H358.3ZM345.9 454.98H352.1V458.86H345.9ZM352.1 458.86H358.3V462.74H352.1ZM352.1 474.39H358.3V478.27H352.1ZM345.9 478.27H358.3V482.15H345.9ZM370.7 478.27H376.9V482.15H370.7ZM389.3 478.27H395.5V482.15H389.3ZM345.9 482.15H358.3V486.03H345.9ZM383.1 482.15H395.5V486.03H383.1ZM345.9 486.03H352.1V489.91H345.9ZM345.9 489.91H352.1V493.79H345.9ZM339.7 493.79H345.9V497.67H339.7ZM352.1 497.67H364.5V501.55H352.1ZM345.9 501.55H352.1V505.43H345.9ZM370.7 501.55H376.9V505.43H370.7ZM339.7 505.43H345.9V509.31H339.7ZM403.9 63.00H410.1V66.88H403.9ZM428.7 63.00H453.5V66.88H428.7ZM397.7 66.88H403.9V70.76H397.7ZM459.7 66.88H484.5V70.76H459.7ZM397.7 70.76H410.1V74.64H397.7ZM447.3 70.76H453.5V74.64H447.3ZM428.7 74.64H434.9V78.52H428.7ZM472.1 74.64H478.3V78.52H472.1ZM428.7 86.29H434.9V90.17H428.7ZM441.1 86.29H447.3V90.17H441.1ZM410.1 90.17H416.3V94.05H410.1ZM465.9 90.17H472.1V94.05H465.9ZM478.3 90.17H484.5V94.05H478.3ZM434.9 109.57H441.1V113.45H434.9ZM397.7 113.45H403.9V117.33H397.7ZM459.7 113.45H465.9V117.33H459.7ZM397.7 117.33H403.9V121.21H397.7ZM434.9 117.33H441.1V121.21H434.9ZM397.7 121.21H410.1V125.10H397.7ZM453.5 121.21H459.7V125.10H453.5ZM465.9 121.21H472.1V125.10H465.9ZM416.3 128.98H422.5V132.86H416.3ZM472.1 128.98H478.3V132.86H472.1ZM472.1 132.86H478.3V136.74H472.1ZM403.9 136.74H416.3V140.62H403.9ZM447.3 136.74H459.7V140.62H447.3ZM410.1 140.62H416.3V144.50H410.1ZM441.1 140.62H447.3V144.50H441.1ZM478.3 140.62H484.5V144.50H478.3ZM410.1 144.50H428.7V148.38H410.1ZM422.5 148.38H428.7V152.26H422.5ZM397.7 160.02H403.9V163.91H397.7ZM410.1 160.02H416.3V163.91H410.1ZM453.5 160.02H459.7V163.91H453.5ZM478.3 160.02H484.5V163.91H478.3ZM441.1 163.91H447.3V167.79H441.1ZM459.7 163.91H465.9V167.79H459.7ZM453.5 167.79H459.7V171.67H453.5ZM478.3 167.79H484.5V171.67H478.3ZM403.9 175.55H410.1V179.43H403.9ZM434.9 183.31H441.1V187.19H434.9ZM403.9 194.95H410.1V198.83H403.9ZM416.3 194.95H422.5V198.83H416.3ZM441.1 194.95H453.5V198.83H441.1ZM465.9 194.95H472.1V198.83H465.9ZM403.9 198.83H410.1V202.72H403.9ZM416.3 198.83H422.5V202.72H416.3ZM428.7 198.83H434.9V202.72H428.7ZM441.1 198.83H447.3V202.72H441.1ZM459.7 198.83H465.9V202.72H459.7ZM403.9 202.72H410.1V206.60H403.9ZM416.3 202.72H422.5V206.60H416.3ZM447.3 202.72H453.5V206.60H447.3ZM403.9 206.60H410.1V210.48H403.9ZM478.3 206.60H484.5V210.48H478.3ZM422.5 210.48H428.7V214.36H422.5ZM459.7 210.48H465.9V214.36H459.7ZM403.9 214.36H416.3V218.24H403.9ZM428.7 214.36H434.9V218.24H428.7ZM447.3 214.36H465.9V218.24H447.3ZM478.3 214.36H484.5V218.24H478.3ZM472.1 218.24H478.3V222.12H472.1ZM397.7 222.12H403.9V226.00H397.7ZM428.7 222.12H434.9V226.00H428.7ZM397.7 226.00H403.9V229.88H397.7ZM422.5 226.00H434.9V229.88H422.5ZM403.9 229.88H410.1V233.76H403.9ZM428.7 229.88H434.9V233.76H428.7ZM453.5 229.88H459.7V233.76H453.5ZM472.1 229.88H478.3V233.76H472.1ZM434.9 233.76H441.1V237.64H434.9ZM410.1 237.64H416.3V241.53H410.1ZM434.9 237.64H441.1V241.53H434.9ZM459.7 237.64H465.9V241.53H459.7ZM403.9 241.53H410.1V245.41H403.9ZM403.9 245.41H434.9V249.29H403.9ZM441.1 245.41H447.3V249.29H441.1ZM453.5 245.41H459.7V249.29H453.5ZM465.9 245.41H484.5V249.29H465.9ZM397.7 249.29H434.9V253.17H397.7ZM441.1 249.29H484.5V253.17H441.1ZM441.1 253.17H447.3V257.05H441.1ZM459.7 253.17H465.9V257.05H459.7ZM410.1 268.69H416.3V272.57H410.1ZM422.5 268.69H428.7V272.57H422.5ZM472.1 268.69H478.3V272.57H472.1ZM410.1 272.57H416.3V276.45H410.1ZM472.1 280.34H478.3V284.22H472.1ZM428.7 284.22H434.9V288.10H428.7ZM428.7 291.98H434.9V295.86H428.7ZM422.5 303.62H428.7V307.50H422.5ZM422.5 307.50H428.7V311.38H422.5ZM410.1 311.38H428.7V315.26H410.1ZM422.5 315.26H428.7V319.15H422.5ZM428.7 319.15H434.9V323.03H428.7ZM472.1 319.15H478.3V323.03H472.1ZM422.5 323.03H428.7V326.91H422.5ZM416.3 326.91H422.5V330.79H416.3ZM447.3 326.91H453.5V330.79H447.3ZM472.1 326.91H478.3V330.79H472.1ZM403.9 330.79H422.5V334.67H403.9ZM447.3 330.79H453.5V334.67H447.3ZM465.9 334.67H472.1V338.55H465.9ZM422.5 338.55H428.7V342.43H422.5ZM447.3 342.43H453.5V346.31H447.3ZM465.9 342.43H478.3V346.31H465.9ZM434.9 346.31H441.1V350.19H434.9ZM441.1 357.96H447.3V361.84H441.1ZM465.9 357.96H472.1V361.84H465.9ZM478.3 357.96H484.5V361.84H478.3ZM434.9 361.84H441.1V365.72H434.9ZM434.9 369.60H441.1V373.48H434.9ZM465.9 369.60H472.1V373.48H465.9ZM410.1 373.48H416.3V377.36H410.1ZM447.3 373.48H453.5V377.36H447.3ZM472.1 373.48H478.3V377.36H472.1ZM422.5 377.36H434.9V381.24H422.5ZM447.3 377.36H453.5V381.24H447.3ZM472.1 377.36H478.3V381.24H472.1ZM410.1 381.24H416.3V385.12H410.1ZM422.5 381.24H434.9V385.12H422.5ZM447.3 381.24H453.5V385.12H447.3ZM447.3 389.00H453.5V392.88H447.3ZM403.9 392.88H410.1V396.77H403.9ZM441.1 392.88H447.3V396.77H441.1ZM453.5 392.88H459.7V396.77H453.5ZM416.3 396.77H422.5V400.65H416.3ZM428.7 396.77H434.9V400.65H428.7ZM447.3 396.77H453.5V400.65H447.3ZM472.1 396.77H478.3V400.65H472.1ZM397.7 400.65H410.1V404.53H397.7ZM416.3 400.65H422.5V404.53H416.3ZM422.5 404.53H428.7V408.41H422.5ZM472.1 404.53H478.3V408.41H472.1ZM403.9 408.41H422.5V412.29H403.9ZM447.3 408.41H453.5V412.29H447.3ZM403.9 412.29H422.5V416.17H403.9ZM397.7 420.05H403.9V423.93H397.7ZM410.1 420.05H416.3V423.93H410.1ZM447.3 420.05H453.5V423.93H447.3ZM472.1 420.05H478.3V423.93H472.1ZM403.9 423.93H416.3V427.81H403.9ZM422.5 423.93H434.9V427.81H422.5ZM465.9 423.93H472.1V427.81H465.9ZM434.9 427.81H441.1V431.69H434.9ZM465.9 427.81H472.1V431.69H465.9ZM410.1 431.69H416.3V435.58H410.1ZM441.1 431.69H447.3V435.58H441.1ZM453.5 431.69H472.1V435.58H453.5ZM478.3 431.69H484.5V435.58H478.3ZM410.1 435.58H422.5V439.46H410.1ZM434.9 435.58H441.1V439.46H434.9ZM447.3 435.58H453.5V439.46H447.3ZM459.7 435.58H472.1V439.46H459.7ZM410.1 439.46H416.3V443.34H410.1ZM422.5 439.46H428.7V443.34H422.5ZM441.1 439.46H453.5V443.34H441.1ZM459.7 439.46H465.9V443.34H459.7ZM472.1 439.46H484.5V443.34H472.1ZM410.1 443.34H422.5V447.22H410.1ZM428.7 443.34H434.9V447.22H428.7ZM441.1 443.34H447.3V447.22H441.1ZM465.9 443.34H472.1V447.22H465.9ZM478.3 443.34H484.5V447.22H478.3ZM410.1 447.22H416.3V451.10H410.1ZM447.3 447.22H453.5V451.10H447.3ZM478.3 447.22H484.5V451.10H478.3ZM428.7 451.10H434.9V454.98H428.7ZM410.1 454.98H416.3V458.86H410.1ZM422.5 454.98H428.7V458.86H422.5ZM441.1 454.98H453.5V458.86H441.1ZM472.1 454.98H478.3V458.86H472.1ZM397.7 458.86H410.1V462.74H397.7ZM416.3 458.86H422.5V462.74H416.3ZM465.9 458.86H478.3V462.74H465.9ZM434.9 462.74H441.1V466.62H434.9ZM472.1 462.74H478.3V466.62H472.1ZM410.1 466.62H416.3V470.50H410.1ZM441.1 466.62H453.5V470.50H441.1ZM465.9 466.62H472.1V470.50H465.9ZM410.1 474.39H416.3V478.27H410.1ZM459.7 474.39H465.9V478.27H459.7ZM397.7 478.27H403.9V482.15H397.7ZM410.1 478.27H422.5V482.15H410.1ZM397.7 482.15H403.9V486.03H397.7ZM428.7 482.15H434.9V486.03H428.7ZM403.9 486.03H410.1V489.91H403.9ZM441.1 486.03H447.3V489.91H441.1ZM397.7 489.91H410.1V493.79H397.7ZM465.9 489.91H472.1V493.79H465.9ZM403.9 493.79H416.3V497.67H403.9ZM453.5 493.79H459.7V497.67H453.5ZM465.9 493.79H472.1V497.67H465.9ZM403.9 497.67H416.3V501.55H403.9ZM428.7 497.67H434.9V501.55H428.7ZM441.1 497.67H447.3V501.55H441.1ZM465.9 497.67H472.1V501.55H465.9ZM478.3 497.67H484.5V501.55H478.3ZM397.7 501.55H403.9V505.43H397.7ZM486.7 63.00H492.9V66.88H486.7ZM517.7 63.00H523.9V66.88H517.7ZM536.3 63.00H542.5V66.88H536.3ZM554.9 66.88H561.1V70.76H554.9ZM499.1 70.76H505.3V74.64H499.1ZM561.1 70.76H567.3V74.64H561.1ZM523.9 74.64H530.1V78.52H523.9ZM499.1 78.52H505.3V82.40H499.1ZM554.9 78.52H561.1V82.40H554.9ZM548.7 86.29H554.9V90.17H548.7ZM561.1 86.29H567.3V90.17H561.1ZM492.9 90.17H499.1V94.05H492.9ZM505.3 90.17H511.5V94.05H505.3ZM542.5 90.17H548.7V94.05H542.5ZM505.3 94.05H511.5V97.93H505.3ZM523.9 94.05H530.1V97.93H523.9ZM548.7 94.05H554.9V97.93H548.7ZM492.9 97.93H499.1V101.81H492.9ZM523.9 97.93H530.1V101.81H523.9ZM523.9 101.81H530.1V105.69H523.9ZM542.5 101.81H548.7V105.69H542.5ZM511.5 105.69H517.7V109.57H511.5ZM523.9 105.69H536.3V109.57H523.9ZM530.1 109.57H536.3V113.45H530.1ZM554.9 113.45H561.1V117.33H554.9ZM499.1 117.33H505.3V121.21H499.1ZM561.1 117.33H567.3V121.21H561.1ZM492.9 121.21H499.1V125.10H492.9ZM548.7 121.21H554.9V125.10H548.7ZM542.5 125.10H554.9V128.98H542.5ZM511.5 128.98H517.7V132.86H511.5ZM548.7 128.98H554.9V132.86H548.7ZM499.1 136.74H505.3V140.62H499.1ZM492.9 140.62H499.1V144.50H492.9ZM499.1 144.50H505.3V148.38H499.1ZM499.1 148.38H505.3V152.26H499.1ZM492.9 152.26H505.3V156.14H492.9ZM492.9 156.14H499.1V160.02H492.9ZM486.7 160.02H499.1V163.91H486.7ZM492.9 163.91H505.3V167.79H492.9ZM486.7 167.79H492.9V171.67H486.7ZM492.9 171.67H499.1V175.55H492.9ZM536.3 171.67H542.5V175.55H536.3ZM548.7 175.55H554.9V179.43H548.7ZM505.3 179.43H517.7V183.31H505.3ZM523.9 183.31H530.1V187.19H523.9ZM505.3 187.19H511.5V191.07H505.3ZM554.9 187.19H561.1V191.07H554.9ZM505.3 191.07H517.7V194.95H505.3ZM530.1 191.07H536.3V194.95H530.1ZM499.1 194.95H505.3V198.83H499.1ZM542.5 194.95H548.7V198.83H542.5ZM554.9 194.95H567.3V198.83H554.9ZM511.5 198.83H517.7V202.72H511.5ZM523.9 198.83H530.1V202.72H523.9ZM548.7 198.83H567.3V202.72H548.7ZM499.1 202.72H505.3V206.60H499.1ZM511.5 202.72H517.7V206.60H511.5ZM499.1 206.60H505.3V210.48H499.1ZM511.5 206.60H517.7V210.48H511.5ZM548.7 206.60H567.3V210.48H548.7ZM486.7 210.48H492.9V214.36H486.7ZM499.1 210.48H505.3V214.36H499.1ZM511.5 210.48H517.7V214.36H511.5ZM536.3 210.48H542.5V214.36H536.3ZM536.3 214.36H542.5V218.24H536.3ZM486.7 218.24H492.9V222.12H486.7ZM536.3 218.24H542.5V222.12H536.3ZM561.1 218.24H567.3V222.12H561.1ZM492.9 222.12H499.1V226.00H492.9ZM548.7 222.12H554.9V226.00H548.7ZM561.1 222.12H567.3V226.00H561.1ZM499.1 229.88H511.5V233.76H499.1ZM530.1 233.76H536.3V237.64H530.1ZM536.3 237.64H542.5V241.53H536.3ZM554.9 237.64H567.3V241.53H554.9ZM536.3 272.57H542.5V276.45H536.3ZM511.5 280.34H517.7V284.22H511.5ZM511.5 291.98H517.7V295.86H511.5ZM511.5 295.86H517.7V299.74H511.5ZM486.7 330.79H492.9V334.67H486.7ZM499.1 330.79H505.3V334.67H499.1ZM511.5 346.31H517.7V350.19H511.5ZM511.5 350.19H517.7V354.07H511.5ZM523.9 350.19H530.1V354.07H523.9ZM542.5 350.19H548.7V354.07H542.5ZM511.5 354.07H517.7V357.96H511.5ZM492.9 357.96H499.1V361.84H492.9ZM505.3 361.84H511.5V365.72H505.3ZM536.3 361.84H542.5V365.72H536.3ZM492.9 365.72H499.1V369.60H492.9ZM511.5 365.72H517.7V369.60H511.5ZM542.5 365.72H554.9V369.60H542.5ZM499.1 369.60H505.3V373.48H499.1ZM554.9 369.60H561.1V373.48H554.9ZM492.9 373.48H499.1V377.36H492.9ZM499.1 381.24H505.3V385.12H499.1ZM554.9 381.24H561.1V385.12H554.9ZM492.9 385.12H499.1V389.00H492.9ZM511.5 385.12H517.7V389.00H511.5ZM511.5 389.00H517.7V392.88H511.5ZM492.9 392.88H499.1V396.77H492.9ZM511.5 404.53H517.7V408.41H511.5ZM530.1 404.53H536.3V408.41H530.1ZM542.5 404.53H548.7V408.41H542.5ZM511.5 408.41H517.7V412.29H511.5ZM542.5 408.41H548.7V412.29H542.5ZM492.9 412.29H499.1V416.17H492.9ZM542.5 412.29H548.7V416.17H542.5ZM536.3 416.17H542.5V420.05H536.3ZM548.7 416.17H554.9V420.05H548.7ZM492.9 420.05H499.1V423.93H492.9ZM523.9 420.05H530.1V423.93H523.9ZM517.7 423.93H523.9V427.81H517.7ZM505.3 431.69H511.5V435.58H505.3ZM554.9 431.69H561.1V435.58H554.9ZM486.7 435.58H499.1V439.46H486.7ZM536.3 435.58H542.5V439.46H536.3ZM511.5 439.46H517.7V443.34H511.5ZM523.9 439.46H530.1V443.34H523.9ZM536.3 439.46H542.5V443.34H536.3ZM554.9 439.46H561.1V443.34H554.9ZM536.3 443.34H542.5V447.22H536.3ZM542.5 447.22H548.7V451.10H542.5ZM554.9 447.22H561.1V451.10H554.9ZM486.7 451.10H499.1V454.98H486.7ZM511.5 451.10H517.7V454.98H511.5ZM536.3 451.10H542.5V454.98H536.3ZM523.9 458.86H530.1V462.74H523.9ZM505.3 462.74H554.9V466.62H505.3ZM486.7 466.62H492.9V470.50H486.7ZM517.7 466.62H523.9V470.50H517.7ZM505.3 470.50H511.5V474.39H505.3ZM523.9 470.50H530.1V474.39H523.9ZM542.5 470.50H548.7V474.39H542.5ZM561.1 470.50H567.3V474.39H561.1ZM486.7 474.39H499.1V478.27H486.7ZM530.1 474.39H542.5V478.27H530.1ZM486.7 478.27H492.9V482.15H486.7ZM523.9 478.27H530.1V482.15H523.9ZM554.9 478.27H561.1V482.15H554.9ZM554.9 482.15H561.1V486.03H554.9ZM530.1 489.91H536.3V493.79H530.1ZM486.7 493.79H492.9V497.67H486.7ZM530.1 493.79H536.3V497.67H530.1ZM554.9 493.79H561.1V497.67H554.9ZM492.9 497.67H499.1V501.55H492.9ZM561.1 501.55H567.3V505.43H561.1ZM505.3 505.43H511.5V509.31H505.3ZM612.7 63.00H625.1V66.88H612.7ZM643.7 63.00H649.9V66.88H643.7ZM575.5 66.88H581.7V70.76H575.5ZM575.5 70.76H581.7V74.64H575.5ZM587.9 70.76H594.1V74.64H587.9ZM600.3 70.76H606.5V74.64H600.3ZM575.5 74.64H581.7V78.52H575.5ZM594.1 74.64H600.3V78.52H594.1ZM606.5 74.64H612.7V78.52H606.5ZM625.1 74.64H631.3V78.52H625.1ZM587.9 78.52H594.1V82.40H587.9ZM631.3 78.52H643.7V82.40H631.3ZM569.3 86.29H581.7V90.17H569.3ZM587.9 86.29H606.5V90.17H587.9ZM631.3 86.29H637.5V90.17H631.3ZM643.7 90.17H649.9V94.05H643.7ZM569.3 94.05H575.5V97.93H569.3ZM606.5 94.05H612.7V97.93H606.5ZM606.5 101.81H625.1V105.69H606.5ZM594.1 105.69H612.7V109.57H594.1ZM575.5 109.57H581.7V113.45H575.5ZM569.3 113.45H575.5V117.33H569.3ZM612.7 113.45H625.1V117.33H612.7ZM618.9 121.21H625.1V125.10H618.9ZM631.3 121.21H637.5V125.10H631.3ZM612.7 125.10H618.9V128.98H612.7ZM649.9 125.10H656.1V128.98H649.9ZM587.9 128.98H594.1V132.86H587.9ZM612.7 128.98H618.9V132.86H612.7ZM631.3 128.98H637.5V132.86H631.3ZM649.9 128.98H656.1V132.86H649.9ZM569.3 132.86H575.5V136.74H569.3ZM581.7 132.86H587.9V136.74H581.7ZM600.3 132.86H606.5V136.74H600.3ZM581.7 136.74H587.9V140.62H581.7ZM606.5 136.74H612.7V140.62H606.5ZM606.5 140.62H612.7V144.50H606.5ZM631.3 140.62H637.5V144.50H631.3ZM637.5 144.50H643.7V148.38H637.5ZM581.7 148.38H587.9V152.26H581.7ZM612.7 148.38H618.9V152.26H612.7ZM649.9 148.38H656.1V152.26H649.9ZM581.7 156.14H587.9V160.02H581.7ZM606.5 156.14H612.7V160.02H606.5ZM631.3 156.14H637.5V160.02H631.3ZM569.3 160.02H575.5V163.91H569.3ZM606.5 160.02H625.1V163.91H606.5ZM631.3 160.02H637.5V163.91H631.3ZM643.7 160.02H649.9V163.91H643.7ZM643.7 163.91H649.9V167.79H643.7ZM581.7 167.79H594.1V171.67H581.7ZM606.5 167.79H612.7V171.67H606.5ZM637.5 167.79H649.9V171.67H637.5ZM587.9 171.67H600.3V175.55H587.9ZM594.1 175.55H606.5V179.43H594.1ZM631.3 175.55H643.7V179.43H631.3ZM581.7 179.43H587.9V183.31H581.7ZM643.7 179.43H656.1V183.31H643.7ZM612.7 183.31H618.9V187.19H612.7ZM643.7 183.31H656.1V187.19H643.7ZM594.1 187.19H600.3V191.07H594.1ZM618.9 187.19H625.1V191.07H618.9ZM594.1 191.07H600.3V194.95H594.1ZM618.9 191.07H625.1V194.95H618.9ZM643.7 191.07H649.9V194.95H643.7ZM600.3 194.95H606.5V198.83H600.3ZM612.7 194.95H618.9V198.83H612.7ZM643.7 194.95H656.1V198.83H643.7ZM606.5 198.83H612.7V202.72H606.5ZM649.9 198.83H656.1V202.72H649.9ZM594.1 202.72H600.3V206.60H594.1ZM631.3 206.60H637.5V210.48H631.3ZM569.3 210.48H575.5V214.36H569.3ZM612.7 214.36H618.9V218.24H612.7ZM637.5 214.36H643.7V218.24H637.5ZM569.3 218.24H581.7V222.12H569.3ZM612.7 218.24H625.1V222.12H612.7ZM631.3 218.24H643.7V222.12H631.3ZM649.9 218.24H656.1V222.12H649.9ZM625.1 226.00H631.3V229.88H625.1ZM649.9 229.88H656.1V233.76H649.9ZM600.3 233.76H606.5V237.64H600.3ZM594.1 237.64H600.3V241.53H594.1ZM618.9 237.64H625.1V241.53H618.9ZM612.7 241.53H618.9V245.41H612.7ZM594.1 257.05H600.3V260.93H594.1ZM618.9 257.05H625.1V260.93H618.9ZM631.3 257.05H637.5V260.93H631.3ZM600.3 272.57H606.5V276.45H600.3ZM625.1 276.45H631.3V280.34H625.1ZM600.3 299.74H606.5V303.62H600.3ZM581.7 315.26H587.9V319.15H581.7ZM643.7 315.26H649.9V319.15H643.7ZM631.3 330.79H637.5V334.67H631.3ZM625.1 354.07H631.3V357.96H625.1ZM643.7 354.07H649.9V357.96H643.7ZM581.7 361.84H587.9V365.72H581.7ZM600.3 361.84H606.5V365.72H600.3ZM625.1 361.84H631.3V365.72H625.1ZM649.9 361.84H656.1V365.72H649.9ZM581.7 365.72H587.9V369.60H581.7ZM625.1 365.72H637.5V369.60H625.1ZM649.9 365.72H656.1V369.60H649.9ZM581.7 369.60H587.9V373.48H581.7ZM625.1 369.60H637.5V373.48H625.1ZM575.5 373.48H581.7V377.36H575.5ZM625.1 373.48H631.3V377.36H625.1ZM637.5 373.48H643.7V377.36H637.5ZM643.7 377.36H649.9V381.24H643.7ZM594.1 381.24H600.3V385.12H594.1ZM643.7 381.24H649.9V385.12H643.7ZM587.9 385.12H594.1V389.00H587.9ZM618.9 385.12H625.1V389.00H618.9ZM587.9 389.00H594.1V392.88H587.9ZM618.9 389.00H625.1V392.88H618.9ZM631.3 389.00H637.5V392.88H631.3ZM643.7 389.00H656.1V392.88H643.7ZM581.7 392.88H587.9V396.77H581.7ZM600.3 392.88H606.5V396.77H600.3ZM625.1 392.88H631.3V396.77H625.1ZM643.7 392.88H649.9V396.77H643.7ZM575.5 396.77H594.1V400.65H575.5ZM637.5 396.77H643.7V400.65H637.5ZM594.1 400.65H600.3V404.53H594.1ZM581.7 404.53H587.9V408.41H581.7ZM594.1 404.53H600.3V408.41H594.1ZM643.7 404.53H649.9V408.41H643.7ZM594.1 408.41H600.3V412.29H594.1ZM637.5 408.41H643.7V412.29H637.5ZM581.7 412.29H587.9V416.17H581.7ZM637.5 412.29H643.7V416.17H637.5ZM569.3 416.17H575.5V420.05H569.3ZM643.7 416.17H649.9V420.05H643.7ZM581.7 427.81H587.9V431.69H581.7ZM594.1 427.81H606.5V431.69H594.1ZM631.3 427.81H637.5V431.69H631.3ZM625.1 431.69H631.3V435.58H625.1ZM649.9 431.69H656.1V435.58H649.9ZM575.5 435.58H581.7V439.46H575.5ZM625.1 439.46H631.3V443.34H625.1ZM587.9 443.34H594.1V447.22H587.9ZM643.7 454.98H649.9V458.86H643.7ZM625.1 462.74H631.3V466.62H625.1ZM643.7 470.50H656.1V474.39H643.7ZM618.9 474.39H643.7V478.27H618.9ZM649.9 474.39H656.1V478.27H649.9ZM575.5 478.27H587.9V482.15H575.5ZM631.3 478.27H637.5V482.15H631.3ZM587.9 482.15H594.1V486.03H587.9ZM581.7 486.03H587.9V489.91H581.7ZM594.1 486.03H600.3V489.91H594.1ZM569.3 489.91H575.5V493.79H569.3ZM649.9 489.91H656.1V493.79H649.9ZM643.7 493.79H649.9V497.67H643.7ZM587.9 497.67H594.1V501.55H587.9ZM600.3 497.67H606.5V501.55H600.3ZM618.9 497.67H625.1V501.55H618.9ZM637.5 497.67H643.7V501.55H637.5ZM612.7 501.55H625.1V505.43H612.7ZM649.9 501.55H656.1V505.43H649.9ZM581.7 505.43H587.9V509.31H581.7ZM664.4 63.00H676.8V66.88H664.4ZM658.2 66.88H664.4V70.76H658.2ZM664.4 74.64H670.6V78.52H664.4ZM658.2 78.52H664.4V82.40H658.2ZM670.6 78.52H676.8V82.40H670.6ZM658.2 90.17H664.4V94.05H658.2ZM670.6 90.17H676.8V94.05H670.6ZM658.2 97.93H664.4V101.81H658.2ZM670.6 97.93H676.8V101.81H670.6ZM664.4 101.81H670.6V105.69H664.4ZM664.4 144.50H670.6V148.38H664.4ZM664.4 152.26H670.6V156.14H664.4ZM664.4 156.14H670.6V160.02H664.4ZM664.4 160.02H670.6V163.91H664.4ZM664.4 167.79H670.6V171.67H664.4ZM658.2 210.48H664.4V214.36H658.2ZM670.6 214.36H676.8V218.24H670.6ZM658.2 222.12H664.4V226.00H658.2ZM670.6 222.12H676.8V226.00H670.6ZM658.2 226.00H664.4V229.88H658.2ZM670.6 226.00H676.8V229.88H670.6ZM664.4 233.76H670.6V237.64H664.4ZM664.4 268.69H670.6V272.57H664.4ZM670.6 291.98H676.8V295.86H670.6ZM664.4 323.03H670.6V326.91H664.4ZM664.4 330.79H670.6V334.67H664.4ZM670.6 350.19H676.8V354.07H670.6ZM658.2 354.07H664.4V357.96H658.2ZM658.2 361.84H664.4V365.72H658.2ZM670.6 365.72H676.8V369.60H670.6ZM658.2 377.36H664.4V381.24H658.2ZM670.6 377.36H676.8V381.24H670.6ZM664.4 381.24H676.8V385.12H664.4ZM658.2 400.65H664.4V404.53H658.2ZM670.6 404.53H676.8V408.41H670.6ZM658.2 420.05H664.4V423.93H658.2ZM670.6 423.93H676.8V427.81H670.6ZM670.6 427.81H676.8V431.69H670.6ZM658.2 435.58H664.4V439.46H658.2ZM670.6 435.58H676.8V439.46H670.6ZM658.2 439.46H664.4V443.34H658.2ZM664.4 443.34H670.6V447.22H664.4ZM664.4 454.98H670.6V458.86H664.4ZM658.2 466.62H664.4V470.50H658.2ZM664.4 489.91H676.8V493.79H664.4ZM658.2 493.79H664.4V497.67H658.2ZM658.2 497.67H664.4V501.55H658.2ZM664.4 501.55H676.8V505.43H664.4Z"/><path fill="#f8d6d8" d="M339.7 66.88H345.9V70.76H339.7ZM370.7 66.88H376.9V70.76H370.7ZM339.7 70.76H345.9V74.64H339.7ZM339.7 78.52H358.3V82.40H339.7ZM376.9 78.52H383.1V82.40H376.9ZM358.3 90.17H370.7V94.05H358.3ZM345.9 125.10H352.1V128.98H345.9ZM358.3 128.98H364.5V132.86H358.3ZM370.7 136.74H376.9V140.62H370.7ZM352.1 140.62H358.3V144.50H352.1ZM339.7 144.50H345.9V148.38H339.7ZM383.1 163.91H389.3V167.79H383.1ZM383.1 198.83H389.3V202.72H383.1ZM345.9 202.72H352.1V206.60H345.9ZM370.7 202.72H376.9V206.60H370.7ZM339.7 210.48H358.3V214.36H339.7ZM352.1 218.24H358.3V222.12H352.1ZM389.3 218.24H395.5V222.12H389.3ZM352.1 222.12H358.3V226.00H352.1ZM383.1 222.12H395.5V226.00H383.1ZM339.7 226.00H345.9V229.88H339.7ZM352.1 226.00H358.3V229.88H352.1ZM370.7 226.00H376.9V229.88H370.7ZM389.3 226.00H395.5V229.88H389.3ZM370.7 229.88H383.1V233.76H370.7ZM345.9 233.76H352.1V237.64H345.9ZM358.3 233.76H364.5V237.64H358.3ZM376.9 233.76H389.3V237.64H376.9ZM358.3 237.64H364.5V241.53H358.3ZM358.3 245.41H364.5V249.29H358.3ZM358.3 253.17H364.5V257.05H358.3ZM345.9 257.05H352.1V260.93H345.9ZM358.3 257.05H364.5V260.93H358.3ZM389.3 257.05H395.5V260.93H389.3ZM364.5 272.57H370.7V276.45H364.5ZM383.1 272.57H389.3V276.45H383.1ZM339.7 276.45H345.9V280.34H339.7ZM352.1 276.45H370.7V280.34H352.1ZM383.1 276.45H395.5V280.34H383.1ZM358.3 280.34H364.5V284.22H358.3ZM383.1 280.34H395.5V284.22H383.1ZM352.1 284.22H364.5V288.10H352.1ZM389.3 284.22H395.5V288.10H389.3ZM339.7 288.10H345.9V291.98H339.7ZM358.3 288.10H370.7V291.98H358.3ZM376.9 288.10H383.1V291.98H376.9ZM389.3 288.10H395.5V291.98H389.3ZM358.3 291.98H370.7V295.86H358.3ZM376.9 291.98H395.5V295.86H376.9ZM339.7 295.86H345.9V299.74H339.7ZM358.3 295.86H370.7V299.74H358.3ZM383.1 295.86H395.5V299.74H383.1ZM339.7 299.74H345.9V303.62H339.7ZM358.3 299.74H370.7V303.62H358.3ZM383.1 299.74H389.3V303.62H383.1ZM339.7 303.62H345.9V307.50H339.7ZM352.1 303.62H358.3V307.50H352.1ZM376.9 303.62H383.1V307.50H376.9ZM389.3 303.62H395.5V307.50H389.3ZM376.9 307.50H389.3V311.38H376.9ZM352.1 311.38H364.5V315.26H352.1ZM389.3 311.38H395.5V315.26H389.3ZM345.9 315.26H370.7V319.15H345.9ZM383.1 315.26H389.3V319.15H383.1ZM345.9 319.15H358.3V323.03H345.9ZM389.3 319.15H395.5V323.03H389.3ZM352.1 323.03H358.3V326.91H352.1ZM389.3 323.03H395.5V326.91H389.3ZM389.3 326.91H395.5V330.79H389.3ZM339.7 330.79H345.9V334.67H339.7ZM352.1 330.79H364.5V334.67H352.1ZM383.1 330.79H389.3V334.67H383.1ZM345.9 334.67H364.5V338.55H345.9ZM376.9 334.67H389.3V338.55H376.9ZM358.3 342.43H364.5V346.31H358.3ZM358.3 346.31H364.5V350.19H358.3ZM345.9 350.19H370.7V354.07H345.9ZM376.9 350.19H389.3V354.07H376.9ZM358.3 354.07H364.5V357.96H358.3ZM383.1 354.07H389.3V357.96H383.1ZM358.3 357.96H364.5V361.84H358.3ZM383.1 357.96H389.3V361.84H383.1ZM345.9 361.84H364.5V365.72H345.9ZM376.9 361.84H383.1V365.72H376.9ZM339.7 365.72H376.9V369.60H339.7ZM383.1 365.72H395.5V369.60H383.1ZM339.7 369.60H345.9V373.48H339.7ZM352.1 369.60H364.5V373.48H352.1ZM376.9 369.60H389.3V373.48H376.9ZM345.9 373.48H358.3V377.36H345.9ZM364.5 373.48H376.9V377.36H364.5ZM383.1 373.48H395.5V377.36H383.1ZM345.9 377.36H358.3V381.24H345.9ZM383.1 377.36H395.5V381.24H383.1ZM345.9 381.24H358.3V385.12H345.9ZM383.1 381.24H395.5V385.12H383.1ZM352.1 385.12H358.3V389.00H352.1ZM383.1 385.12H395.5V389.00H383.1ZM352.1 389.00H358.3V392.88H352.1ZM339.7 392.88H345.9V396.77H339.7ZM339.7 396.77H352.1V400.65H339.7ZM364.5 396.77H370.7V400.65H364.5ZM364.5 400.65H376.9V404.53H364.5ZM345.9 404.53H352.1V408.41H345.9ZM364.5 404.53H376.9V408.41H364.5ZM383.1 404.53H389.3V408.41H383.1ZM370.7 408.41H376.9V412.29H370.7ZM345.9 412.29H352.1V416.17H345.9ZM370.7 412.29H383.1V416.17H370.7ZM389.3 412.29H395.5V416.17H389.3ZM352.1 416.17H358.3V420.05H352.1ZM345.9 420.05H358.3V423.93H345.9ZM376.9 420.05H383.1V423.93H376.9ZM339.7 431.69H345.9V435.58H339.7ZM352.1 431.69H358.3V435.58H352.1ZM370.7 431.69H383.1V435.58H370.7ZM345.9 435.58H352.1V439.46H345.9ZM370.7 435.58H376.9V439.46H370.7ZM345.9 439.46H352.1V443.34H345.9ZM383.1 439.46H389.3V443.34H383.1ZM345.9 443.34H352.1V447.22H345.9ZM383.1 443.34H389.3V447.22H383.1ZM352.1 447.22H358.3V451.10H352.1ZM364.5 447.22H370.7V451.10H364.5ZM389.3 447.22H395.5V451.10H389.3ZM352.1 451.10H358.3V454.98H352.1ZM370.7 451.10H376.9V454.98H370.7ZM370.7 454.98H376.9V458.86H370.7ZM389.3 454.98H395.5V458.86H389.3ZM358.3 458.86H395.5V462.74H358.3ZM352.1 462.74H358.3V466.62H352.1ZM364.5 462.74H370.7V466.62H364.5ZM345.9 466.62H352.1V470.50H345.9ZM364.5 466.62H370.7V470.50H364.5ZM376.9 466.62H389.3V470.50H376.9ZM352.1 470.50H358.3V474.39H352.1ZM370.7 482.15H376.9V486.03H370.7ZM383.1 497.67H389.3V501.55H383.1ZM358.3 501.55H364.5V505.43H358.3ZM428.7 70.76H434.9V74.64H428.7ZM434.9 74.64H441.1V78.52H434.9ZM397.7 78.52H410.1V82.40H397.7ZM472.1 78.52H478.3V82.40H472.1ZM422.5 90.17H428.7V94.05H422.5ZM434.9 105.69H441.1V109.57H434.9ZM434.9 113.45H441.1V117.33H434.9ZM434.9 125.10H441.1V128.98H434.9ZM403.9 132.86H416.3V136.74H403.9ZM397.7 136.74H403.9V140.62H397.7ZM434.9 136.74H447.3V140.62H434.9ZM459.7 136.74H465.9V140.62H459.7ZM478.3 136.74H484.5V140.62H478.3ZM434.9 140.62H441.1V144.50H434.9ZM434.9 163.91H441.1V167.79H434.9ZM459.7 167.79H465.9V171.67H459.7ZM397.7 202.72H403.9V206.60H397.7ZM434.9 202.72H447.3V206.60H434.9ZM459.7 202.72H465.9V206.60H459.7ZM478.3 202.72H484.5V206.60H478.3ZM397.7 206.60H403.9V210.48H397.7ZM434.9 206.60H441.1V210.48H434.9ZM403.9 210.48H410.1V214.36H403.9ZM428.7 210.48H434.9V214.36H428.7ZM447.3 210.48H459.7V214.36H447.3ZM397.7 214.36H403.9V218.24H397.7ZM403.9 218.24H422.5V222.12H403.9ZM447.3 218.24H465.9V222.12H447.3ZM403.9 222.12H422.5V226.00H403.9ZM434.9 222.12H441.1V226.00H434.9ZM447.3 222.12H465.9V226.00H447.3ZM403.9 226.00H422.5V229.88H403.9ZM459.7 226.00H465.9V229.88H459.7ZM472.1 226.00H478.3V229.88H472.1ZM447.3 229.88H453.5V233.76H447.3ZM459.7 229.88H465.9V233.76H459.7ZM403.9 233.76H410.1V237.64H403.9ZM422.5 233.76H428.7V237.64H422.5ZM447.3 233.76H465.9V237.64H447.3ZM478.3 233.76H484.5V237.64H478.3ZM465.9 237.64H472.1V241.53H465.9ZM453.5 241.53H459.7V245.41H453.5ZM478.3 241.53H484.5V245.41H478.3ZM397.7 245.41H403.9V249.29H397.7ZM459.7 245.41H465.9V249.29H459.7ZM478.3 253.17H484.5V257.05H478.3ZM447.3 257.05H453.5V260.93H447.3ZM478.3 257.05H484.5V260.93H478.3ZM403.9 268.69H410.1V272.57H403.9ZM447.3 268.69H453.5V272.57H447.3ZM465.9 268.69H472.1V272.57H465.9ZM403.9 272.57H410.1V276.45H403.9ZM428.7 272.57H434.9V276.45H428.7ZM453.5 272.57H478.3V276.45H453.5ZM416.3 276.45H422.5V280.34H416.3ZM453.5 276.45H459.7V280.34H453.5ZM465.9 276.45H472.1V280.34H465.9ZM410.1 280.34H422.5V284.22H410.1ZM428.7 280.34H434.9V284.22H428.7ZM453.5 280.34H459.7V284.22H453.5ZM416.3 284.22H422.5V288.10H416.3ZM434.9 284.22H441.1V288.10H434.9ZM472.1 284.22H478.3V288.10H472.1ZM403.9 288.10H410.1V291.98H403.9ZM416.3 288.10H422.5V291.98H416.3ZM434.9 288.10H441.1V291.98H434.9ZM453.5 288.10H459.7V291.98H453.5ZM465.9 288.10H478.3V291.98H465.9ZM403.9 291.98H428.7V295.86H403.9ZM434.9 291.98H441.1V295.86H434.9ZM453.5 291.98H465.9V295.86H453.5ZM422.5 295.86H428.7V299.74H422.5ZM434.9 295.86H441.1V299.74H434.9ZM447.3 295.86H478.3V299.74H447.3ZM403.9 299.74H410.1V303.62H403.9ZM422.5 299.74H428.7V303.62H422.5ZM447.3 299.74H472.1V303.62H447.3ZM403.9 303.62H410.1V307.50H403.9ZM416.3 303.62H422.5V307.50H416.3ZM453.5 303.62H459.7V307.50H453.5ZM465.9 303.62H472.1V307.50H465.9ZM403.9 307.50H410.1V311.38H403.9ZM416.3 307.50H422.5V311.38H416.3ZM428.7 307.50H434.9V311.38H428.7ZM447.3 307.50H472.1V311.38H447.3ZM478.3 307.50H484.5V311.38H478.3ZM397.7 311.38H403.9V315.26H397.7ZM453.5 311.38H459.7V315.26H453.5ZM478.3 311.38H484.5V315.26H478.3ZM397.7 315.26H422.5V319.15H397.7ZM453.5 315.26H459.7V319.15H453.5ZM465.9 315.26H472.1V319.15H465.9ZM403.9 319.15H416.3V323.03H403.9ZM453.5 319.15H459.7V323.03H453.5ZM465.9 319.15H472.1V323.03H465.9ZM478.3 319.15H484.5V323.03H478.3ZM397.7 323.03H422.5V326.91H397.7ZM447.3 323.03H459.7V326.91H447.3ZM472.1 323.03H478.3V326.91H472.1ZM397.7 326.91H410.1V330.79H397.7ZM453.5 326.91H459.7V330.79H453.5ZM465.9 326.91H472.1V330.79H465.9ZM478.3 326.91H484.5V330.79H478.3ZM422.5 330.79H428.7V334.67H422.5ZM478.3 330.79H484.5V334.67H478.3ZM403.9 334.67H410.1V338.55H403.9ZM416.3 334.67H422.5V338.55H416.3ZM459.7 334.67H465.9V338.55H459.7ZM478.3 334.67H484.5V338.55H478.3ZM403.9 338.55H410.1V342.43H403.9ZM434.9 338.55H441.1V342.43H434.9ZM459.7 338.55H484.5V342.43H459.7ZM410.1 342.43H428.7V346.31H410.1ZM434.9 342.43H441.1V346.31H434.9ZM453.5 342.43H465.9V346.31H453.5ZM478.3 342.43H484.5V346.31H478.3ZM410.1 346.31H428.7V350.19H410.1ZM447.3 346.31H459.7V350.19H447.3ZM478.3 346.31H484.5V350.19H478.3ZM397.7 350.19H416.3V354.07H397.7ZM422.5 350.19H428.7V354.07H422.5ZM434.9 350.19H472.1V354.07H434.9ZM478.3 350.19H484.5V354.07H478.3ZM416.3 354.07H428.7V357.96H416.3ZM441.1 354.07H447.3V357.96H441.1ZM459.7 354.07H465.9V357.96H459.7ZM478.3 354.07H484.5V357.96H478.3ZM403.9 357.96H428.7V361.84H403.9ZM459.7 357.96H465.9V361.84H459.7ZM472.1 357.96H478.3V361.84H472.1ZM397.7 361.84H410.1V365.72H397.7ZM453.5 361.84H459.7V365.72H453.5ZM465.9 361.84H472.1V365.72H465.9ZM478.3 361.84H484.5V365.72H478.3ZM403.9 365.72H428.7V369.60H403.9ZM434.9 365.72H447.3V369.60H434.9ZM478.3 365.72H484.5V369.60H478.3ZM403.9 369.60H416.3V373.48H403.9ZM422.5 369.60H428.7V373.48H422.5ZM441.1 369.60H447.3V373.48H441.1ZM459.7 369.60H465.9V373.48H459.7ZM472.1 369.60H484.5V373.48H472.1ZM403.9 373.48H410.1V377.36H403.9ZM416.3 373.48H422.5V377.36H416.3ZM453.5 373.48H472.1V377.36H453.5ZM410.1 377.36H416.3V381.24H410.1ZM434.9 377.36H441.1V381.24H434.9ZM453.5 377.36H459.7V381.24H453.5ZM434.9 381.24H447.3V385.12H434.9ZM453.5 381.24H459.7V385.12H453.5ZM472.1 381.24H484.5V385.12H472.1ZM397.7 385.12H422.5V389.00H397.7ZM434.9 385.12H441.1V389.00H434.9ZM453.5 385.12H459.7V389.00H453.5ZM465.9 385.12H472.1V389.00H465.9ZM478.3 385.12H484.5V389.00H478.3ZM410.1 389.00H422.5V392.88H410.1ZM453.5 389.00H459.7V392.88H453.5ZM478.3 389.00H484.5V392.88H478.3ZM397.7 392.88H403.9V396.77H397.7ZM428.7 392.88H441.1V396.77H428.7ZM459.7 392.88H465.9V396.77H459.7ZM434.9 396.77H441.1V400.65H434.9ZM459.7 396.77H465.9V400.65H459.7ZM428.7 400.65H459.7V404.53H428.7ZM465.9 400.65H478.3V404.53H465.9ZM403.9 404.53H410.1V408.41H403.9ZM428.7 404.53H459.7V408.41H428.7ZM465.9 404.53H472.1V408.41H465.9ZM478.3 404.53H484.5V408.41H478.3ZM428.7 408.41H447.3V412.29H428.7ZM453.5 408.41H459.7V412.29H453.5ZM465.9 408.41H484.5V412.29H465.9ZM397.7 412.29H403.9V416.17H397.7ZM422.5 412.29H434.9V416.17H422.5ZM441.1 412.29H472.1V416.17H441.1ZM478.3 412.29H484.5V416.17H478.3ZM397.7 416.17H410.1V420.05H397.7ZM428.7 416.17H434.9V420.05H428.7ZM465.9 416.17H472.1V420.05H465.9ZM403.9 420.05H410.1V423.93H403.9ZM416.3 420.05H422.5V423.93H416.3ZM434.9 423.93H447.3V427.81H434.9ZM478.3 423.93H484.5V427.81H478.3ZM403.9 427.81H410.1V431.69H403.9ZM422.5 427.81H428.7V431.69H422.5ZM397.7 431.69H403.9V435.58H397.7ZM428.7 431.69H434.9V435.58H428.7ZM397.7 435.58H410.1V439.46H397.7ZM397.7 439.46H410.1V443.34H397.7ZM416.3 439.46H422.5V443.34H416.3ZM465.9 439.46H472.1V443.34H465.9ZM397.7 443.34H410.1V447.22H397.7ZM422.5 447.22H434.9V451.10H422.5ZM459.7 447.22H472.1V451.10H459.7ZM403.9 451.10H416.3V454.98H403.9ZM453.5 451.10H459.7V454.98H453.5ZM478.3 451.10H484.5V454.98H478.3ZM397.7 454.98H410.1V458.86H397.7ZM428.7 454.98H434.9V458.86H428.7ZM453.5 454.98H465.9V458.86H453.5ZM410.1 458.86H416.3V462.74H410.1ZM410.1 462.74H428.7V466.62H410.1ZM441.1 462.74H459.7V466.62H441.1ZM465.9 462.74H472.1V466.62H465.9ZM403.9 466.62H410.1V470.50H403.9ZM422.5 466.62H428.7V470.50H422.5ZM459.7 466.62H465.9V470.50H459.7ZM472.1 466.62H478.3V470.50H472.1ZM403.9 474.39H410.1V478.27H403.9ZM416.3 474.39H422.5V478.27H416.3ZM441.1 474.39H447.3V478.27H441.1ZM453.5 474.39H459.7V478.27H453.5ZM465.9 474.39H472.1V478.27H465.9ZM465.9 478.27H472.1V482.15H465.9ZM459.7 482.15H465.9V486.03H459.7ZM434.9 497.67H441.1V501.55H434.9ZM459.7 497.67H465.9V501.55H459.7ZM403.9 501.55H410.1V505.43H403.9ZM416.3 501.55H422.5V505.43H416.3ZM434.9 501.55H447.3V505.43H434.9ZM416.3 505.43H422.5V509.31H416.3ZM486.7 66.88H492.9V70.76H486.7ZM523.9 70.76H530.1V74.64H523.9ZM554.9 70.76H561.1V74.64H554.9ZM517.7 74.64H523.9V78.52H517.7ZM530.1 74.64H542.5V78.52H530.1ZM530.1 78.52H542.5V82.40H530.1ZM536.3 86.29H542.5V90.17H536.3ZM511.5 90.17H517.7V94.05H511.5ZM523.9 90.17H530.1V94.05H523.9ZM536.3 90.17H542.5V94.05H536.3ZM561.1 90.17H567.3V94.05H561.1ZM511.5 94.05H517.7V97.93H511.5ZM542.5 94.05H548.7V97.93H542.5ZM561.1 94.05H567.3V97.93H561.1ZM486.7 97.93H492.9V101.81H486.7ZM511.5 97.93H517.7V101.81H511.5ZM530.1 97.93H536.3V101.81H530.1ZM542.5 97.93H554.9V101.81H542.5ZM492.9 101.81H499.1V105.69H492.9ZM530.1 101.81H536.3V105.69H530.1ZM492.9 105.69H505.3V109.57H492.9ZM536.3 105.69H542.5V109.57H536.3ZM548.7 105.69H561.1V109.57H548.7ZM486.7 109.57H511.5V113.45H486.7ZM523.9 109.57H530.1V113.45H523.9ZM536.3 109.57H554.9V113.45H536.3ZM561.1 109.57H567.3V113.45H561.1ZM492.9 113.45H499.1V117.33H492.9ZM505.3 113.45H517.7V117.33H505.3ZM523.9 113.45H530.1V117.33H523.9ZM536.3 113.45H548.7V117.33H536.3ZM486.7 117.33H499.1V121.21H486.7ZM505.3 117.33H511.5V121.21H505.3ZM499.1 121.21H505.3V125.10H499.1ZM536.3 121.21H542.5V125.10H536.3ZM486.7 125.10H492.9V128.98H486.7ZM499.1 125.10H505.3V128.98H499.1ZM486.7 128.98H505.3V132.86H486.7ZM561.1 128.98H567.3V132.86H561.1ZM486.7 132.86H492.9V136.74H486.7ZM499.1 132.86H505.3V136.74H499.1ZM499.1 140.62H505.3V144.50H499.1ZM486.7 144.50H492.9V148.38H486.7ZM511.5 144.50H517.7V148.38H511.5ZM486.7 152.26H492.9V156.14H486.7ZM486.7 156.14H492.9V160.02H486.7ZM486.7 171.67H492.9V175.55H486.7ZM505.3 175.55H511.5V179.43H505.3ZM542.5 175.55H548.7V179.43H542.5ZM561.1 175.55H567.3V179.43H561.1ZM492.9 179.43H505.3V183.31H492.9ZM517.7 179.43H523.9V183.31H517.7ZM542.5 179.43H548.7V183.31H542.5ZM554.9 179.43H561.1V183.31H554.9ZM486.7 183.31H511.5V187.19H486.7ZM561.1 183.31H567.3V187.19H561.1ZM486.7 187.19H505.3V191.07H486.7ZM548.7 187.19H554.9V191.07H548.7ZM561.1 187.19H567.3V191.07H561.1ZM486.7 191.07H505.3V194.95H486.7ZM536.3 191.07H542.5V194.95H536.3ZM548.7 191.07H567.3V194.95H548.7ZM492.9 194.95H499.1V198.83H492.9ZM548.7 194.95H554.9V198.83H548.7ZM486.7 198.83H492.9V202.72H486.7ZM486.7 202.72H492.9V206.60H486.7ZM486.7 206.60H499.1V210.48H486.7ZM530.1 218.24H536.3V222.12H530.1ZM499.1 226.00H511.5V229.88H499.1ZM517.7 226.00H530.1V229.88H517.7ZM548.7 226.00H554.9V229.88H548.7ZM561.1 226.00H567.3V229.88H561.1ZM530.1 229.88H536.3V233.76H530.1ZM499.1 237.64H505.3V241.53H499.1ZM499.1 315.26H505.3V319.15H499.1ZM511.5 377.36H517.7V381.24H511.5ZM511.5 381.24H517.7V385.12H511.5ZM536.3 385.12H542.5V389.00H536.3ZM505.3 404.53H511.5V408.41H505.3ZM492.9 408.41H499.1V412.29H492.9ZM486.7 416.17H499.1V420.05H486.7ZM536.3 420.05H542.5V423.93H536.3ZM486.7 423.93H492.9V427.81H486.7ZM511.5 423.93H517.7V427.81H511.5ZM536.3 423.93H542.5V427.81H536.3ZM492.9 427.81H499.1V431.69H492.9ZM536.3 427.81H542.5V431.69H536.3ZM548.7 427.81H554.9V431.69H548.7ZM486.7 431.69H492.9V435.58H486.7ZM517.7 431.69H523.9V435.58H517.7ZM530.1 431.69H542.5V435.58H530.1ZM548.7 431.69H554.9V435.58H548.7ZM505.3 435.58H511.5V439.46H505.3ZM523.9 435.58H530.1V439.46H523.9ZM548.7 435.58H554.9V439.46H548.7ZM499.1 439.46H511.5V443.34H499.1ZM548.7 439.46H554.9V443.34H548.7ZM561.1 439.46H567.3V443.34H561.1ZM492.9 443.34H499.1V447.22H492.9ZM511.5 443.34H517.7V447.22H511.5ZM542.5 443.34H548.7V447.22H542.5ZM554.9 443.34H561.1V447.22H554.9ZM505.3 447.22H511.5V451.10H505.3ZM523.9 447.22H530.1V451.10H523.9ZM499.1 451.10H505.3V454.98H499.1ZM517.7 451.10H530.1V454.98H517.7ZM542.5 451.10H548.7V454.98H542.5ZM554.9 451.10H561.1V454.98H554.9ZM499.1 454.98H511.5V458.86H499.1ZM523.9 454.98H530.1V458.86H523.9ZM542.5 454.98H554.9V458.86H542.5ZM561.1 454.98H567.3V458.86H561.1ZM511.5 458.86H517.7V462.74H511.5ZM530.1 458.86H536.3V462.74H530.1ZM542.5 458.86H548.7V462.74H542.5ZM554.9 458.86H561.1V462.74H554.9ZM499.1 462.74H505.3V466.62H499.1ZM561.1 462.74H567.3V466.62H561.1ZM492.9 466.62H505.3V470.50H492.9ZM523.9 466.62H536.3V470.50H523.9ZM561.1 466.62H567.3V470.50H561.1ZM499.1 470.50H505.3V474.39H499.1ZM499.1 474.39H505.3V478.27H499.1ZM499.1 478.27H505.3V482.15H499.1ZM486.7 482.15H492.9V486.03H486.7ZM505.3 482.15H511.5V486.03H505.3ZM523.9 482.15H530.1V486.03H523.9ZM486.7 486.03H505.3V489.91H486.7ZM523.9 486.03H530.1V489.91H523.9ZM486.7 489.91H505.3V493.79H486.7ZM554.9 489.91H561.1V493.79H554.9ZM492.9 493.79H499.1V497.67H492.9ZM523.9 493.79H530.1V497.67H523.9ZM523.9 497.67H567.3V501.55H523.9ZM499.1 501.55H505.3V505.43H499.1ZM542.5 501.55H548.7V505.43H542.5ZM486.7 505.43H492.9V509.31H486.7ZM548.7 505.43H554.9V509.31H548.7ZM505.3 509.31H511.5V513.20H505.3ZM594.1 66.88H606.5V70.76H594.1ZM612.7 66.88H618.9V70.76H612.7ZM631.3 66.88H649.9V70.76H631.3ZM631.3 70.76H637.5V74.64H631.3ZM643.7 70.76H649.9V74.64H643.7ZM637.5 74.64H643.7V78.52H637.5ZM569.3 78.52H575.5V82.40H569.3ZM594.1 78.52H600.3V82.40H594.1ZM606.5 78.52H612.7V82.40H606.5ZM594.1 82.40H600.3V86.29H594.1ZM606.5 86.29H618.9V90.17H606.5ZM569.3 90.17H625.1V94.05H569.3ZM631.3 90.17H643.7V94.05H631.3ZM649.9 90.17H656.1V94.05H649.9ZM575.5 94.05H581.7V97.93H575.5ZM594.1 94.05H606.5V97.93H594.1ZM612.7 94.05H618.9V97.93H612.7ZM631.3 94.05H643.7V97.93H631.3ZM649.9 94.05H656.1V97.93H649.9ZM569.3 97.93H587.9V101.81H569.3ZM594.1 97.93H606.5V101.81H594.1ZM612.7 97.93H618.9V101.81H612.7ZM637.5 97.93H643.7V101.81H637.5ZM649.9 97.93H656.1V101.81H649.9ZM581.7 101.81H587.9V105.69H581.7ZM594.1 101.81H600.3V105.69H594.1ZM631.3 101.81H656.1V105.69H631.3ZM569.3 105.69H587.9V109.57H569.3ZM625.1 105.69H656.1V109.57H625.1ZM569.3 109.57H575.5V113.45H569.3ZM581.7 109.57H594.1V113.45H581.7ZM606.5 109.57H612.7V113.45H606.5ZM631.3 109.57H656.1V113.45H631.3ZM575.5 113.45H594.1V117.33H575.5ZM600.3 113.45H606.5V117.33H600.3ZM625.1 113.45H637.5V117.33H625.1ZM569.3 117.33H587.9V121.21H569.3ZM594.1 117.33H625.1V121.21H594.1ZM631.3 117.33H649.9V121.21H631.3ZM569.3 121.21H575.5V125.10H569.3ZM594.1 121.21H606.5V125.10H594.1ZM643.7 121.21H649.9V125.10H643.7ZM569.3 125.10H575.5V128.98H569.3ZM587.9 125.10H594.1V128.98H587.9ZM643.7 125.10H649.9V128.98H643.7ZM569.3 128.98H575.5V132.86H569.3ZM594.1 128.98H600.3V132.86H594.1ZM575.5 132.86H581.7V136.74H575.5ZM587.9 132.86H600.3V136.74H587.9ZM625.1 132.86H631.3V136.74H625.1ZM575.5 136.74H581.7V140.62H575.5ZM587.9 136.74H594.1V140.62H587.9ZM581.7 140.62H587.9V144.50H581.7ZM594.1 140.62H600.3V144.50H594.1ZM625.1 140.62H631.3V144.50H625.1ZM575.5 144.50H587.9V148.38H575.5ZM594.1 144.50H600.3V148.38H594.1ZM587.9 148.38H594.1V152.26H587.9ZM606.5 148.38H612.7V152.26H606.5ZM631.3 148.38H637.5V152.26H631.3ZM575.5 152.26H587.9V156.14H575.5ZM594.1 152.26H600.3V156.14H594.1ZM575.5 156.14H581.7V160.02H575.5ZM594.1 156.14H600.3V160.02H594.1ZM637.5 156.14H643.7V160.02H637.5ZM575.5 160.02H581.7V163.91H575.5ZM587.9 160.02H594.1V163.91H587.9ZM575.5 163.91H581.7V167.79H575.5ZM587.9 163.91H594.1V167.79H587.9ZM637.5 163.91H643.7V167.79H637.5ZM575.5 167.79H581.7V171.67H575.5ZM600.3 167.79H606.5V171.67H600.3ZM618.9 167.79H625.1V171.67H618.9ZM649.9 167.79H656.1V171.67H649.9ZM606.5 171.67H612.7V175.55H606.5ZM575.5 175.55H594.1V179.43H575.5ZM606.5 175.55H612.7V179.43H606.5ZM569.3 179.43H581.7V183.31H569.3ZM587.9 179.43H594.1V183.31H587.9ZM606.5 179.43H612.7V183.31H606.5ZM631.3 179.43H637.5V183.31H631.3ZM569.3 183.31H587.9V187.19H569.3ZM606.5 183.31H612.7V187.19H606.5ZM631.3 183.31H643.7V187.19H631.3ZM569.3 187.19H587.9V191.07H569.3ZM606.5 187.19H618.9V191.07H606.5ZM631.3 187.19H643.7V191.07H631.3ZM649.9 187.19H656.1V191.07H649.9ZM569.3 191.07H587.9V194.95H569.3ZM606.5 191.07H612.7V194.95H606.5ZM631.3 191.07H637.5V194.95H631.3ZM575.5 194.95H587.9V198.83H575.5ZM606.5 194.95H612.7V198.83H606.5ZM631.3 194.95H643.7V198.83H631.3ZM569.3 198.83H587.9V202.72H569.3ZM631.3 198.83H649.9V202.72H631.3ZM569.3 202.72H581.7V206.60H569.3ZM606.5 202.72H612.7V206.60H606.5ZM637.5 202.72H643.7V206.60H637.5ZM569.3 206.60H581.7V210.48H569.3ZM606.5 206.60H612.7V210.48H606.5ZM625.1 206.60H631.3V210.48H625.1ZM637.5 206.60H643.7V210.48H637.5ZM625.1 210.48H631.3V214.36H625.1ZM594.1 229.88H600.3V233.76H594.1ZM618.9 229.88H625.1V233.76H618.9ZM618.9 233.76H625.1V237.64H618.9ZM600.3 330.79H606.5V334.67H600.3ZM569.3 373.48H575.5V377.36H569.3ZM581.7 373.48H587.9V377.36H581.7ZM581.7 377.36H587.9V381.24H581.7ZM600.3 377.36H606.5V381.24H600.3ZM631.3 377.36H637.5V381.24H631.3ZM581.7 381.24H594.1V385.12H581.7ZM600.3 381.24H606.5V385.12H600.3ZM649.9 381.24H656.1V385.12H649.9ZM581.7 385.12H587.9V389.00H581.7ZM600.3 385.12H606.5V389.00H600.3ZM625.1 385.12H637.5V389.00H625.1ZM594.1 389.00H606.5V392.88H594.1ZM612.7 392.88H618.9V396.77H612.7ZM600.3 396.77H606.5V400.65H600.3ZM625.1 396.77H637.5V400.65H625.1ZM581.7 400.65H587.9V404.53H581.7ZM600.3 400.65H606.5V404.53H600.3ZM625.1 400.65H637.5V404.53H625.1ZM600.3 404.53H606.5V408.41H600.3ZM581.7 408.41H587.9V412.29H581.7ZM600.3 408.41H606.5V412.29H600.3ZM631.3 408.41H637.5V412.29H631.3ZM649.9 408.41H656.1V412.29H649.9ZM600.3 412.29H606.5V416.17H600.3ZM631.3 412.29H637.5V416.17H631.3ZM649.9 412.29H656.1V416.17H649.9ZM643.7 420.05H649.9V423.93H643.7ZM625.1 427.81H631.3V431.69H625.1ZM631.3 447.22H637.5V451.10H631.3ZM625.1 478.27H631.3V482.15H625.1ZM600.3 482.15H606.5V486.03H600.3ZM631.3 482.15H637.5V486.03H631.3ZM587.9 486.03H594.1V489.91H587.9ZM581.7 489.91H606.5V493.79H581.7ZM631.3 489.91H637.5V493.79H631.3ZM643.7 489.91H649.9V493.79H643.7ZM594.1 493.79H606.5V497.67H594.1ZM612.7 497.67H618.9V501.55H612.7ZM631.3 497.67H637.5V501.55H631.3ZM581.7 501.55H587.9V505.43H581.7ZM600.3 501.55H606.5V505.43H600.3ZM631.3 501.55H637.5V505.43H631.3ZM587.9 509.31H594.1V513.20H587.9ZM664.4 70.76H670.6V74.64H664.4ZM670.6 74.64H676.8V78.52H670.6ZM664.4 86.29H670.6V90.17H664.4ZM658.2 94.05H676.8V97.93H658.2ZM670.6 101.81H676.8V105.69H670.6ZM658.2 105.69H664.4V109.57H658.2ZM670.6 105.69H676.8V109.57H670.6ZM664.4 109.57H670.6V113.45H664.4ZM658.2 121.21H670.6V125.10H658.2ZM670.6 125.10H676.8V128.98H670.6ZM658.2 132.86H664.4V136.74H658.2ZM670.6 140.62H676.8V144.50H670.6ZM664.4 171.67H670.6V175.55H664.4ZM670.6 210.48H676.8V214.36H670.6ZM664.4 222.12H670.6V226.00H664.4ZM664.4 237.64H670.6V241.53H664.4ZM670.6 241.53H676.8V245.41H670.6ZM670.6 249.29H676.8V253.17H670.6ZM670.6 260.93H676.8V264.81H670.6ZM658.2 272.57H664.4V276.45H658.2ZM664.4 315.26H670.6V319.15H664.4ZM664.4 319.15H670.6V323.03H664.4ZM664.4 350.19H670.6V354.07H664.4ZM664.4 354.07H670.6V357.96H664.4ZM664.4 357.96H670.6V361.84H664.4ZM664.4 361.84H670.6V365.72H664.4ZM658.2 365.72H664.4V369.60H658.2ZM658.2 369.60H670.6V373.48H658.2ZM658.2 373.48H664.4V377.36H658.2ZM670.6 373.48H676.8V377.36H670.6ZM664.4 385.12H676.8V389.00H664.4ZM670.6 389.00H676.8V392.88H670.6ZM658.2 392.88H664.4V396.77H658.2ZM670.6 392.88H676.8V396.77H670.6ZM658.2 408.41H664.4V412.29H658.2ZM658.2 412.29H664.4V416.17H658.2ZM670.6 412.29H676.8V416.17H670.6ZM658.2 416.17H664.4V420.05H658.2ZM670.6 420.05H676.8V423.93H670.6ZM658.2 427.81H664.4V431.69H658.2ZM664.4 435.58H670.6V439.46H664.4ZM664.4 439.46H670.6V443.34H664.4ZM658.2 462.74H670.6V466.62H658.2ZM658.2 474.39H670.6V478.27H658.2ZM658.2 478.27H664.4V482.15H658.2ZM670.6 478.27H676.8V482.15H670.6ZM658.2 482.15H664.4V486.03H658.2ZM670.6 482.15H676.8V486.03H670.6ZM658.2 486.03H676.8V489.91H658.2ZM664.4 493.79H670.6V497.67H664.4ZM664.4 497.67H676.8V501.55H664.4ZM658.2 505.43H664.4V509.31H658.2Z"/><path fill="#d6d8ef" d="M358.3 66.88H364.5V70.76H358.3ZM383.1 66.88H395.5V70.76H383.1ZM352.1 70.76H358.3V74.64H352.1ZM376.9 70.76H389.3V74.64H376.9ZM389.3 74.64H395.5V78.52H389.3ZM358.3 78.52H364.5V82.40H358.3ZM339.7 86.29H345.9V90.17H339.7ZM352.1 86.29H370.7V90.17H352.1ZM389.3 86.29H395.5V90.17H389.3ZM352.1 94.05H358.3V97.93H352.1ZM364.5 94.05H370.7V97.93H364.5ZM339.7 97.93H345.9V101.81H339.7ZM339.7 101.81H345.9V105.69H339.7ZM370.7 101.81H383.1V105.69H370.7ZM383.1 105.69H389.3V109.57H383.1ZM370.7 109.57H376.9V113.45H370.7ZM345.9 113.45H364.5V117.33H345.9ZM339.7 117.33H345.9V121.21H339.7ZM358.3 117.33H364.5V121.21H358.3ZM370.7 121.21H383.1V125.10H370.7ZM370.7 125.10H376.9V128.98H370.7ZM383.1 125.10H395.5V128.98H383.1ZM339.7 128.98H345.9V132.86H339.7ZM370.7 128.98H376.9V132.86H370.7ZM339.7 132.86H345.9V136.74H339.7ZM370.7 132.86H376.9V136.74H370.7ZM389.3 132.86H395.5V136.74H389.3ZM383.1 140.62H395.5V144.50H383.1ZM376.9 144.50H383.1V148.38H376.9ZM339.7 148.38H352.1V152.26H339.7ZM376.9 148.38H383.1V152.26H376.9ZM389.3 148.38H395.5V152.26H389.3ZM339.7 160.02H352.1V163.91H339.7ZM352.1 167.79H358.3V171.67H352.1ZM383.1 167.79H395.5V171.67H383.1ZM370.7 175.55H383.1V179.43H370.7ZM345.9 179.43H352.1V183.31H345.9ZM370.7 179.43H383.1V183.31H370.7ZM358.3 183.31H364.5V187.19H358.3ZM352.1 187.19H358.3V191.07H352.1ZM364.5 187.19H389.3V191.07H364.5ZM370.7 191.07H383.1V194.95H370.7ZM339.7 202.72H345.9V206.60H339.7ZM358.3 202.72H364.5V206.60H358.3ZM376.9 202.72H383.1V206.60H376.9ZM352.1 206.60H358.3V210.48H352.1ZM389.3 206.60H395.5V210.48H389.3ZM376.9 210.48H383.1V214.36H376.9ZM376.9 222.12H383.1V226.00H376.9ZM358.3 241.53H370.7V245.41H358.3ZM389.3 241.53H395.5V245.41H389.3ZM339.7 307.50H345.9V311.38H339.7ZM376.9 311.38H383.1V315.26H376.9ZM364.5 319.15H370.7V323.03H364.5ZM364.5 326.91H370.7V330.79H364.5ZM376.9 338.55H383.1V342.43H376.9ZM376.9 342.43H383.1V346.31H376.9ZM364.5 377.36H370.7V381.24H364.5ZM364.5 381.24H370.7V385.12H364.5ZM352.1 392.88H358.3V396.77H352.1ZM383.1 392.88H389.3V396.77H383.1ZM370.7 396.77H376.9V400.65H370.7ZM383.1 396.77H389.3V400.65H383.1ZM358.3 400.65H364.5V404.53H358.3ZM339.7 404.53H345.9V408.41H339.7ZM358.3 408.41H364.5V412.29H358.3ZM339.7 416.17H345.9V420.05H339.7ZM364.5 416.17H370.7V420.05H364.5ZM364.5 420.05H370.7V423.93H364.5ZM345.9 423.93H352.1V427.81H345.9ZM345.9 427.81H352.1V431.69H345.9ZM345.9 431.69H352.1V435.58H345.9ZM389.3 431.69H395.5V435.58H389.3ZM358.3 443.34H364.5V447.22H358.3ZM345.9 447.22H352.1V451.10H345.9ZM389.3 474.39H395.5V478.27H389.3ZM358.3 478.27H364.5V482.15H358.3ZM339.7 486.03H345.9V489.91H339.7ZM339.7 489.91H345.9V493.79H339.7ZM389.3 493.79H395.5V497.67H389.3ZM345.9 497.67H352.1V501.55H345.9ZM403.9 66.88H410.1V70.76H403.9ZM447.3 66.88H453.5V70.76H447.3ZM434.9 70.76H441.1V74.64H434.9ZM478.3 70.76H484.5V74.64H478.3ZM397.7 74.64H410.1V78.52H397.7ZM441.1 74.64H447.3V78.52H441.1ZM453.5 74.64H459.7V78.52H453.5ZM478.3 74.64H484.5V78.52H478.3ZM416.3 78.52H422.5V82.40H416.3ZM434.9 78.52H441.1V82.40H434.9ZM397.7 86.29H403.9V90.17H397.7ZM410.1 86.29H416.3V90.17H410.1ZM422.5 86.29H428.7V90.17H422.5ZM459.7 86.29H478.3V90.17H459.7ZM397.7 90.17H403.9V94.05H397.7ZM441.1 90.17H447.3V94.05H441.1ZM447.3 94.05H459.7V97.93H447.3ZM478.3 94.05H484.5V97.93H478.3ZM434.9 101.81H441.1V105.69H434.9ZM453.5 105.69H465.9V109.57H453.5ZM416.3 109.57H422.5V113.45H416.3ZM403.9 113.45H410.1V117.33H403.9ZM478.3 113.45H484.5V117.33H478.3ZM403.9 117.33H422.5V121.21H403.9ZM410.1 121.21H428.7V125.10H410.1ZM410.1 125.10H416.3V128.98H410.1ZM441.1 125.10H447.3V128.98H441.1ZM459.7 125.10H472.1V128.98H459.7ZM478.3 125.10H484.5V128.98H478.3ZM397.7 128.98H410.1V132.86H397.7ZM441.1 128.98H453.5V132.86H441.1ZM459.7 128.98H465.9V132.86H459.7ZM478.3 128.98H484.5V132.86H478.3ZM397.7 132.86H403.9V136.74H397.7ZM416.3 132.86H422.5V136.74H416.3ZM441.1 132.86H459.7V136.74H441.1ZM465.9 132.86H472.1V136.74H465.9ZM478.3 132.86H484.5V136.74H478.3ZM428.7 136.74H434.9V140.62H428.7ZM416.3 140.62H422.5V144.50H416.3ZM428.7 140.62H434.9V144.50H428.7ZM447.3 140.62H459.7V144.50H447.3ZM465.9 140.62H478.3V144.50H465.9ZM434.9 144.50H441.1V148.38H434.9ZM403.9 148.38H422.5V152.26H403.9ZM428.7 148.38H459.7V152.26H428.7ZM465.9 148.38H484.5V152.26H465.9ZM416.3 160.02H428.7V163.91H416.3ZM441.1 160.02H453.5V163.91H441.1ZM403.9 167.79H410.1V171.67H403.9ZM416.3 167.79H434.9V171.67H416.3ZM472.1 167.79H478.3V171.67H472.1ZM422.5 175.55H428.7V179.43H422.5ZM465.9 175.55H472.1V179.43H465.9ZM397.7 179.43H403.9V183.31H397.7ZM441.1 179.43H453.5V183.31H441.1ZM478.3 179.43H484.5V183.31H478.3ZM397.7 183.31H403.9V187.19H397.7ZM410.1 183.31H416.3V187.19H410.1ZM447.3 183.31H459.7V187.19H447.3ZM410.1 187.19H447.3V191.07H410.1ZM459.7 187.19H465.9V191.07H459.7ZM472.1 187.19H478.3V191.07H472.1ZM428.7 191.07H434.9V194.95H428.7ZM410.1 194.95H416.3V198.83H410.1ZM428.7 194.95H441.1V198.83H428.7ZM453.5 194.95H459.7V198.83H453.5ZM472.1 194.95H484.5V198.83H472.1ZM410.1 202.72H416.3V206.60H410.1ZM428.7 202.72H434.9V206.60H428.7ZM465.9 202.72H472.1V206.60H465.9ZM416.3 206.60H422.5V210.48H416.3ZM453.5 206.60H459.7V210.48H453.5ZM465.9 206.60H472.1V210.48H465.9ZM410.1 210.48H416.3V214.36H410.1ZM434.9 218.24H441.1V222.12H434.9ZM441.1 229.88H447.3V233.76H441.1ZM441.1 237.64H447.3V241.53H441.1ZM472.1 303.62H478.3V307.50H472.1ZM422.5 319.15H428.7V323.03H422.5ZM422.5 326.91H428.7V330.79H422.5ZM428.7 330.79H434.9V334.67H428.7ZM465.9 330.79H478.3V334.67H465.9ZM422.5 334.67H428.7V338.55H422.5ZM447.3 334.67H453.5V338.55H447.3ZM472.1 334.67H478.3V338.55H472.1ZM428.7 338.55H434.9V342.43H428.7ZM428.7 342.43H434.9V346.31H428.7ZM428.7 346.31H434.9V350.19H428.7ZM472.1 354.07H478.3V357.96H472.1ZM434.9 373.48H441.1V377.36H434.9ZM422.5 385.12H434.9V389.00H422.5ZM422.5 389.00H428.7V392.88H422.5ZM403.9 396.77H416.3V400.65H403.9ZM441.1 396.77H447.3V400.65H441.1ZM465.9 396.77H472.1V400.65H465.9ZM447.3 416.17H453.5V420.05H447.3ZM422.5 420.05H428.7V423.93H422.5ZM397.7 423.93H403.9V427.81H397.7ZM447.3 423.93H453.5V427.81H447.3ZM472.1 423.93H478.3V427.81H472.1ZM416.3 427.81H422.5V431.69H416.3ZM428.7 427.81H434.9V431.69H428.7ZM441.1 427.81H447.3V431.69H441.1ZM478.3 427.81H484.5V431.69H478.3ZM422.5 431.69H428.7V435.58H422.5ZM447.3 431.69H453.5V435.58H447.3ZM397.7 447.22H403.9V451.10H397.7ZM397.7 474.39H403.9V478.27H397.7ZM428.7 474.39H434.9V478.27H428.7ZM416.3 482.15H422.5V486.03H416.3ZM410.1 486.03H422.5V489.91H410.1ZM453.5 486.03H472.1V489.91H453.5ZM478.3 486.03H484.5V489.91H478.3ZM428.7 489.91H434.9V493.79H428.7ZM441.1 489.91H447.3V493.79H441.1ZM459.7 489.91H465.9V493.79H459.7ZM428.7 493.79H434.9V497.67H428.7ZM441.1 493.79H447.3V497.67H441.1ZM459.7 493.79H465.9V497.67H459.7ZM478.3 493.79H484.5V497.67H478.3ZM416.3 497.67H422.5V501.55H416.3ZM447.3 497.67H459.7V501.55H447.3ZM428.7 501.55H434.9V505.43H428.7ZM530.1 66.88H536.3V70.76H530.1ZM548.7 66.88H554.9V70.76H548.7ZM505.3 70.76H511.5V74.64H505.3ZM517.7 70.76H523.9V74.64H517.7ZM486.7 74.64H511.5V78.52H486.7ZM492.9 86.29H499.1V90.17H492.9ZM511.5 101.81H523.9V105.69H511.5ZM548.7 101.81H554.9V105.69H548.7ZM530.1 113.45H536.3V117.33H530.1ZM511.5 121.21H517.7V125.10H511.5ZM517.7 125.10H530.1V128.98H517.7ZM517.7 128.98H530.1V132.86H517.7ZM554.9 128.98H561.1V132.86H554.9ZM511.5 132.86H517.7V136.74H511.5ZM523.9 132.86H530.1V136.74H523.9ZM542.5 132.86H548.7V136.74H542.5ZM523.9 140.62H536.3V144.50H523.9ZM542.5 140.62H567.3V144.50H542.5ZM517.7 144.50H536.3V148.38H517.7ZM542.5 144.50H567.3V148.38H542.5ZM523.9 148.38H530.1V152.26H523.9ZM505.3 160.02H523.9V163.91H505.3ZM530.1 160.02H536.3V163.91H530.1ZM548.7 160.02H567.3V163.91H548.7ZM499.1 167.79H511.5V171.67H499.1ZM542.5 167.79H548.7V171.67H542.5ZM554.9 167.79H567.3V171.67H554.9ZM530.1 175.55H536.3V179.43H530.1ZM554.9 175.55H561.1V179.43H554.9ZM511.5 187.19H517.7V191.07H511.5ZM530.1 187.19H536.3V191.07H530.1ZM511.5 194.95H517.7V198.83H511.5ZM523.9 194.95H530.1V198.83H523.9ZM499.1 198.83H505.3V202.72H499.1ZM530.1 198.83H536.3V202.72H530.1ZM548.7 202.72H554.9V206.60H548.7ZM561.1 202.72H567.3V206.60H561.1ZM517.7 206.60H523.9V210.48H517.7ZM530.1 206.60H536.3V210.48H530.1ZM517.7 210.48H536.3V214.36H517.7ZM542.5 210.48H554.9V214.36H542.5ZM505.3 218.24H511.5V222.12H505.3ZM548.7 218.24H554.9V222.12H548.7ZM499.1 222.12H523.9V226.00H499.1ZM542.5 222.12H548.7V226.00H542.5ZM486.7 229.88H492.9V233.76H486.7ZM523.9 229.88H530.1V233.76H523.9ZM542.5 229.88H554.9V233.76H542.5ZM492.9 233.76H499.1V237.64H492.9ZM523.9 233.76H530.1V237.64H523.9ZM548.7 233.76H561.1V237.64H548.7ZM486.7 237.64H492.9V241.53H486.7ZM505.3 237.64H511.5V241.53H505.3ZM517.7 237.64H536.3V241.53H517.7ZM492.9 272.57H505.3V276.45H492.9ZM523.9 272.57H530.1V276.45H523.9ZM548.7 272.57H554.9V276.45H548.7ZM486.7 276.45H492.9V280.34H486.7ZM542.5 276.45H554.9V280.34H542.5ZM486.7 280.34H505.3V284.22H486.7ZM517.7 280.34H523.9V284.22H517.7ZM548.7 280.34H554.9V284.22H548.7ZM561.1 280.34H567.3V284.22H561.1ZM486.7 284.22H567.3V288.10H486.7ZM486.7 288.10H567.3V291.98H486.7ZM492.9 291.98H499.1V295.86H492.9ZM492.9 295.86H499.1V299.74H492.9ZM530.1 295.86H536.3V299.74H530.1ZM548.7 295.86H567.3V299.74H548.7ZM486.7 299.74H505.3V303.62H486.7ZM511.5 299.74H517.7V303.62H511.5ZM530.1 299.74H536.3V303.62H530.1ZM486.7 303.62H567.3V307.50H486.7ZM486.7 307.50H567.3V311.38H486.7ZM486.7 311.38H511.5V315.26H486.7ZM517.7 311.38H554.9V315.26H517.7ZM561.1 311.38H567.3V315.26H561.1ZM492.9 315.26H499.1V319.15H492.9ZM505.3 315.26H511.5V319.15H505.3ZM517.7 315.26H523.9V319.15H517.7ZM561.1 315.26H567.3V319.15H561.1ZM486.7 319.15H567.3V323.03H486.7ZM486.7 323.03H567.3V326.91H486.7ZM492.9 326.91H567.3V330.79H492.9ZM492.9 330.79H499.1V334.67H492.9ZM505.3 330.79H511.5V334.67H505.3ZM523.9 330.79H536.3V334.67H523.9ZM542.5 330.79H548.7V334.67H542.5ZM554.9 330.79H561.1V334.67H554.9ZM486.7 334.67H492.9V338.55H486.7ZM499.1 334.67H505.3V338.55H499.1ZM530.1 334.67H542.5V338.55H530.1ZM548.7 334.67H554.9V338.55H548.7ZM561.1 334.67H567.3V338.55H561.1ZM486.7 338.55H511.5V342.43H486.7ZM517.7 338.55H567.3V342.43H517.7ZM492.9 342.43H511.5V346.31H492.9ZM517.7 342.43H567.3V346.31H517.7ZM492.9 346.31H511.5V350.19H492.9ZM517.7 346.31H567.3V350.19H517.7ZM492.9 350.19H499.1V354.07H492.9ZM505.3 350.19H511.5V354.07H505.3ZM536.3 350.19H542.5V354.07H536.3ZM492.9 354.07H505.3V357.96H492.9ZM542.5 354.07H554.9V357.96H542.5ZM561.1 354.07H567.3V357.96H561.1ZM486.7 357.96H492.9V361.84H486.7ZM499.1 357.96H505.3V361.84H499.1ZM523.9 357.96H530.1V361.84H523.9ZM542.5 357.96H548.7V361.84H542.5ZM554.9 357.96H561.1V361.84H554.9ZM492.9 361.84H499.1V365.72H492.9ZM511.5 361.84H517.7V365.72H511.5ZM499.1 365.72H505.3V369.60H499.1ZM536.3 365.72H542.5V369.60H536.3ZM492.9 369.60H499.1V373.48H492.9ZM517.7 369.60H530.1V373.48H517.7ZM542.5 373.48H548.7V377.36H542.5ZM561.1 373.48H567.3V377.36H561.1ZM486.7 377.36H492.9V381.24H486.7ZM554.9 377.36H561.1V381.24H554.9ZM542.5 381.24H548.7V385.12H542.5ZM542.5 385.12H548.7V389.00H542.5ZM492.9 389.00H505.3V392.88H492.9ZM536.3 389.00H548.7V392.88H536.3ZM554.9 389.00H567.3V392.88H554.9ZM517.7 392.88H530.1V396.77H517.7ZM536.3 392.88H542.5V396.77H536.3ZM561.1 392.88H567.3V396.77H561.1ZM492.9 396.77H536.3V400.65H492.9ZM542.5 396.77H561.1V400.65H542.5ZM511.5 400.65H517.7V404.53H511.5ZM561.1 400.65H567.3V404.53H561.1ZM517.7 404.53H523.9V408.41H517.7ZM486.7 408.41H492.9V412.29H486.7ZM505.3 408.41H511.5V412.29H505.3ZM536.3 408.41H542.5V412.29H536.3ZM548.7 408.41H554.9V412.29H548.7ZM561.1 408.41H567.3V412.29H561.1ZM505.3 412.29H511.5V416.17H505.3ZM548.7 412.29H554.9V416.17H548.7ZM499.1 416.17H505.3V420.05H499.1ZM511.5 416.17H517.7V420.05H511.5ZM542.5 416.17H548.7V420.05H542.5ZM561.1 416.17H567.3V420.05H561.1ZM499.1 420.05H511.5V423.93H499.1ZM530.1 420.05H536.3V423.93H530.1ZM561.1 420.05H567.3V423.93H561.1ZM530.1 423.93H536.3V427.81H530.1ZM486.7 427.81H492.9V431.69H486.7ZM530.1 427.81H536.3V431.69H530.1ZM492.9 431.69H499.1V435.58H492.9ZM523.9 443.34H536.3V447.22H523.9ZM511.5 447.22H517.7V451.10H511.5ZM530.1 447.22H542.5V451.10H530.1ZM492.9 454.98H499.1V458.86H492.9ZM548.7 466.62H554.9V470.50H548.7ZM530.1 482.15H536.3V486.03H530.1ZM530.1 486.03H536.3V489.91H530.1ZM536.3 493.79H542.5V497.67H536.3ZM536.3 501.55H542.5V505.43H536.3ZM554.9 501.55H561.1V505.43H554.9ZM618.9 70.76H625.1V74.64H618.9ZM625.1 78.52H631.3V82.40H625.1ZM625.1 86.29H631.3V90.17H625.1ZM606.5 125.10H612.7V128.98H606.5ZM606.5 128.98H612.7V132.86H606.5ZM600.3 136.74H606.5V140.62H600.3ZM637.5 136.74H643.7V140.62H637.5ZM649.9 140.62H656.1V144.50H649.9ZM612.7 175.55H618.9V179.43H612.7ZM649.9 175.55H656.1V179.43H649.9ZM594.1 179.43H606.5V183.31H594.1ZM618.9 179.43H625.1V183.31H618.9ZM600.3 191.07H606.5V194.95H600.3ZM612.7 198.83H625.1V202.72H612.7ZM612.7 202.72H618.9V206.60H612.7ZM643.7 202.72H656.1V206.60H643.7ZM612.7 206.60H618.9V210.48H612.7ZM643.7 206.60H656.1V210.48H643.7ZM581.7 210.48H625.1V214.36H581.7ZM631.3 210.48H656.1V214.36H631.3ZM594.1 218.24H600.3V222.12H594.1ZM569.3 222.12H581.7V226.00H569.3ZM587.9 222.12H600.3V226.00H587.9ZM606.5 222.12H618.9V226.00H606.5ZM575.5 226.00H581.7V229.88H575.5ZM587.9 226.00H594.1V229.88H587.9ZM575.5 229.88H581.7V233.76H575.5ZM631.3 229.88H649.9V233.76H631.3ZM594.1 233.76H600.3V237.64H594.1ZM612.7 233.76H618.9V237.64H612.7ZM631.3 233.76H637.5V237.64H631.3ZM575.5 237.64H587.9V241.53H575.5ZM600.3 237.64H606.5V241.53H600.3ZM625.1 237.64H656.1V241.53H625.1ZM569.3 268.69H656.1V272.57H569.3ZM587.9 272.57H600.3V276.45H587.9ZM587.9 276.45H600.3V280.34H587.9ZM575.5 280.34H587.9V284.22H575.5ZM594.1 280.34H656.1V284.22H594.1ZM569.3 284.22H656.1V288.10H569.3ZM569.3 288.10H656.1V291.98H569.3ZM600.3 295.86H606.5V299.74H600.3ZM649.9 295.86H656.1V299.74H649.9ZM643.7 299.74H649.9V303.62H643.7ZM569.3 303.62H656.1V307.50H569.3ZM569.3 307.50H656.1V311.38H569.3ZM569.3 311.38H656.1V315.26H569.3ZM600.3 315.26H606.5V319.15H600.3ZM612.7 315.26H631.3V319.15H612.7ZM637.5 315.26H643.7V319.15H637.5ZM649.9 315.26H656.1V319.15H649.9ZM569.3 319.15H656.1V323.03H569.3ZM569.3 323.03H656.1V326.91H569.3ZM569.3 326.91H656.1V330.79H569.3ZM575.5 330.79H594.1V334.67H575.5ZM612.7 330.79H631.3V334.67H612.7ZM637.5 330.79H656.1V334.67H637.5ZM575.5 334.67H581.7V338.55H575.5ZM569.3 338.55H600.3V342.43H569.3ZM606.5 338.55H656.1V342.43H606.5ZM575.5 342.43H600.3V346.31H575.5ZM606.5 342.43H656.1V346.31H606.5ZM569.3 346.31H600.3V350.19H569.3ZM606.5 346.31H656.1V350.19H606.5ZM625.1 350.19H631.3V354.07H625.1ZM637.5 350.19H643.7V354.07H637.5ZM587.9 354.07H594.1V357.96H587.9ZM618.9 354.07H625.1V357.96H618.9ZM637.5 354.07H643.7V357.96H637.5ZM569.3 357.96H581.7V361.84H569.3ZM587.9 357.96H594.1V361.84H587.9ZM643.7 357.96H649.9V361.84H643.7ZM569.3 361.84H575.5V365.72H569.3ZM631.3 361.84H637.5V365.72H631.3ZM606.5 373.48H612.7V377.36H606.5ZM649.9 373.48H656.1V377.36H649.9ZM569.3 377.36H575.5V381.24H569.3ZM587.9 377.36H594.1V381.24H587.9ZM612.7 377.36H618.9V381.24H612.7ZM637.5 377.36H643.7V381.24H637.5ZM612.7 381.24H625.1V385.12H612.7ZM637.5 381.24H643.7V385.12H637.5ZM569.3 385.12H575.5V389.00H569.3ZM612.7 385.12H618.9V389.00H612.7ZM643.7 385.12H649.9V389.00H643.7ZM575.5 389.00H581.7V392.88H575.5ZM612.7 389.00H618.9V392.88H612.7ZM575.5 392.88H581.7V396.77H575.5ZM606.5 392.88H612.7V396.77H606.5ZM631.3 392.88H643.7V396.77H631.3ZM594.1 396.77H600.3V400.65H594.1ZM606.5 396.77H625.1V400.65H606.5ZM643.7 396.77H656.1V400.65H643.7ZM643.7 400.65H649.9V404.53H643.7ZM612.7 404.53H618.9V408.41H612.7ZM612.7 408.41H618.9V412.29H612.7ZM643.7 408.41H649.9V412.29H643.7ZM594.1 412.29H600.3V416.17H594.1ZM612.7 412.29H618.9V416.17H612.7ZM581.7 416.17H587.9V420.05H581.7ZM606.5 416.17H618.9V420.05H606.5ZM569.3 423.93H587.9V427.81H569.3ZM637.5 423.93H649.9V427.81H637.5ZM643.7 427.81H656.1V431.69H643.7ZM631.3 431.69H637.5V435.58H631.3ZM643.7 431.69H649.9V435.58H643.7ZM625.1 435.58H631.3V439.46H625.1ZM581.7 443.34H587.9V447.22H581.7ZM649.9 447.22H656.1V451.10H649.9ZM575.5 451.10H581.7V454.98H575.5ZM625.1 451.10H631.3V454.98H625.1ZM600.3 454.98H606.5V458.86H600.3ZM612.7 454.98H618.9V458.86H612.7ZM631.3 454.98H637.5V458.86H631.3ZM575.5 458.86H587.9V462.74H575.5ZM600.3 458.86H606.5V462.74H600.3ZM618.9 458.86H625.1V462.74H618.9ZM587.9 466.62H594.1V470.50H587.9ZM600.3 466.62H606.5V470.50H600.3ZM625.1 466.62H631.3V470.50H625.1ZM569.3 478.27H575.5V482.15H569.3ZM618.9 478.27H625.1V482.15H618.9ZM637.5 478.27H643.7V482.15H637.5ZM575.5 482.15H581.7V486.03H575.5ZM594.1 482.15H600.3V486.03H594.1ZM606.5 482.15H618.9V486.03H606.5ZM606.5 486.03H612.7V489.91H606.5ZM606.5 489.91H618.9V493.79H606.5ZM625.1 489.91H631.3V493.79H625.1ZM587.9 493.79H594.1V497.67H587.9ZM649.9 493.79H656.1V497.67H649.9ZM587.9 501.55H594.1V505.43H587.9ZM637.5 501.55H643.7V505.43H637.5ZM658.2 86.29H664.4V90.17H658.2ZM670.6 86.29H676.8V90.17H670.6ZM670.6 229.88H676.8V233.76H670.6ZM670.6 233.76H676.8V237.64H670.6ZM658.2 237.64H664.4V241.53H658.2ZM658.2 268.69H664.4V272.57H658.2ZM670.6 268.69H676.8V272.57H670.6ZM658.2 276.45H676.8V280.34H658.2ZM658.2 280.34H670.6V284.22H658.2ZM658.2 284.22H676.8V288.10H658.2ZM658.2 288.10H676.8V291.98H658.2ZM658.2 299.74H664.4V303.62H658.2ZM658.2 303.62H676.8V307.50H658.2ZM664.4 307.50H676.8V311.38H664.4ZM658.2 311.38H670.6V315.26H658.2ZM658.2 315.26H664.4V319.15H658.2ZM658.2 319.15H664.4V323.03H658.2ZM670.6 319.15H676.8V323.03H670.6ZM658.2 323.03H664.4V326.91H658.2ZM670.6 323.03H676.8V326.91H670.6ZM658.2 326.91H664.4V330.79H658.2ZM658.2 338.55H676.8V342.43H658.2ZM664.4 342.43H676.8V346.31H664.4ZM664.4 346.31H676.8V350.19H664.4ZM658.2 350.19H664.4V354.07H658.2ZM670.6 354.07H676.8V357.96H670.6ZM670.6 357.96H676.8V361.84H670.6ZM664.4 373.48H670.6V377.36H664.4ZM664.4 377.36H670.6V381.24H664.4ZM664.4 427.81H670.6V431.69H664.4ZM670.6 431.69H676.8V435.58H670.6ZM670.6 439.46H676.8V443.34H670.6ZM664.4 447.22H670.6V451.10H664.4ZM670.6 454.98H676.8V458.86H670.6ZM658.2 458.86H670.6V462.74H658.2ZM670.6 462.74H676.8V466.62H670.6ZM670.6 466.62H676.8V470.50H670.6Z"/><path fill="#c3c6e8" d="M345.9 70.76H352.1V74.64H345.9ZM358.3 70.76H370.7V74.64H358.3ZM389.3 70.76H395.5V74.64H389.3ZM339.7 74.64H352.1V78.52H339.7ZM358.3 74.64H370.7V78.52H358.3ZM339.7 90.17H345.9V94.05H339.7ZM358.3 94.05H364.5V97.93H358.3ZM383.1 94.05H395.5V97.93H383.1ZM345.9 97.93H395.5V101.81H345.9ZM345.9 101.81H370.7V105.69H345.9ZM383.1 101.81H395.5V105.69H383.1ZM339.7 105.69H352.1V109.57H339.7ZM389.3 105.69H395.5V109.57H389.3ZM339.7 109.57H370.7V113.45H339.7ZM376.9 109.57H383.1V113.45H376.9ZM389.3 109.57H395.5V113.45H389.3ZM339.7 113.45H345.9V117.33H339.7ZM364.5 113.45H370.7V117.33H364.5ZM389.3 113.45H395.5V117.33H389.3ZM364.5 117.33H389.3V121.21H364.5ZM358.3 121.21H370.7V125.10H358.3ZM339.7 125.10H345.9V128.98H339.7ZM358.3 125.10H370.7V128.98H358.3ZM376.9 125.10H383.1V128.98H376.9ZM376.9 128.98H383.1V132.86H376.9ZM389.3 128.98H395.5V132.86H389.3ZM345.9 132.86H352.1V136.74H345.9ZM376.9 132.86H389.3V136.74H376.9ZM383.1 144.50H395.5V148.38H383.1ZM339.7 167.79H352.1V171.67H339.7ZM376.9 167.79H383.1V171.67H376.9ZM339.7 175.55H345.9V179.43H339.7ZM358.3 175.55H370.7V179.43H358.3ZM389.3 175.55H395.5V179.43H389.3ZM339.7 179.43H345.9V183.31H339.7ZM352.1 179.43H370.7V183.31H352.1ZM383.1 179.43H395.5V183.31H383.1ZM345.9 183.31H358.3V187.19H345.9ZM370.7 183.31H376.9V187.19H370.7ZM383.1 183.31H395.5V187.19H383.1ZM339.7 187.19H352.1V191.07H339.7ZM358.3 187.19H364.5V191.07H358.3ZM389.3 187.19H395.5V191.07H389.3ZM339.7 191.07H370.7V194.95H339.7ZM383.1 191.07H395.5V194.95H383.1ZM358.3 194.95H364.5V198.83H358.3ZM358.3 198.83H364.5V202.72H358.3ZM364.5 202.72H370.7V206.60H364.5ZM339.7 206.60H345.9V210.48H339.7ZM358.3 206.60H370.7V210.48H358.3ZM339.7 268.69H345.9V272.57H339.7ZM352.1 268.69H358.3V272.57H352.1ZM376.9 268.69H383.1V272.57H376.9ZM339.7 272.57H345.9V276.45H339.7ZM352.1 272.57H358.3V276.45H352.1ZM376.9 272.57H383.1V276.45H376.9ZM376.9 385.12H383.1V389.00H376.9ZM358.3 392.88H370.7V396.77H358.3ZM376.9 427.81H383.1V431.69H376.9ZM358.3 431.69H370.7V435.58H358.3ZM358.3 435.58H370.7V439.46H358.3ZM339.7 447.22H345.9V451.10H339.7ZM383.1 447.22H389.3V451.10H383.1ZM339.7 474.39H352.1V478.27H339.7ZM358.3 474.39H364.5V478.27H358.3ZM339.7 478.27H345.9V482.15H339.7ZM339.7 482.15H345.9V486.03H339.7ZM364.5 482.15H370.7V486.03H364.5ZM358.3 486.03H364.5V489.91H358.3ZM376.9 486.03H383.1V489.91H376.9ZM376.9 489.91H383.1V493.79H376.9ZM389.3 489.91H395.5V493.79H389.3ZM358.3 493.79H364.5V497.67H358.3ZM376.9 493.79H383.1V497.67H376.9ZM364.5 497.67H370.7V501.55H364.5ZM410.1 66.88H422.5V70.76H410.1ZM410.1 70.76H422.5V74.64H410.1ZM459.7 70.76H465.9V74.64H459.7ZM410.1 74.64H416.3V78.52H410.1ZM422.5 74.64H428.7V78.52H422.5ZM441.1 78.52H447.3V82.40H441.1ZM416.3 90.17H422.5V94.05H416.3ZM410.1 94.05H428.7V97.93H410.1ZM434.9 94.05H447.3V97.93H434.9ZM465.9 94.05H478.3V97.93H465.9ZM397.7 97.93H484.5V101.81H397.7ZM397.7 101.81H434.9V105.69H397.7ZM441.1 101.81H484.5V105.69H441.1ZM397.7 105.69H403.9V109.57H397.7ZM416.3 105.69H434.9V109.57H416.3ZM441.1 105.69H447.3V109.57H441.1ZM472.1 105.69H478.3V109.57H472.1ZM397.7 109.57H416.3V113.45H397.7ZM422.5 109.57H434.9V113.45H422.5ZM441.1 109.57H459.7V113.45H441.1ZM465.9 109.57H484.5V113.45H465.9ZM410.1 113.45H422.5V117.33H410.1ZM428.7 113.45H434.9V117.33H428.7ZM453.5 113.45H459.7V117.33H453.5ZM422.5 117.33H434.9V121.21H422.5ZM459.7 117.33H478.3V121.21H459.7ZM428.7 121.21H434.9V125.10H428.7ZM441.1 121.21H447.3V125.10H441.1ZM459.7 121.21H465.9V125.10H459.7ZM472.1 121.21H478.3V125.10H472.1ZM422.5 125.10H434.9V128.98H422.5ZM428.7 128.98H434.9V132.86H428.7ZM428.7 132.86H434.9V136.74H428.7ZM428.7 144.50H434.9V148.38H428.7ZM441.1 144.50H484.5V148.38H441.1ZM428.7 175.55H434.9V179.43H428.7ZM441.1 175.55H453.5V179.43H441.1ZM459.7 175.55H465.9V179.43H459.7ZM472.1 175.55H484.5V179.43H472.1ZM403.9 179.43H428.7V183.31H403.9ZM453.5 179.43H478.3V183.31H453.5ZM403.9 183.31H410.1V187.19H403.9ZM428.7 183.31H434.9V187.19H428.7ZM478.3 183.31H484.5V187.19H478.3ZM397.7 187.19H410.1V191.07H397.7ZM447.3 187.19H459.7V191.07H447.3ZM465.9 187.19H472.1V191.07H465.9ZM478.3 187.19H484.5V191.07H478.3ZM397.7 191.07H428.7V194.95H397.7ZM441.1 191.07H484.5V194.95H441.1ZM422.5 194.95H428.7V198.83H422.5ZM422.5 202.72H428.7V206.60H422.5ZM472.1 202.72H478.3V206.60H472.1ZM410.1 206.60H416.3V210.48H410.1ZM428.7 206.60H434.9V210.48H428.7ZM447.3 206.60H453.5V210.48H447.3ZM397.7 218.24H403.9V222.12H397.7ZM434.9 229.88H441.1V233.76H434.9ZM410.1 392.88H416.3V396.77H410.1ZM422.5 392.88H428.7V396.77H422.5ZM422.5 416.17H428.7V420.05H422.5ZM472.1 416.17H478.3V420.05H472.1ZM416.3 431.69H422.5V435.58H416.3ZM472.1 431.69H478.3V435.58H472.1ZM422.5 435.58H428.7V439.46H422.5ZM447.3 443.34H453.5V447.22H447.3ZM403.9 447.22H410.1V451.10H403.9ZM416.3 447.22H422.5V451.10H416.3ZM453.5 447.22H459.7V451.10H453.5ZM472.1 451.10H478.3V454.98H472.1ZM447.3 474.39H453.5V478.27H447.3ZM410.1 482.15H416.3V486.03H410.1ZM447.3 482.15H453.5V486.03H447.3ZM465.9 482.15H472.1V486.03H465.9ZM428.7 486.03H434.9V489.91H428.7ZM447.3 486.03H453.5V489.91H447.3ZM472.1 486.03H478.3V489.91H472.1ZM410.1 489.91H416.3V493.79H410.1ZM478.3 489.91H484.5V493.79H478.3ZM422.5 493.79H428.7V497.67H422.5ZM422.5 497.67H428.7V501.55H422.5ZM472.1 497.67H478.3V501.55H472.1ZM422.5 501.55H428.7V505.43H422.5ZM472.1 501.55H478.3V505.43H472.1ZM492.9 66.88H499.1V70.76H492.9ZM511.5 66.88H530.1V70.76H511.5ZM561.1 66.88H567.3V70.76H561.1ZM492.9 70.76H499.1V74.64H492.9ZM530.1 70.76H536.3V74.64H530.1ZM548.7 70.76H554.9V74.64H548.7ZM486.7 78.52H499.1V82.40H486.7ZM505.3 78.52H511.5V82.40H505.3ZM542.5 78.52H554.9V82.40H542.5ZM561.1 78.52H567.3V82.40H561.1ZM548.7 90.17H554.9V94.05H548.7ZM486.7 94.05H492.9V97.93H486.7ZM517.7 121.21H523.9V125.10H517.7ZM530.1 125.10H536.3V128.98H530.1ZM561.1 125.10H567.3V128.98H561.1ZM517.7 132.86H523.9V136.74H517.7ZM530.1 132.86H536.3V136.74H530.1ZM554.9 132.86H567.3V136.74H554.9ZM505.3 136.74H536.3V140.62H505.3ZM542.5 136.74H567.3V140.62H542.5ZM492.9 167.79H499.1V171.67H492.9ZM517.7 167.79H523.9V171.67H517.7ZM548.7 167.79H554.9V171.67H548.7ZM517.7 194.95H523.9V198.83H517.7ZM530.1 194.95H536.3V198.83H530.1ZM505.3 198.83H511.5V202.72H505.3ZM542.5 198.83H548.7V202.72H542.5ZM542.5 202.72H548.7V206.60H542.5ZM505.3 206.60H511.5V210.48H505.3ZM523.9 206.60H530.1V210.48H523.9ZM542.5 218.24H548.7V222.12H542.5ZM530.1 222.12H536.3V226.00H530.1ZM554.9 222.12H561.1V226.00H554.9ZM486.7 226.00H492.9V229.88H486.7ZM554.9 226.00H561.1V229.88H554.9ZM492.9 229.88H499.1V233.76H492.9ZM517.7 229.88H523.9V233.76H517.7ZM536.3 229.88H542.5V233.76H536.3ZM554.9 229.88H567.3V233.76H554.9ZM486.7 233.76H492.9V237.64H486.7ZM517.7 233.76H523.9V237.64H517.7ZM536.3 233.76H548.7V237.64H536.3ZM561.1 233.76H567.3V237.64H561.1ZM511.5 237.64H517.7V241.53H511.5ZM542.5 237.64H548.7V241.53H542.5ZM486.7 272.57H492.9V276.45H486.7ZM505.3 272.57H511.5V276.45H505.3ZM517.7 272.57H523.9V276.45H517.7ZM530.1 272.57H536.3V276.45H530.1ZM542.5 272.57H548.7V276.45H542.5ZM561.1 272.57H567.3V276.45H561.1ZM492.9 276.45H499.1V280.34H492.9ZM505.3 276.45H511.5V280.34H505.3ZM517.7 276.45H536.3V280.34H517.7ZM554.9 276.45H567.3V280.34H554.9ZM523.9 280.34H542.5V284.22H523.9ZM554.9 280.34H561.1V284.22H554.9ZM486.7 291.98H492.9V295.86H486.7ZM499.1 291.98H511.5V295.86H499.1ZM517.7 291.98H567.3V295.86H517.7ZM486.7 295.86H492.9V299.74H486.7ZM499.1 295.86H511.5V299.74H499.1ZM517.7 295.86H530.1V299.74H517.7ZM536.3 295.86H548.7V299.74H536.3ZM505.3 299.74H511.5V303.62H505.3ZM517.7 299.74H530.1V303.62H517.7ZM536.3 299.74H567.3V303.62H536.3ZM486.7 315.26H492.9V319.15H486.7ZM523.9 315.26H554.9V319.15H523.9ZM517.7 330.79H523.9V334.67H517.7ZM548.7 330.79H554.9V334.67H548.7ZM561.1 330.79H567.3V334.67H561.1ZM492.9 334.67H499.1V338.55H492.9ZM505.3 334.67H511.5V338.55H505.3ZM517.7 334.67H530.1V338.55H517.7ZM542.5 334.67H548.7V338.55H542.5ZM486.7 350.19H492.9V354.07H486.7ZM530.1 350.19H536.3V354.07H530.1ZM554.9 350.19H561.1V354.07H554.9ZM505.3 354.07H511.5V357.96H505.3ZM517.7 354.07H542.5V357.96H517.7ZM517.7 357.96H523.9V361.84H517.7ZM530.1 357.96H542.5V361.84H530.1ZM548.7 357.96H554.9V361.84H548.7ZM561.1 357.96H567.3V361.84H561.1ZM486.7 361.84H492.9V365.72H486.7ZM499.1 361.84H505.3V365.72H499.1ZM523.9 361.84H536.3V365.72H523.9ZM542.5 361.84H554.9V365.72H542.5ZM561.1 361.84H567.3V365.72H561.1ZM486.7 365.72H492.9V369.60H486.7ZM505.3 365.72H511.5V369.60H505.3ZM523.9 365.72H530.1V369.60H523.9ZM486.7 369.60H492.9V373.48H486.7ZM530.1 369.60H542.5V373.48H530.1ZM548.7 369.60H554.9V373.48H548.7ZM561.1 369.60H567.3V373.48H561.1ZM486.7 373.48H492.9V377.36H486.7ZM517.7 373.48H523.9V377.36H517.7ZM548.7 373.48H554.9V377.36H548.7ZM492.9 377.36H505.3V381.24H492.9ZM530.1 377.36H542.5V381.24H530.1ZM548.7 377.36H554.9V381.24H548.7ZM492.9 381.24H499.1V385.12H492.9ZM505.3 381.24H511.5V385.12H505.3ZM536.3 381.24H542.5V385.12H536.3ZM548.7 381.24H554.9V385.12H548.7ZM505.3 385.12H511.5V389.00H505.3ZM548.7 385.12H561.1V389.00H548.7ZM486.7 389.00H492.9V392.88H486.7ZM505.3 389.00H511.5V392.88H505.3ZM548.7 389.00H554.9V392.88H548.7ZM505.3 392.88H511.5V396.77H505.3ZM486.7 396.77H492.9V400.65H486.7ZM561.1 396.77H567.3V400.65H561.1ZM492.9 400.65H505.3V404.53H492.9ZM523.9 400.65H536.3V404.53H523.9ZM554.9 400.65H561.1V404.53H554.9ZM499.1 404.53H505.3V408.41H499.1ZM554.9 404.53H561.1V408.41H554.9ZM499.1 408.41H505.3V412.29H499.1ZM517.7 408.41H523.9V412.29H517.7ZM530.1 408.41H536.3V412.29H530.1ZM486.7 412.29H492.9V416.17H486.7ZM517.7 412.29H523.9V416.17H517.7ZM530.1 412.29H542.5V416.17H530.1ZM554.9 412.29H567.3V416.17H554.9ZM505.3 416.17H511.5V420.05H505.3ZM517.7 416.17H523.9V420.05H517.7ZM530.1 416.17H536.3V420.05H530.1ZM554.9 416.17H561.1V420.05H554.9ZM511.5 420.05H517.7V423.93H511.5ZM511.5 431.69H517.7V435.58H511.5ZM530.1 439.46H536.3V443.34H530.1ZM486.7 447.22H505.3V451.10H486.7ZM486.7 454.98H492.9V458.86H486.7ZM536.3 454.98H542.5V458.86H536.3ZM486.7 458.86H499.1V462.74H486.7ZM536.3 458.86H542.5V462.74H536.3ZM536.3 466.62H542.5V470.50H536.3ZM581.7 66.88H587.9V70.76H581.7ZM581.7 94.05H587.9V97.93H581.7ZM643.7 113.45H649.9V117.33H643.7ZM575.5 121.21H581.7V125.10H575.5ZM612.7 132.86H625.1V136.74H612.7ZM637.5 132.86H656.1V136.74H637.5ZM612.7 136.74H625.1V140.62H612.7ZM643.7 136.74H656.1V140.62H643.7ZM612.7 140.62H625.1V144.50H612.7ZM643.7 140.62H649.9V144.50H643.7ZM612.7 144.50H625.1V148.38H612.7ZM643.7 144.50H656.1V148.38H643.7ZM618.9 175.55H625.1V179.43H618.9ZM643.7 175.55H649.9V179.43H643.7ZM594.1 194.95H600.3V198.83H594.1ZM618.9 194.95H625.1V198.83H618.9ZM618.9 202.72H625.1V206.60H618.9ZM581.7 218.24H587.9V222.12H581.7ZM606.5 218.24H612.7V222.12H606.5ZM581.7 222.12H587.9V226.00H581.7ZM600.3 222.12H606.5V226.00H600.3ZM618.9 222.12H625.1V226.00H618.9ZM631.3 222.12H656.1V226.00H631.3ZM594.1 226.00H625.1V229.88H594.1ZM631.3 226.00H656.1V229.88H631.3ZM625.1 229.88H631.3V233.76H625.1ZM569.3 233.76H594.1V237.64H569.3ZM606.5 233.76H612.7V237.64H606.5ZM625.1 233.76H631.3V237.64H625.1ZM637.5 233.76H656.1V237.64H637.5ZM569.3 237.64H575.5V241.53H569.3ZM587.9 237.64H594.1V241.53H587.9ZM606.5 237.64H618.9V241.53H606.5ZM569.3 272.57H587.9V276.45H569.3ZM612.7 272.57H618.9V276.45H612.7ZM631.3 272.57H656.1V276.45H631.3ZM569.3 276.45H587.9V280.34H569.3ZM600.3 276.45H625.1V280.34H600.3ZM631.3 276.45H656.1V280.34H631.3ZM587.9 280.34H594.1V284.22H587.9ZM569.3 291.98H656.1V295.86H569.3ZM569.3 295.86H600.3V299.74H569.3ZM606.5 295.86H649.9V299.74H606.5ZM569.3 299.74H600.3V303.62H569.3ZM606.5 299.74H643.7V303.62H606.5ZM649.9 299.74H656.1V303.62H649.9ZM569.3 315.26H581.7V319.15H569.3ZM587.9 315.26H600.3V319.15H587.9ZM606.5 315.26H612.7V319.15H606.5ZM631.3 315.26H637.5V319.15H631.3ZM606.5 330.79H612.7V334.67H606.5ZM569.3 334.67H575.5V338.55H569.3ZM581.7 334.67H600.3V338.55H581.7ZM612.7 334.67H625.1V338.55H612.7ZM631.3 334.67H656.1V338.55H631.3ZM569.3 350.19H587.9V354.07H569.3ZM594.1 350.19H618.9V354.07H594.1ZM631.3 350.19H637.5V354.07H631.3ZM569.3 354.07H587.9V357.96H569.3ZM600.3 354.07H606.5V357.96H600.3ZM612.7 354.07H618.9V357.96H612.7ZM631.3 354.07H637.5V357.96H631.3ZM649.9 354.07H656.1V357.96H649.9ZM581.7 357.96H587.9V361.84H581.7ZM594.1 357.96H612.7V361.84H594.1ZM618.9 357.96H625.1V361.84H618.9ZM631.3 357.96H643.7V361.84H631.3ZM649.9 357.96H656.1V361.84H649.9ZM575.5 361.84H581.7V365.72H575.5ZM594.1 361.84H600.3V365.72H594.1ZM612.7 361.84H625.1V365.72H612.7ZM637.5 361.84H649.9V365.72H637.5ZM587.9 365.72H600.3V369.60H587.9ZM612.7 365.72H625.1V369.60H612.7ZM637.5 365.72H643.7V369.60H637.5ZM569.3 369.60H581.7V373.48H569.3ZM618.9 369.60H625.1V373.48H618.9ZM643.7 369.60H656.1V373.48H643.7ZM587.9 373.48H594.1V377.36H587.9ZM612.7 373.48H618.9V377.36H612.7ZM643.7 373.48H649.9V377.36H643.7ZM575.5 377.36H581.7V381.24H575.5ZM606.5 377.36H612.7V381.24H606.5ZM625.1 377.36H631.3V381.24H625.1ZM606.5 381.24H612.7V385.12H606.5ZM625.1 381.24H631.3V385.12H625.1ZM606.5 385.12H612.7V389.00H606.5ZM569.3 392.88H575.5V396.77H569.3ZM569.3 396.77H575.5V400.65H569.3ZM612.7 400.65H625.1V404.53H612.7ZM587.9 404.53H594.1V408.41H587.9ZM637.5 404.53H643.7V408.41H637.5ZM587.9 412.29H594.1V416.17H587.9ZM594.1 416.17H600.3V420.05H594.1ZM618.9 416.17H625.1V420.05H618.9ZM569.3 420.05H600.3V423.93H569.3ZM606.5 420.05H625.1V423.93H606.5ZM631.3 420.05H643.7V423.93H631.3ZM649.9 420.05H656.1V423.93H649.9ZM587.9 423.93H594.1V427.81H587.9ZM600.3 423.93H618.9V427.81H600.3ZM631.3 423.93H637.5V427.81H631.3ZM649.9 423.93H656.1V427.81H649.9ZM569.3 427.81H581.7V431.69H569.3ZM587.9 427.81H594.1V431.69H587.9ZM612.7 427.81H618.9V431.69H612.7ZM637.5 427.81H643.7V431.69H637.5ZM575.5 431.69H581.7V435.58H575.5ZM637.5 431.69H643.7V435.58H637.5ZM569.3 435.58H575.5V439.46H569.3ZM581.7 435.58H587.9V439.46H581.7ZM594.1 435.58H600.3V439.46H594.1ZM612.7 435.58H625.1V439.46H612.7ZM631.3 435.58H637.5V439.46H631.3ZM569.3 439.46H581.7V443.34H569.3ZM587.9 439.46H594.1V443.34H587.9ZM631.3 439.46H637.5V443.34H631.3ZM569.3 443.34H581.7V447.22H569.3ZM594.1 443.34H643.7V447.22H594.1ZM649.9 443.34H656.1V447.22H649.9ZM569.3 447.22H575.5V451.10H569.3ZM587.9 447.22H600.3V451.10H587.9ZM606.5 447.22H631.3V451.10H606.5ZM637.5 447.22H649.9V451.10H637.5ZM569.3 451.10H575.5V454.98H569.3ZM581.7 451.10H594.1V454.98H581.7ZM606.5 451.10H618.9V454.98H606.5ZM637.5 451.10H656.1V454.98H637.5ZM581.7 454.98H600.3V458.86H581.7ZM618.9 454.98H625.1V458.86H618.9ZM637.5 454.98H643.7V458.86H637.5ZM649.9 454.98H656.1V458.86H649.9ZM569.3 458.86H575.5V462.74H569.3ZM587.9 458.86H600.3V462.74H587.9ZM606.5 458.86H618.9V462.74H606.5ZM625.1 458.86H656.1V462.74H625.1ZM569.3 462.74H594.1V466.62H569.3ZM600.3 462.74H618.9V466.62H600.3ZM631.3 462.74H637.5V466.62H631.3ZM569.3 466.62H575.5V470.50H569.3ZM581.7 466.62H587.9V470.50H581.7ZM612.7 466.62H625.1V470.50H612.7ZM631.3 466.62H637.5V470.50H631.3ZM649.9 466.62H656.1V470.50H649.9ZM612.7 478.27H618.9V482.15H612.7ZM618.9 482.15H625.1V486.03H618.9ZM612.7 486.03H625.1V489.91H612.7ZM643.7 486.03H656.1V489.91H643.7ZM569.3 493.79H575.5V497.67H569.3ZM612.7 493.79H618.9V497.67H612.7ZM637.5 493.79H643.7V497.67H637.5ZM606.5 501.55H612.7V505.43H606.5ZM643.7 501.55H649.9V505.43H643.7ZM664.4 78.52H670.6V82.40H664.4ZM664.4 90.17H670.6V94.05H664.4ZM664.4 97.93H670.6V101.81H664.4ZM664.4 229.88H670.6V233.76H664.4ZM658.2 233.76H664.4V237.64H658.2ZM670.6 237.64H676.8V241.53H670.6ZM670.6 280.34H676.8V284.22H670.6ZM658.2 291.98H670.6V295.86H658.2ZM658.2 295.86H676.8V299.74H658.2ZM664.4 299.74H676.8V303.62H664.4ZM670.6 369.60H676.8V373.48H670.6ZM658.2 443.34H664.4V447.22H658.2ZM670.6 443.34H676.8V447.22H670.6ZM658.2 447.22H664.4V451.10H658.2ZM670.6 447.22H676.8V451.10H670.6ZM658.2 451.10H664.4V454.98H658.2ZM670.6 451.10H676.8V454.98H670.6ZM658.2 454.98H664.4V458.86H658.2ZM670.6 458.86H676.8V462.74H670.6ZM658.2 501.55H664.4V505.43H658.2Z"/><path fill="#a9afdd" d="M352.1 74.64H358.3V78.52H352.1ZM370.7 78.52H376.9V82.40H370.7ZM383.1 78.52H389.3V82.40H383.1ZM345.9 90.17H352.1V94.05H345.9ZM370.7 90.17H376.9V94.05H370.7ZM383.1 90.17H395.5V94.05H383.1ZM364.5 105.69H370.7V109.57H364.5ZM376.9 113.45H383.1V117.33H376.9ZM389.3 117.33H395.5V121.21H389.3ZM389.3 121.21H395.5V125.10H389.3ZM383.1 128.98H389.3V132.86H383.1ZM376.9 183.31H383.1V187.19H376.9ZM339.7 194.95H345.9V198.83H339.7ZM364.5 198.83H370.7V202.72H364.5ZM376.9 206.60H383.1V210.48H376.9ZM339.7 218.24H345.9V222.12H339.7ZM376.9 218.24H383.1V222.12H376.9ZM339.7 400.65H345.9V404.53H339.7ZM339.7 423.93H345.9V427.81H339.7ZM376.9 423.93H383.1V427.81H376.9ZM339.7 427.81H345.9V431.69H339.7ZM364.5 443.34H370.7V447.22H364.5ZM358.3 482.15H364.5V486.03H358.3ZM376.9 482.15H383.1V486.03H376.9ZM364.5 486.03H370.7V489.91H364.5ZM389.3 486.03H395.5V489.91H389.3ZM358.3 489.91H364.5V493.79H358.3ZM364.5 493.79H370.7V497.67H364.5ZM339.7 501.55H345.9V505.43H339.7ZM416.3 74.64H422.5V78.52H416.3ZM434.9 90.17H441.1V94.05H434.9ZM453.5 90.17H465.9V94.05H453.5ZM403.9 94.05H410.1V97.93H403.9ZM410.1 105.69H416.3V109.57H410.1ZM447.3 105.69H453.5V109.57H447.3ZM478.3 105.69H484.5V109.57H478.3ZM422.5 113.45H428.7V117.33H422.5ZM465.9 113.45H472.1V117.33H465.9ZM441.1 117.33H459.7V121.21H441.1ZM478.3 117.33H484.5V121.21H478.3ZM447.3 121.21H453.5V125.10H447.3ZM478.3 121.21H484.5V125.10H478.3ZM447.3 125.10H453.5V128.98H447.3ZM472.1 125.10H478.3V128.98H472.1ZM453.5 128.98H459.7V132.86H453.5ZM422.5 198.83H428.7V202.72H422.5ZM447.3 198.83H453.5V202.72H447.3ZM422.5 206.60H428.7V210.48H422.5ZM472.1 206.60H478.3V210.48H472.1ZM447.3 427.81H453.5V431.69H447.3ZM472.1 427.81H478.3V431.69H472.1ZM422.5 443.34H428.7V447.22H422.5ZM472.1 443.34H478.3V447.22H472.1ZM422.5 474.39H428.7V478.27H422.5ZM422.5 478.27H428.7V482.15H422.5ZM447.3 478.27H453.5V482.15H447.3ZM472.1 478.27H478.3V482.15H472.1ZM422.5 482.15H428.7V486.03H422.5ZM472.1 482.15H478.3V486.03H472.1ZM422.5 486.03H428.7V489.91H422.5ZM422.5 489.91H428.7V493.79H422.5ZM447.3 489.91H453.5V493.79H447.3ZM472.1 489.91H478.3V493.79H472.1ZM447.3 493.79H453.5V497.67H447.3ZM472.1 493.79H478.3V497.67H472.1ZM499.1 66.88H505.3V70.76H499.1ZM517.7 78.52H523.9V82.40H517.7ZM499.1 94.05H505.3V97.93H499.1ZM530.1 128.98H536.3V132.86H530.1ZM505.3 194.95H511.5V198.83H505.3ZM517.7 198.83H523.9V202.72H517.7ZM505.3 202.72H511.5V206.60H505.3ZM517.7 202.72H530.1V206.60H517.7ZM554.9 202.72H561.1V206.60H554.9ZM517.7 218.24H523.9V222.12H517.7ZM517.7 361.84H523.9V365.72H517.7ZM554.9 361.84H561.1V365.72H554.9ZM530.1 365.72H536.3V369.60H530.1ZM554.9 365.72H561.1V369.60H554.9ZM505.3 373.48H511.5V377.36H505.3ZM523.9 373.48H530.1V377.36H523.9ZM505.3 377.36H511.5V381.24H505.3ZM517.7 377.36H530.1V381.24H517.7ZM561.1 377.36H567.3V381.24H561.1ZM530.1 381.24H536.3V385.12H530.1ZM561.1 381.24H567.3V385.12H561.1ZM499.1 385.12H505.3V389.00H499.1ZM561.1 385.12H567.3V389.00H561.1ZM517.7 389.00H523.9V392.88H517.7ZM530.1 389.00H536.3V392.88H530.1ZM486.7 400.65H492.9V404.53H486.7ZM486.7 404.53H492.9V408.41H486.7ZM523.9 408.41H530.1V412.29H523.9ZM554.9 408.41H561.1V412.29H554.9ZM499.1 412.29H505.3V416.17H499.1ZM523.9 416.17H530.1V420.05H523.9ZM486.7 420.05H492.9V423.93H486.7ZM530.1 478.27H536.3V482.15H530.1ZM486.7 497.67H492.9V501.55H486.7ZM486.7 501.55H492.9V505.43H486.7ZM530.1 501.55H536.3V505.43H530.1ZM606.5 121.21H612.7V125.10H606.5ZM600.3 187.19H606.5V191.07H600.3ZM569.3 194.95H575.5V198.83H569.3ZM581.7 226.00H587.9V229.88H581.7ZM569.3 229.88H575.5V233.76H569.3ZM606.5 229.88H612.7V233.76H606.5ZM587.9 350.19H594.1V354.07H587.9ZM618.9 350.19H625.1V354.07H618.9ZM643.7 350.19H656.1V354.07H643.7ZM606.5 354.07H612.7V357.96H606.5ZM606.5 361.84H612.7V365.72H606.5ZM569.3 365.72H581.7V369.60H569.3ZM643.7 365.72H649.9V369.60H643.7ZM612.7 369.60H618.9V373.48H612.7ZM637.5 369.60H643.7V373.48H637.5ZM569.3 389.00H575.5V392.88H569.3ZM606.5 389.00H612.7V392.88H606.5ZM569.3 400.65H581.7V404.53H569.3ZM606.5 400.65H612.7V404.53H606.5ZM575.5 404.53H581.7V408.41H575.5ZM569.3 408.41H581.7V412.29H569.3ZM569.3 412.29H581.7V416.17H569.3ZM600.3 420.05H606.5V423.93H600.3ZM594.1 423.93H600.3V427.81H594.1ZM618.9 423.93H625.1V427.81H618.9ZM606.5 427.81H612.7V431.69H606.5ZM618.9 427.81H625.1V431.69H618.9ZM581.7 431.69H594.1V435.58H581.7ZM600.3 431.69H606.5V435.58H600.3ZM618.9 431.69H625.1V435.58H618.9ZM587.9 435.58H594.1V439.46H587.9ZM600.3 435.58H612.7V439.46H600.3ZM637.5 435.58H649.9V439.46H637.5ZM581.7 439.46H587.9V443.34H581.7ZM594.1 439.46H612.7V443.34H594.1ZM637.5 439.46H649.9V443.34H637.5ZM643.7 443.34H649.9V447.22H643.7ZM575.5 447.22H587.9V451.10H575.5ZM600.3 447.22H606.5V451.10H600.3ZM594.1 451.10H600.3V454.98H594.1ZM618.9 451.10H625.1V454.98H618.9ZM569.3 454.98H581.7V458.86H569.3ZM625.1 454.98H631.3V458.86H625.1ZM594.1 462.74H600.3V466.62H594.1ZM618.9 462.74H625.1V466.62H618.9ZM637.5 462.74H656.1V466.62H637.5ZM575.5 466.62H581.7V470.50H575.5ZM594.1 466.62H600.3V470.50H594.1ZM606.5 466.62H612.7V470.50H606.5ZM637.5 466.62H649.9V470.50H637.5ZM606.5 478.27H612.7V482.15H606.5ZM606.5 493.79H612.7V497.67H606.5ZM569.3 501.55H581.7V505.43H569.3Z"/><path fill="#8a93d0" d="M358.3 105.69H364.5V109.57H358.3ZM339.7 183.31H345.9V187.19H339.7ZM364.5 474.39H370.7V478.27H364.5ZM376.9 474.39H383.1V478.27H376.9ZM364.5 478.27H370.7V482.15H364.5ZM364.5 489.91H370.7V493.79H364.5ZM447.3 113.45H453.5V117.33H447.3ZM472.1 113.45H478.3V117.33H472.1ZM472.1 198.83H478.3V202.72H472.1ZM472.1 474.39H478.3V478.27H472.1ZM397.7 497.67H403.9V501.55H397.7ZM486.7 194.95H492.9V198.83H486.7ZM530.1 202.72H536.3V206.60H530.1ZM511.5 218.24H517.7V222.12H511.5ZM511.5 373.48H517.7V377.36H511.5ZM530.1 373.48H536.3V377.36H530.1ZM554.9 373.48H561.1V377.36H554.9ZM517.7 381.24H530.1V385.12H517.7ZM517.7 385.12H536.3V389.00H517.7ZM523.9 389.00H530.1V392.88H523.9ZM536.3 404.53H542.5V408.41H536.3ZM523.9 412.29H530.1V416.17H523.9ZM643.7 128.98H649.9V132.86H643.7ZM600.3 218.24H606.5V222.12H600.3ZM606.5 365.72H612.7V369.60H606.5ZM606.5 369.60H612.7V373.48H606.5ZM569.3 404.53H575.5V408.41H569.3ZM606.5 408.41H612.7V412.29H606.5ZM606.5 412.29H612.7V416.17H606.5ZM594.1 431.69H600.3V435.58H594.1ZM612.7 439.46H625.1V443.34H612.7ZM649.9 439.46H656.1V443.34H649.9ZM600.3 451.10H606.5V454.98H600.3ZM606.5 454.98H612.7V458.86H606.5ZM569.3 497.67H575.5V501.55H569.3Z"/><path fill="#f4b2b5" d="M364.5 128.98H370.7V132.86H364.5ZM352.1 132.86H370.7V136.74H352.1ZM345.9 144.50H352.1V148.38H345.9ZM370.7 214.36H376.9V218.24H370.7ZM383.1 226.00H389.3V229.88H383.1ZM339.7 229.88H352.1V233.76H339.7ZM358.3 229.88H370.7V233.76H358.3ZM364.5 233.76H370.7V237.64H364.5ZM389.3 233.76H395.5V237.64H389.3ZM376.9 237.64H383.1V241.53H376.9ZM345.9 253.17H352.1V257.05H345.9ZM376.9 253.17H383.1V257.05H376.9ZM389.3 253.17H395.5V257.05H389.3ZM339.7 264.81H345.9V268.69H339.7ZM345.9 268.69H352.1V272.57H345.9ZM383.1 268.69H389.3V272.57H383.1ZM345.9 272.57H352.1V276.45H345.9ZM345.9 276.45H352.1V280.34H345.9ZM345.9 280.34H358.3V284.22H345.9ZM345.9 284.22H352.1V288.10H345.9ZM383.1 284.22H389.3V288.10H383.1ZM345.9 288.10H358.3V291.98H345.9ZM370.7 288.10H376.9V291.98H370.7ZM383.1 288.10H389.3V291.98H383.1ZM339.7 291.98H358.3V295.86H339.7ZM370.7 291.98H376.9V295.86H370.7ZM345.9 295.86H358.3V299.74H345.9ZM370.7 295.86H376.9V299.74H370.7ZM345.9 299.74H358.3V303.62H345.9ZM370.7 299.74H376.9V303.62H370.7ZM383.1 303.62H389.3V307.50H383.1ZM345.9 307.50H358.3V311.38H345.9ZM370.7 307.50H376.9V311.38H370.7ZM370.7 315.26H376.9V319.15H370.7ZM370.7 319.15H376.9V323.03H370.7ZM383.1 319.15H389.3V323.03H383.1ZM370.7 323.03H376.9V326.91H370.7ZM383.1 323.03H389.3V326.91H383.1ZM352.1 326.91H358.3V330.79H352.1ZM370.7 326.91H376.9V330.79H370.7ZM383.1 326.91H389.3V330.79H383.1ZM345.9 330.79H352.1V334.67H345.9ZM370.7 330.79H376.9V334.67H370.7ZM370.7 334.67H376.9V338.55H370.7ZM339.7 338.55H345.9V342.43H339.7ZM352.1 338.55H358.3V342.43H352.1ZM370.7 338.55H376.9V342.43H370.7ZM383.1 338.55H389.3V342.43H383.1ZM339.7 342.43H358.3V346.31H339.7ZM370.7 342.43H376.9V346.31H370.7ZM352.1 346.31H358.3V350.19H352.1ZM370.7 346.31H376.9V350.19H370.7ZM370.7 350.19H376.9V354.07H370.7ZM389.3 350.19H395.5V354.07H389.3ZM339.7 354.07H358.3V357.96H339.7ZM370.7 354.07H383.1V357.96H370.7ZM389.3 354.07H395.5V357.96H389.3ZM339.7 357.96H352.1V361.84H339.7ZM364.5 357.96H376.9V361.84H364.5ZM389.3 357.96H395.5V361.84H389.3ZM364.5 361.84H376.9V365.72H364.5ZM389.3 361.84H395.5V365.72H389.3ZM389.3 369.60H395.5V373.48H389.3ZM376.9 373.48H383.1V377.36H376.9ZM370.7 377.36H376.9V381.24H370.7ZM370.7 381.24H376.9V385.12H370.7ZM345.9 385.12H352.1V389.00H345.9ZM370.7 385.12H376.9V389.00H370.7ZM345.9 389.00H352.1V392.88H345.9ZM370.7 389.00H376.9V392.88H370.7ZM389.3 400.65H395.5V404.53H389.3ZM389.3 404.53H395.5V408.41H389.3ZM364.5 408.41H370.7V412.29H364.5ZM389.3 408.41H395.5V412.29H389.3ZM364.5 412.29H370.7V416.17H364.5ZM370.7 416.17H376.9V420.05H370.7ZM383.1 416.17H395.5V420.05H383.1ZM370.7 420.05H376.9V423.93H370.7ZM383.1 420.05H395.5V423.93H383.1ZM339.7 435.58H345.9V439.46H339.7ZM370.7 439.46H376.9V443.34H370.7ZM370.7 443.34H376.9V447.22H370.7ZM376.9 447.22H383.1V451.10H376.9ZM339.7 458.86H352.1V462.74H339.7ZM339.7 462.74H352.1V466.62H339.7ZM370.7 462.74H376.9V466.62H370.7ZM339.7 466.62H345.9V470.50H339.7ZM370.7 466.62H376.9V470.50H370.7ZM345.9 505.43H352.1V509.31H345.9ZM345.9 509.31H352.1V513.20H345.9ZM465.9 70.76H472.1V74.64H465.9ZM453.5 86.29H459.7V90.17H453.5ZM422.5 128.98H428.7V132.86H422.5ZM422.5 132.86H428.7V136.74H422.5ZM397.7 167.79H403.9V171.67H397.7ZM434.9 167.79H441.1V171.67H434.9ZM416.3 210.48H422.5V214.36H416.3ZM441.1 218.24H447.3V222.12H441.1ZM465.9 218.24H472.1V222.12H465.9ZM478.3 218.24H484.5V222.12H478.3ZM441.1 222.12H447.3V226.00H441.1ZM465.9 222.12H472.1V226.00H465.9ZM478.3 222.12H484.5V226.00H478.3ZM453.5 226.00H459.7V229.88H453.5ZM465.9 226.00H472.1V229.88H465.9ZM397.7 229.88H403.9V233.76H397.7ZM422.5 229.88H428.7V233.76H422.5ZM428.7 233.76H434.9V237.64H428.7ZM465.9 233.76H472.1V237.64H465.9ZM397.7 237.64H403.9V241.53H397.7ZM447.3 237.64H459.7V241.53H447.3ZM472.1 237.64H478.3V241.53H472.1ZM397.7 253.17H403.9V257.05H397.7ZM428.7 253.17H434.9V257.05H428.7ZM447.3 253.17H453.5V257.05H447.3ZM397.7 257.05H403.9V260.93H397.7ZM453.5 260.93H459.7V264.81H453.5ZM397.7 264.81H403.9V268.69H397.7ZM434.9 264.81H441.1V268.69H434.9ZM453.5 264.81H459.7V268.69H453.5ZM397.7 268.69H403.9V272.57H397.7ZM416.3 268.69H422.5V272.57H416.3ZM428.7 268.69H447.3V272.57H428.7ZM453.5 268.69H459.7V272.57H453.5ZM478.3 268.69H484.5V272.57H478.3ZM397.7 272.57H403.9V276.45H397.7ZM416.3 272.57H422.5V276.45H416.3ZM441.1 272.57H447.3V276.45H441.1ZM478.3 272.57H484.5V276.45H478.3ZM397.7 276.45H416.3V280.34H397.7ZM434.9 276.45H447.3V280.34H434.9ZM459.7 276.45H465.9V280.34H459.7ZM478.3 276.45H484.5V280.34H478.3ZM397.7 280.34H410.1V284.22H397.7ZM441.1 280.34H447.3V284.22H441.1ZM459.7 280.34H472.1V284.22H459.7ZM478.3 280.34H484.5V284.22H478.3ZM397.7 284.22H416.3V288.10H397.7ZM441.1 284.22H447.3V288.10H441.1ZM453.5 284.22H472.1V288.10H453.5ZM478.3 284.22H484.5V288.10H478.3ZM410.1 288.10H416.3V291.98H410.1ZM441.1 288.10H447.3V291.98H441.1ZM459.7 288.10H465.9V291.98H459.7ZM478.3 288.10H484.5V291.98H478.3ZM441.1 291.98H447.3V295.86H441.1ZM465.9 291.98H484.5V295.86H465.9ZM397.7 295.86H422.5V299.74H397.7ZM441.1 295.86H447.3V299.74H441.1ZM478.3 295.86H484.5V299.74H478.3ZM397.7 299.74H403.9V303.62H397.7ZM410.1 299.74H422.5V303.62H410.1ZM434.9 299.74H447.3V303.62H434.9ZM478.3 299.74H484.5V303.62H478.3ZM434.9 303.62H447.3V307.50H434.9ZM459.7 303.62H465.9V307.50H459.7ZM478.3 303.62H484.5V307.50H478.3ZM397.7 307.50H403.9V311.38H397.7ZM434.9 307.50H447.3V311.38H434.9ZM472.1 307.50H478.3V311.38H472.1ZM441.1 311.38H447.3V315.26H441.1ZM459.7 311.38H465.9V315.26H459.7ZM434.9 315.26H447.3V319.15H434.9ZM459.7 315.26H465.9V319.15H459.7ZM478.3 315.26H484.5V319.15H478.3ZM441.1 319.15H447.3V323.03H441.1ZM459.7 323.03H472.1V326.91H459.7ZM478.3 323.03H484.5V326.91H478.3ZM459.7 326.91H465.9V330.79H459.7ZM397.7 330.79H403.9V334.67H397.7ZM441.1 330.79H447.3V334.67H441.1ZM459.7 330.79H465.9V334.67H459.7ZM441.1 334.67H447.3V338.55H441.1ZM416.3 338.55H422.5V342.43H416.3ZM441.1 338.55H447.3V342.43H441.1ZM453.5 338.55H459.7V342.43H453.5ZM403.9 342.43H410.1V346.31H403.9ZM441.1 342.43H447.3V346.31H441.1ZM403.9 346.31H410.1V350.19H403.9ZM441.1 346.31H447.3V350.19H441.1ZM397.7 354.07H410.1V357.96H397.7ZM434.9 354.07H441.1V357.96H434.9ZM453.5 354.07H459.7V357.96H453.5ZM397.7 357.96H403.9V361.84H397.7ZM428.7 357.96H434.9V361.84H428.7ZM453.5 357.96H459.7V361.84H453.5ZM422.5 361.84H428.7V365.72H422.5ZM441.1 361.84H453.5V365.72H441.1ZM459.7 361.84H465.9V365.72H459.7ZM397.7 365.72H403.9V369.60H397.7ZM459.7 365.72H465.9V369.60H459.7ZM397.7 369.60H403.9V373.48H397.7ZM416.3 369.60H422.5V373.48H416.3ZM453.5 369.60H459.7V373.48H453.5ZM397.7 373.48H403.9V377.36H397.7ZM422.5 373.48H428.7V377.36H422.5ZM397.7 377.36H410.1V381.24H397.7ZM441.1 377.36H447.3V381.24H441.1ZM459.7 377.36H472.1V381.24H459.7ZM478.3 377.36H484.5V381.24H478.3ZM397.7 381.24H410.1V385.12H397.7ZM459.7 381.24H472.1V385.12H459.7ZM441.1 385.12H447.3V389.00H441.1ZM459.7 385.12H465.9V389.00H459.7ZM397.7 389.00H410.1V392.88H397.7ZM434.9 389.00H447.3V392.88H434.9ZM459.7 389.00H465.9V392.88H459.7ZM459.7 400.65H465.9V404.53H459.7ZM459.7 404.53H465.9V408.41H459.7ZM397.7 408.41H403.9V412.29H397.7ZM459.7 408.41H465.9V412.29H459.7ZM434.9 412.29H441.1V416.17H434.9ZM472.1 412.29H478.3V416.17H472.1ZM441.1 416.17H447.3V420.05H441.1ZM453.5 416.17H465.9V420.05H453.5ZM478.3 416.17H484.5V420.05H478.3ZM428.7 420.05H447.3V423.93H428.7ZM453.5 420.05H472.1V423.93H453.5ZM478.3 420.05H484.5V423.93H478.3ZM434.9 439.46H441.1V443.34H434.9ZM434.9 443.34H441.1V447.22H434.9ZM434.9 447.22H441.1V451.10H434.9ZM434.9 451.10H447.3V454.98H434.9ZM465.9 451.10H472.1V454.98H465.9ZM465.9 454.98H472.1V458.86H465.9ZM422.5 458.86H434.9V462.74H422.5ZM441.1 458.86H459.7V462.74H441.1ZM478.3 458.86H484.5V462.74H478.3ZM397.7 462.74H403.9V466.62H397.7ZM478.3 462.74H484.5V466.62H478.3ZM397.7 466.62H403.9V470.50H397.7ZM428.7 466.62H434.9V470.50H428.7ZM453.5 466.62H459.7V470.50H453.5ZM478.3 466.62H484.5V470.50H478.3ZM434.9 474.39H441.1V478.27H434.9ZM478.3 474.39H484.5V478.27H478.3ZM434.9 478.27H441.1V482.15H434.9ZM434.9 482.15H441.1V486.03H434.9ZM434.9 486.03H441.1V489.91H434.9ZM434.9 489.91H441.1V493.79H434.9ZM434.9 493.79H441.1V497.67H434.9ZM410.1 501.55H416.3V505.43H410.1ZM459.7 501.55H465.9V505.43H459.7ZM441.1 520.96H447.3V524.84H441.1ZM536.3 66.88H542.5V70.76H536.3ZM554.9 82.40H561.1V86.29H554.9ZM530.1 90.17H536.3V94.05H530.1ZM554.9 90.17H561.1V94.05H554.9ZM530.1 94.05H542.5V97.93H530.1ZM554.9 94.05H561.1V97.93H554.9ZM536.3 97.93H542.5V101.81H536.3ZM554.9 97.93H561.1V101.81H554.9ZM486.7 101.81H492.9V105.69H486.7ZM536.3 101.81H542.5V105.69H536.3ZM554.9 101.81H561.1V105.69H554.9ZM486.7 105.69H492.9V109.57H486.7ZM517.7 105.69H523.9V109.57H517.7ZM542.5 105.69H548.7V109.57H542.5ZM561.1 105.69H567.3V109.57H561.1ZM511.5 109.57H523.9V113.45H511.5ZM554.9 109.57H561.1V113.45H554.9ZM517.7 113.45H523.9V117.33H517.7ZM548.7 113.45H554.9V117.33H548.7ZM561.1 113.45H567.3V117.33H561.1ZM536.3 117.33H542.5V121.21H536.3ZM486.7 121.21H492.9V125.10H486.7ZM505.3 121.21H511.5V125.10H505.3ZM542.5 121.21H548.7V125.10H542.5ZM554.9 121.21H561.1V125.10H554.9ZM511.5 125.10H517.7V128.98H511.5ZM536.3 125.10H542.5V128.98H536.3ZM505.3 132.86H511.5V136.74H505.3ZM486.7 136.74H492.9V140.62H486.7ZM486.7 140.62H492.9V144.50H486.7ZM486.7 148.38H492.9V152.26H486.7ZM511.5 167.79H517.7V171.67H511.5ZM536.3 167.79H542.5V171.67H536.3ZM486.7 175.55H505.3V179.43H486.7ZM536.3 175.55H542.5V179.43H536.3ZM536.3 179.43H542.5V183.31H536.3ZM548.7 179.43H554.9V183.31H548.7ZM561.1 179.43H567.3V183.31H561.1ZM536.3 183.31H542.5V187.19H536.3ZM548.7 183.31H554.9V187.19H548.7ZM536.3 187.19H542.5V191.07H536.3ZM536.3 194.95H542.5V198.83H536.3ZM536.3 198.83H542.5V202.72H536.3ZM492.9 202.72H499.1V206.60H492.9ZM536.3 202.72H542.5V206.60H536.3ZM536.3 206.60H542.5V210.48H536.3ZM554.9 214.36H561.1V218.24H554.9ZM542.5 226.00H548.7V229.88H542.5ZM511.5 229.88H517.7V233.76H511.5ZM511.5 330.79H517.7V334.67H511.5ZM536.3 330.79H542.5V334.67H536.3ZM511.5 334.67H517.7V338.55H511.5ZM492.9 423.93H511.5V427.81H492.9ZM523.9 423.93H530.1V427.81H523.9ZM542.5 423.93H567.3V427.81H542.5ZM499.1 427.81H511.5V431.69H499.1ZM517.7 427.81H530.1V431.69H517.7ZM542.5 427.81H548.7V431.69H542.5ZM561.1 427.81H567.3V431.69H561.1ZM499.1 431.69H505.3V435.58H499.1ZM523.9 431.69H530.1V435.58H523.9ZM542.5 431.69H548.7V435.58H542.5ZM561.1 431.69H567.3V435.58H561.1ZM499.1 435.58H505.3V439.46H499.1ZM511.5 435.58H523.9V439.46H511.5ZM530.1 435.58H536.3V439.46H530.1ZM542.5 435.58H548.7V439.46H542.5ZM561.1 435.58H567.3V439.46H561.1ZM486.7 439.46H499.1V443.34H486.7ZM517.7 439.46H523.9V443.34H517.7ZM542.5 439.46H548.7V443.34H542.5ZM499.1 443.34H511.5V447.22H499.1ZM517.7 443.34H523.9V447.22H517.7ZM561.1 443.34H567.3V447.22H561.1ZM517.7 447.22H523.9V451.10H517.7ZM561.1 447.22H567.3V451.10H561.1ZM561.1 451.10H567.3V454.98H561.1ZM511.5 454.98H517.7V458.86H511.5ZM530.1 454.98H536.3V458.86H530.1ZM554.9 454.98H561.1V458.86H554.9ZM505.3 474.39H523.9V478.27H505.3ZM542.5 474.39H554.9V478.27H542.5ZM561.1 474.39H567.3V478.27H561.1ZM505.3 478.27H523.9V482.15H505.3ZM542.5 478.27H554.9V482.15H542.5ZM561.1 478.27H567.3V482.15H561.1ZM511.5 482.15H517.7V486.03H511.5ZM542.5 482.15H554.9V486.03H542.5ZM561.1 482.15H567.3V486.03H561.1ZM505.3 486.03H517.7V489.91H505.3ZM542.5 486.03H548.7V489.91H542.5ZM505.3 489.91H517.7V493.79H505.3ZM542.5 489.91H548.7V493.79H542.5ZM561.1 489.91H567.3V493.79H561.1ZM499.1 493.79H517.7V497.67H499.1ZM542.5 493.79H548.7V497.67H542.5ZM511.5 497.67H517.7V501.55H511.5ZM511.5 501.55H517.7V505.43H511.5ZM548.7 501.55H554.9V505.43H548.7ZM554.9 505.43H561.1V509.31H554.9ZM618.9 66.88H625.1V70.76H618.9ZM649.9 66.88H656.1V70.76H649.9ZM581.7 70.76H587.9V74.64H581.7ZM594.1 70.76H600.3V74.64H594.1ZM606.5 70.76H612.7V74.64H606.5ZM649.9 70.76H656.1V74.64H649.9ZM581.7 74.64H587.9V78.52H581.7ZM618.9 74.64H625.1V78.52H618.9ZM631.3 74.64H637.5V78.52H631.3ZM643.7 74.64H656.1V78.52H643.7ZM581.7 78.52H587.9V82.40H581.7ZM612.7 78.52H625.1V82.40H612.7ZM643.7 78.52H656.1V82.40H643.7ZM618.9 82.40H625.1V86.29H618.9ZM637.5 82.40H656.1V86.29H637.5ZM637.5 86.29H643.7V90.17H637.5ZM649.9 86.29H656.1V90.17H649.9ZM587.9 94.05H594.1V97.93H587.9ZM618.9 94.05H625.1V97.93H618.9ZM587.9 97.93H594.1V101.81H587.9ZM625.1 97.93H637.5V101.81H625.1ZM643.7 97.93H649.9V101.81H643.7ZM569.3 101.81H581.7V105.69H569.3ZM625.1 101.81H631.3V105.69H625.1ZM587.9 105.69H594.1V109.57H587.9ZM594.1 109.57H606.5V113.45H594.1ZM625.1 109.57H631.3V113.45H625.1ZM587.9 117.33H594.1V121.21H587.9ZM625.1 117.33H631.3V121.21H625.1ZM581.7 121.21H594.1V125.10H581.7ZM575.5 125.10H587.9V128.98H575.5ZM594.1 125.10H606.5V128.98H594.1ZM625.1 125.10H631.3V128.98H625.1ZM581.7 128.98H587.9V132.86H581.7ZM600.3 128.98H606.5V132.86H600.3ZM569.3 136.74H575.5V140.62H569.3ZM625.1 136.74H631.3V140.62H625.1ZM569.3 140.62H581.7V144.50H569.3ZM587.9 140.62H594.1V144.50H587.9ZM569.3 144.50H575.5V148.38H569.3ZM587.9 144.50H594.1V148.38H587.9ZM625.1 144.50H631.3V148.38H625.1ZM569.3 148.38H575.5V152.26H569.3ZM594.1 148.38H600.3V152.26H594.1ZM637.5 148.38H643.7V152.26H637.5ZM569.3 152.26H575.5V156.14H569.3ZM587.9 152.26H594.1V156.14H587.9ZM569.3 156.14H575.5V160.02H569.3ZM587.9 156.14H594.1V160.02H587.9ZM569.3 167.79H575.5V171.67H569.3ZM612.7 167.79H618.9V171.67H612.7ZM625.1 167.79H631.3V171.67H625.1ZM575.5 171.67H581.7V175.55H575.5ZM569.3 175.55H575.5V179.43H569.3ZM625.1 175.55H631.3V179.43H625.1ZM625.1 179.43H631.3V183.31H625.1ZM587.9 183.31H594.1V187.19H587.9ZM625.1 183.31H631.3V187.19H625.1ZM587.9 187.19H594.1V191.07H587.9ZM625.1 187.19H631.3V191.07H625.1ZM587.9 191.07H594.1V194.95H587.9ZM625.1 191.07H631.3V194.95H625.1ZM637.5 191.07H643.7V194.95H637.5ZM587.9 194.95H594.1V198.83H587.9ZM625.1 194.95H631.3V198.83H625.1ZM587.9 198.83H594.1V202.72H587.9ZM625.1 198.83H631.3V202.72H625.1ZM587.9 202.72H594.1V206.60H587.9ZM625.1 202.72H631.3V206.60H625.1ZM587.9 206.60H594.1V210.48H587.9ZM606.5 214.36H612.7V218.24H606.5ZM581.7 229.88H587.9V233.76H581.7ZM594.1 249.29H600.3V253.17H594.1ZM649.9 377.36H656.1V381.24H649.9ZM649.9 392.88H656.1V396.77H649.9ZM625.1 416.17H631.3V420.05H625.1ZM625.1 420.05H631.3V423.93H625.1ZM625.1 423.93H631.3V427.81H625.1ZM569.3 431.69H575.5V435.58H569.3ZM569.3 505.43H575.5V509.31H569.3ZM670.6 66.88H676.8V70.76H670.6ZM658.2 101.81H664.4V105.69H658.2ZM658.2 113.45H676.8V117.33H658.2ZM658.2 117.33H670.6V121.21H658.2ZM670.6 121.21H676.8V125.10H670.6ZM670.6 128.98H676.8V132.86H670.6ZM670.6 132.86H676.8V136.74H670.6ZM670.6 136.74H676.8V140.62H670.6ZM670.6 144.50H676.8V148.38H670.6ZM670.6 148.38H676.8V152.26H670.6ZM670.6 167.79H676.8V171.67H670.6ZM658.2 175.55H676.8V179.43H658.2ZM658.2 179.43H676.8V183.31H658.2ZM658.2 183.31H676.8V187.19H658.2ZM658.2 187.19H676.8V191.07H658.2ZM658.2 191.07H676.8V194.95H658.2ZM658.2 194.95H670.6V198.83H658.2ZM658.2 198.83H664.4V202.72H658.2ZM670.6 198.83H676.8V202.72H670.6ZM658.2 202.72H676.8V206.60H658.2ZM658.2 206.60H676.8V210.48H658.2ZM664.4 272.57H676.8V276.45H664.4ZM664.4 334.67H670.6V338.55H664.4ZM664.4 365.72H670.6V369.60H664.4ZM664.4 389.00H670.6V392.88H664.4ZM658.2 396.77H664.4V400.65H658.2ZM670.6 396.77H676.8V400.65H670.6ZM664.4 404.53H670.6V408.41H664.4ZM664.4 408.41H670.6V412.29H664.4ZM664.4 412.29H670.6V416.17H664.4ZM664.4 416.17H676.8V420.05H664.4ZM664.4 420.05H670.6V423.93H664.4ZM658.2 431.69H670.6V435.58H658.2ZM664.4 478.27H670.6V482.15H664.4ZM664.4 482.15H670.6V486.03H664.4ZM658.2 509.31H664.4V513.20H658.2Z"/><path fill="#ef8e93" d="M364.5 237.64H370.7V241.53H364.5ZM370.7 245.41H376.9V249.29H370.7ZM370.7 253.17H376.9V257.05H370.7ZM370.7 257.05H376.9V260.93H370.7ZM370.7 260.93H376.9V264.81H370.7ZM345.9 264.81H352.1V268.69H345.9ZM370.7 268.69H376.9V272.57H370.7ZM370.7 272.57H376.9V276.45H370.7ZM370.7 276.45H376.9V280.34H370.7ZM370.7 280.34H376.9V284.22H370.7ZM370.7 284.22H376.9V288.10H370.7ZM345.9 303.62H352.1V307.50H345.9ZM370.7 303.62H376.9V307.50H370.7ZM345.9 311.38H352.1V315.26H345.9ZM370.7 311.38H376.9V315.26H370.7ZM345.9 338.55H352.1V342.43H345.9ZM339.7 346.31H352.1V350.19H339.7ZM376.9 357.96H383.1V361.84H376.9ZM370.7 392.88H376.9V396.77H370.7ZM370.7 447.22H376.9V451.10H370.7ZM383.1 501.55H389.3V505.43H383.1ZM434.9 82.40H441.1V86.29H434.9ZM472.1 233.76H478.3V237.64H472.1ZM422.5 237.64H434.9V241.53H422.5ZM397.7 260.93H403.9V264.81H397.7ZM428.7 260.93H434.9V264.81H428.7ZM434.9 272.57H441.1V276.45H434.9ZM434.9 280.34H441.1V284.22H434.9ZM397.7 288.10H403.9V291.98H397.7ZM397.7 291.98H403.9V295.86H397.7ZM397.7 303.62H403.9V307.50H397.7ZM434.9 311.38H441.1V315.26H434.9ZM397.7 319.15H403.9V323.03H397.7ZM434.9 319.15H441.1V323.03H434.9ZM459.7 319.15H465.9V323.03H459.7ZM434.9 323.03H447.3V326.91H434.9ZM434.9 326.91H447.3V330.79H434.9ZM434.9 330.79H441.1V334.67H434.9ZM397.7 334.67H403.9V338.55H397.7ZM434.9 334.67H441.1V338.55H434.9ZM397.7 338.55H403.9V342.43H397.7ZM397.7 342.43H403.9V346.31H397.7ZM472.1 361.84H478.3V365.72H472.1ZM397.7 396.77H403.9V400.65H397.7ZM434.9 416.17H441.1V420.05H434.9ZM403.9 462.74H410.1V466.62H403.9ZM447.3 517.08H453.5V520.96H447.3ZM505.3 125.10H511.5V128.98H505.3ZM536.3 128.98H542.5V132.86H536.3ZM536.3 132.86H542.5V136.74H536.3ZM536.3 144.50H542.5V148.38H536.3ZM536.3 152.26H542.5V156.14H536.3ZM554.9 253.17H561.1V257.05H554.9ZM554.9 257.05H561.1V260.93H554.9ZM511.5 427.81H517.7V431.69H511.5ZM554.9 427.81H561.1V431.69H554.9ZM548.7 443.34H554.9V447.22H548.7ZM548.7 447.22H554.9V451.10H548.7ZM517.7 482.15H523.9V486.03H517.7ZM517.7 486.03H523.9V489.91H517.7ZM548.7 486.03H554.9V489.91H548.7ZM561.1 486.03H567.3V489.91H561.1ZM517.7 489.91H523.9V493.79H517.7ZM548.7 489.91H554.9V493.79H548.7ZM517.7 493.79H523.9V497.67H517.7ZM548.7 493.79H554.9V497.67H548.7ZM561.1 493.79H567.3V497.67H561.1ZM517.7 497.67H523.9V501.55H517.7ZM505.3 501.55H511.5V505.43H505.3ZM517.7 501.55H523.9V505.43H517.7ZM554.9 509.31H561.1V513.20H554.9ZM606.5 63.00H612.7V66.88H606.5ZM569.3 66.88H575.5V70.76H569.3ZM612.7 70.76H618.9V74.64H612.7ZM600.3 74.64H606.5V78.52H600.3ZM612.7 74.64H618.9V78.52H612.7ZM600.3 78.52H606.5V82.40H600.3ZM587.9 101.81H594.1V105.69H587.9ZM625.1 121.21H631.3V125.10H625.1ZM625.1 148.38H631.3V152.26H625.1ZM625.1 156.14H631.3V160.02H625.1ZM625.1 160.02H631.3V163.91H625.1ZM625.1 163.91H631.3V167.79H625.1ZM569.3 171.67H575.5V175.55H569.3ZM600.3 470.50H606.5V474.39H600.3ZM664.4 66.88H670.6V70.76H664.4ZM670.6 117.33H676.8V121.21H670.6ZM658.2 136.74H664.4V140.62H658.2ZM658.2 140.62H664.4V144.50H658.2ZM658.2 144.50H664.4V148.38H658.2ZM658.2 148.38H664.4V152.26H658.2ZM670.6 152.26H676.8V156.14H670.6ZM658.2 156.14H664.4V160.02H658.2ZM670.6 156.14H676.8V160.02H670.6ZM658.2 160.02H664.4V163.91H658.2ZM670.6 160.02H676.8V163.91H670.6ZM658.2 163.91H664.4V167.79H658.2ZM670.6 163.91H676.8V167.79H670.6ZM658.2 167.79H664.4V171.67H658.2ZM670.6 194.95H676.8V198.83H670.6ZM664.4 198.83H670.6V202.72H664.4ZM658.2 249.29H664.4V253.17H658.2ZM664.4 326.91H670.6V330.79H664.4ZM670.6 330.79H676.8V334.67H670.6ZM670.6 334.67H676.8V338.55H670.6ZM664.4 400.65H670.6V404.53H664.4ZM664.4 423.93H670.6V427.81H664.4Z"/><path fill="#e85f63" d="M345.9 260.93H352.1V264.81H345.9ZM352.1 509.31H358.3V513.20H352.1ZM465.9 210.48H478.3V214.36H465.9ZM472.1 214.36H478.3V218.24H472.1ZM397.7 241.53H403.9V245.41H397.7ZM434.9 241.53H441.1V245.41H434.9ZM478.3 264.81H484.5V268.69H478.3ZM397.7 346.31H403.9V350.19H397.7ZM447.3 513.20H453.5V517.08H447.3ZM530.1 86.29H536.3V90.17H530.1ZM536.3 136.74H542.5V140.62H536.3ZM536.3 140.62H542.5V144.50H536.3ZM536.3 148.38H542.5V152.26H536.3ZM536.3 156.14H542.5V160.02H536.3ZM536.3 160.02H542.5V163.91H536.3ZM536.3 163.91H542.5V167.79H536.3ZM569.3 63.00H575.5V66.88H569.3ZM637.5 63.00H643.7V66.88H637.5ZM618.9 86.29H625.1V90.17H618.9ZM625.1 152.26H631.3V156.14H625.1ZM625.1 171.67H631.3V175.55H625.1ZM600.3 229.88H606.5V233.76H600.3ZM625.1 257.05H631.3V260.93H625.1ZM658.2 152.26H664.4V156.14H658.2ZM658.2 171.67H664.4V175.55H658.2ZM664.4 392.88H670.6V396.77H664.4ZM664.4 396.77H670.6V400.65H664.4Z"/><path fill="#5e6cbd" d="M339.7 497.67H345.9V501.55H339.7ZM606.5 404.53H612.7V408.41H606.5Z"/><path fill="#f2f2f8" d="M339.7 513.20H395.5V517.08H339.7ZM339.7 517.08H395.5V520.96H339.7ZM339.7 520.96H395.5V524.84H339.7ZM339.7 524.84H395.5V528.72H339.7ZM339.7 528.72H395.5V532.60H339.7ZM397.7 513.20H447.3V517.08H397.7ZM453.5 513.20H484.5V517.08H453.5ZM397.7 517.08H447.3V520.96H397.7ZM453.5 517.08H484.5V520.96H453.5ZM397.7 520.96H441.1V524.84H397.7ZM447.3 520.96H484.5V524.84H447.3ZM397.7 524.84H484.5V528.72H397.7ZM397.7 528.72H484.5V532.60H397.7ZM561.1 241.53H567.3V245.41H561.1ZM486.7 245.41H567.3V249.29H486.7ZM486.7 249.29H567.3V253.17H486.7ZM486.7 513.20H554.9V517.08H486.7ZM561.1 513.20H567.3V517.08H561.1ZM486.7 517.08H499.1V520.96H486.7ZM505.3 517.08H554.9V520.96H505.3ZM561.1 517.08H567.3V520.96H561.1ZM486.7 520.96H554.9V524.84H486.7ZM561.1 520.96H567.3V524.84H561.1ZM486.7 524.84H554.9V528.72H486.7ZM561.1 524.84H567.3V528.72H561.1ZM486.7 528.72H554.9V532.60H486.7ZM561.1 528.72H567.3V532.60H561.1ZM569.3 245.41H656.1V249.29H569.3ZM569.3 249.29H575.5V253.17H569.3ZM581.7 249.29H587.9V253.17H581.7ZM600.3 249.29H656.1V253.17H600.3ZM569.3 513.20H656.1V517.08H569.3ZM569.3 517.08H656.1V520.96H569.3ZM569.3 520.96H656.1V524.84H569.3ZM569.3 524.84H656.1V528.72H569.3ZM569.3 528.72H656.1V532.60H569.3ZM658.2 245.41H676.8V249.29H658.2ZM664.4 249.29H670.6V253.17H664.4ZM658.2 513.20H676.8V517.08H658.2ZM658.2 517.08H676.8V520.96H658.2ZM658.2 520.96H676.8V524.84H658.2ZM658.2 524.84H676.8V528.72H658.2ZM658.2 528.72H676.8V532.60H658.2Z"/><path fill="#e2292e" d="M465.9 214.36H472.1V218.24H465.9ZM434.9 245.41H441.1V249.29H434.9ZM434.9 249.29H441.1V253.17H434.9ZM511.5 470.50H517.7V474.39H511.5ZM492.9 505.43H499.1V509.31H492.9ZM554.9 513.20H561.1V517.08H554.9ZM554.9 517.08H561.1V520.96H554.9ZM554.9 520.96H561.1V524.84H554.9ZM554.9 524.84H561.1V528.72H554.9ZM554.9 528.72H561.1V532.60H554.9ZM631.3 82.40H637.5V86.29H631.3Z"/></g>
<path d="M339.7 64.94H332.6V68.82H339.7" stroke="#222" stroke-width="0.9" fill="none"/>
<path d="M339.7 72.70H332.5V76.58H339.7" stroke="#222" stroke-width="0.9" fill="none"/>
<path d="M332.6 66.88H330.8V74.64H332.5" stroke="#222" stroke-width="0.9" fill="none"/>
<path d="M330.8 70.76H329.5V80.46H339.7" stroke="#222" stroke-width="0.9" fill="none"/>
<path d="M339.7 84.35H332.4V88.23H339.7" stroke="#222" stroke-width="0.9" fill="none"/>
<path d="M329.5 75.61H328.0V86.29H332.4" stroke="#222" stroke-width="0.9" fill="none"/>
<path d="M328.0 80.95H327.1V92.11H339.7" stroke="#222" stroke-width="0.9" fill="none"/>
<path d="M339.7 99.87H332.9V103.75H339.7" stroke="#222" stroke-width="0.9" fill="none"/>
<path d="M339.7 95.99H331.9V101.81H332.9" stroke="#222" stroke-width="0.9" fill="none"/>
<path d="M327.1 86.53H326.2V98.90H331.9" stroke="#222" stroke-width="0.9" fill="none"/>
<path d="M339.7 107.63H332.4V111.51H339.7" stroke="#222" stroke-width="0.9" fill="none"/>
<path d="M339.7 115.39H332.4V119.27H339.7" stroke="#222" stroke-width="0.9" fill="none"/>
<path d="M339.7 127.04H332.1V130.92H339.7" stroke="#222" stroke-width="0.9" fill="none"/>
<path d="M339.7 123.16H331.2V128.98H332.1" stroke="#222" stroke-width="0.9" fill="none"/>
<path d="M332.4 117.33H330.3V126.07H331.2" stroke="#222" stroke-width="0.9" fill="none"/>
<path d="M330.3 121.70H328.3V134.80H339.7" stroke="#222" stroke-width="0.9" fill="none"/>
<path d="M339.7 138.68H332.4V142.56H339.7" stroke="#222" stroke-width="0.9" fill="none"/>
<path d="M328.3 128.25H327.4V140.62H332.4" stroke="#222" stroke-width="0.9" fill="none"/>
<path d="M339.7 150.32H332.7V154.20H339.7" stroke="#222" stroke-width="0.9" fill="none"/>
<path d="M339.7 146.44H330.7V152.26H332.7" stroke="#222" stroke-width="0.9" fill="none"/>
<path d="M339.7 158.08H332.6V161.97H339.7" stroke="#222" stroke-width="0.9" fill="none"/>
<path d="M330.7 149.35H329.3V160.02H332.6" stroke="#222" stroke-width="0.9" fill="none"/>
<path d="M327.4 134.43H326.4V154.69H329.3" stroke="#222" stroke-width="0.9" fill="none"/>
<path d="M339.7 169.73H333.3V173.61H339.7" stroke="#222" stroke-width="0.9" fill="none"/>
<path d="M339.7 165.85H331.0V171.67H333.3" stroke="#222" stroke-width="0.9" fill="none"/>
<path d="M331.0 168.76H330.1V177.49H339.7" stroke="#222" stroke-width="0.9" fill="none"/>
<path d="M326.4 144.56H325.4V173.12H330.1" stroke="#222" stroke-width="0.9" fill="none"/>
<path d="M332.4 109.57H325.0V158.84H325.4" stroke="#222" stroke-width="0.9" fill="none"/>
<path d="M339.7 181.37H332.3V185.25H339.7" stroke="#222" stroke-width="0.9" fill="none"/>
<path d="M339.7 189.13H332.6V193.01H339.7" stroke="#222" stroke-width="0.9" fill="none"/>
<path d="M339.7 204.66H333.3V208.54H339.7" stroke="#222" stroke-width="0.9" fill="none"/>
<path d="M339.7 200.78H330.8V206.60H333.3" stroke="#222" stroke-width="0.9" fill="none"/>
<path d="M339.7 196.89H329.9V203.69H330.8" stroke="#222" stroke-width="0.9" fill="none"/>
<path d="M332.6 191.07H328.4V200.29H329.9" stroke="#222" stroke-width="0.9" fill="none"/>
<path d="M339.7 212.42H333.3V216.30H339.7" stroke="#222" stroke-width="0.9" fill="none"/>
<path d="M339.7 220.18H333.4V224.06H339.7" stroke="#222" stroke-width="0.9" fill="none"/>
<path d="M333.3 214.36H330.0V222.12H333.4" stroke="#222" stroke-width="0.9" fill="none"/>
<path d="M328.4 195.68H327.5V218.24H330.0" stroke="#222" stroke-width="0.9" fill="none"/>
<path d="M332.3 183.31H326.0V206.96H327.5" stroke="#222" stroke-width="0.9" fill="none"/>
<path d="M339.7 235.70H332.8V239.59H339.7" stroke="#222" stroke-width="0.9" fill="none"/>
<path d="M339.7 231.82H331.9V237.64H332.8" stroke="#222" stroke-width="0.9" fill="none"/>
<path d="M331.9 234.73H330.1V243.47H339.7" stroke="#222" stroke-width="0.9" fill="none"/>
<path d="M339.7 251.23H333.0V255.11H339.7" stroke="#222" stroke-width="0.9" fill="none"/>
<path d="M339.7 247.35H331.9V253.17H333.0" stroke="#222" stroke-width="0.9" fill="none"/>
<path d="M331.9 250.26H330.6V258.99H339.7" stroke="#222" stroke-width="0.9" fill="none"/>
<path d="M330.1 239.10H327.3V254.62H330.6" stroke="#222" stroke-width="0.9" fill="none"/>
<path d="M339.7 262.87H332.2V266.75H339.7" stroke="#222" stroke-width="0.9" fill="none"/>
<path d="M327.3 246.86H326.4V264.81H332.2" stroke="#222" stroke-width="0.9" fill="none"/>
<path d="M339.7 227.94H325.5V255.84H326.4" stroke="#222" stroke-width="0.9" fill="none"/>
<path d="M339.7 278.40H333.1V282.28H339.7" stroke="#e8817f" stroke-width="0.9" fill="none"/>
<path d="M339.7 286.16H332.5V290.04H339.7" stroke="#e8817f" stroke-width="0.9" fill="none"/>
<path d="M333.1 280.34H330.4V288.10H332.5" stroke="#e8817f" stroke-width="0.9" fill="none"/>
<path d="M330.4 284.22H329.5V293.92H339.7" stroke="#e8817f" stroke-width="0.9" fill="none"/>
<path d="M339.7 274.51H328.6V289.07H329.5" stroke="#e8817f" stroke-width="0.9" fill="none"/>
<path d="M339.7 270.63H327.7V281.79H328.6" stroke="#e8817f" stroke-width="0.9" fill="none"/>
<path d="M339.7 297.80H332.7V301.68H339.7" stroke="#e8817f" stroke-width="0.9" fill="none"/>
<path d="M339.7 305.56H333.1V309.44H339.7" stroke="#e8817f" stroke-width="0.9" fill="none"/>
<path d="M332.7 299.74H330.7V307.50H333.1" stroke="#e8817f" stroke-width="0.9" fill="none"/>
<path d="M339.7 324.97H332.8V328.85H339.7" stroke="#e8817f" stroke-width="0.9" fill="none"/>
<path d="M339.7 321.09H330.7V326.91H332.8" stroke="#e8817f" stroke-width="0.9" fill="none"/>
<path d="M339.7 317.20H329.8V324.00H330.7" stroke="#e8817f" stroke-width="0.9" fill="none"/>
<path d="M339.7 344.37H331.8V348.25H339.7" stroke="#e8817f" stroke-width="0.9" fill="none"/>
<path d="M339.7 340.49H330.9V346.31H331.8" stroke="#e8817f" stroke-width="0.9" fill="none"/>
<path d="M339.7 336.61H330.0V343.40H330.9" stroke="#e8817f" stroke-width="0.9" fill="none"/>
<path d="M339.7 332.73H329.1V340.01H330.0" stroke="#e8817f" stroke-width="0.9" fill="none"/>
<path d="M329.8 320.60H327.9V336.37H329.1" stroke="#e8817f" stroke-width="0.9" fill="none"/>
<path d="M339.7 313.32H327.0V328.48H327.9" stroke="#e8817f" stroke-width="0.9" fill="none"/>
<path d="M339.7 352.13H333.3V356.01H339.7" stroke="#e8817f" stroke-width="0.9" fill="none"/>
<path d="M339.7 359.90H332.5V363.78H339.7" stroke="#e8817f" stroke-width="0.9" fill="none"/>
<path d="M339.7 367.66H333.4V371.54H339.7" stroke="#e8817f" stroke-width="0.9" fill="none"/>
<path d="M339.7 379.30H332.8V383.18H339.7" stroke="#e8817f" stroke-width="0.9" fill="none"/>
<path d="M339.7 375.42H331.1V381.24H332.8" stroke="#e8817f" stroke-width="0.9" fill="none"/>
<path d="M333.4 369.60H330.2V378.33H331.1" stroke="#e8817f" stroke-width="0.9" fill="none"/>
<path d="M332.5 361.84H328.3V373.96H330.2" stroke="#e8817f" stroke-width="0.9" fill="none"/>
<path d="M333.3 354.07H327.1V367.90H328.3" stroke="#e8817f" stroke-width="0.9" fill="none"/>
<path d="M327.0 320.90H326.5V360.99H327.1" stroke="#e8817f" stroke-width="0.9" fill="none"/>
<path d="M339.7 387.06H332.8V390.94H339.7" stroke="#e8817f" stroke-width="0.9" fill="none"/>
<path d="M326.5 340.95H326.5V389.00H332.8" stroke="#e8817f" stroke-width="0.9" fill="none"/>
<path d="M330.7 303.62H326.5V364.97H326.5" stroke="#e8817f" stroke-width="0.9" fill="none"/>
<path d="M339.7 394.82H332.1V398.71H339.7" stroke="#e8817f" stroke-width="0.9" fill="none"/>
<path d="M339.7 402.59H332.2V406.47H339.7" stroke="#e8817f" stroke-width="0.9" fill="none"/>
<path d="M339.7 418.11H332.2V421.99H339.7" stroke="#e8817f" stroke-width="0.9" fill="none"/>
<path d="M339.7 414.23H330.5V420.05H332.2" stroke="#e8817f" stroke-width="0.9" fill="none"/>
<path d="M339.7 410.35H329.6V417.14H330.5" stroke="#e8817f" stroke-width="0.9" fill="none"/>
<path d="M332.2 404.53H328.2V413.74H329.6" stroke="#e8817f" stroke-width="0.9" fill="none"/>
<path d="M332.1 396.77H327.3V409.14H328.2" stroke="#e8817f" stroke-width="0.9" fill="none"/>
<path d="M326.5 334.30H326.5V402.95H327.3" stroke="#e8817f" stroke-width="0.9" fill="none"/>
<path d="M327.7 276.21H326.5V368.62H326.5" stroke="#e8817f" stroke-width="0.9" fill="none"/>
<path d="M339.7 425.87H333.2V429.75H339.7" stroke="#222" stroke-width="0.9" fill="none"/>
<path d="M339.7 433.63H332.2V437.52H339.7" stroke="#222" stroke-width="0.9" fill="none"/>
<path d="M339.7 445.28H332.8V449.16H339.7" stroke="#222" stroke-width="0.9" fill="none"/>
<path d="M339.7 441.40H331.4V447.22H332.8" stroke="#222" stroke-width="0.9" fill="none"/>
<path d="M332.2 435.58H328.9V444.31H331.4" stroke="#222" stroke-width="0.9" fill="none"/>
<path d="M339.7 453.04H332.9V456.92H339.7" stroke="#222" stroke-width="0.9" fill="none"/>
<path d="M339.7 460.80H333.1V464.68H339.7" stroke="#222" stroke-width="0.9" fill="none"/>
<path d="M332.9 454.98H329.9V462.74H333.1" stroke="#222" stroke-width="0.9" fill="none"/>
<path d="M328.9 439.94H328.0V458.86H329.9" stroke="#222" stroke-width="0.9" fill="none"/>
<path d="M339.7 468.56H333.0V472.44H339.7" stroke="#222" stroke-width="0.9" fill="none"/>
<path d="M328.0 449.40H326.8V470.50H333.0" stroke="#222" stroke-width="0.9" fill="none"/>
<path d="M333.2 427.81H325.8V459.95H326.8" stroke="#222" stroke-width="0.9" fill="none"/>
<path d="M339.7 476.33H333.0V480.21H339.7" stroke="#222" stroke-width="0.9" fill="none"/>
<path d="M339.7 484.09H332.2V487.97H339.7" stroke="#222" stroke-width="0.9" fill="none"/>
<path d="M339.7 499.61H332.7V503.49H339.7" stroke="#222" stroke-width="0.9" fill="none"/>
<path d="M339.7 495.73H331.7V501.55H332.7" stroke="#222" stroke-width="0.9" fill="none"/>
<path d="M339.7 507.37H333.3V511.25H339.7" stroke="#222" stroke-width="0.9" fill="none"/>
<path d="M331.7 498.64H329.9V509.31H333.3" stroke="#222" stroke-width="0.9" fill="none"/>
<path d="M339.7 491.85H328.9V503.98H329.9" stroke="#222" stroke-width="0.9" fill="none"/>
<path d="M332.2 486.03H327.2V497.91H328.9" stroke="#222" stroke-width="0.9" fill="none"/>
<path d="M333.0 478.27H326.3V491.97H327.2" stroke="#222" stroke-width="0.9" fill="none"/>
<path d="M339.7 515.14H332.0V519.02H339.7" stroke="#222" stroke-width="0.9" fill="none"/>
<path d="M339.7 526.78H331.8V530.66H339.7" stroke="#222" stroke-width="0.9" fill="none"/>
<path d="M339.7 522.90H330.9V528.72H331.8" stroke="#222" stroke-width="0.9" fill="none"/>
<path d="M332.0 517.08H329.3V525.81H330.9" stroke="#222" stroke-width="0.9" fill="none"/>
<path d="M326.3 485.12H325.4V521.44H329.3" stroke="#222" stroke-width="0.9" fill="none"/>
<path d="M326.2 92.71H324.0V134.21H325.0" stroke="#222" stroke-width="0.9" fill="none"/>
<path d="M326.0 195.14H324.4V241.89H325.5" stroke="#222" stroke-width="0.9" fill="none"/>
<path d="M324.0 113.46H323.2V218.51H324.4" stroke="#222" stroke-width="0.9" fill="none"/>
<path d="M323.2 165.99H320.4V322.42H326.5" stroke="#222" stroke-width="0.9" fill="none"/>
<path d="M325.8 443.88H322.6V503.28H325.4" stroke="#222" stroke-width="0.9" fill="none"/>
<path d="M320.4 244.20H319.2V473.58H322.6" stroke="#222" stroke-width="0.9" fill="none"/>
<rect x="340.2" y="268.8" width="338" height="155.2" fill="none" stroke="#7d7d7d" stroke-width="1"/>
<text x="519" y="544.4" font-size="9.7" text-anchor="middle" fill="#231f20">Z-score</text>
<defs><linearGradient id="zs" x1="0" y1="0" x2="1" y2="0"><stop offset="0" stop-color="#2f4fae"/><stop offset="0.25" stop-color="#8c9ad4"/><stop offset="0.5" stop-color="#ffffff"/><stop offset="0.75" stop-color="#f09a9c"/><stop offset="1" stop-color="#e2262b"/></linearGradient></defs>
<rect x="477.6" y="548.8" width="84.4" height="6.1" fill="url(#zs)"/>
<text x="482.8" y="563.3" font-size="9.7" text-anchor="middle" fill="#231f20">-6</text>
<text x="494.8" y="563.3" font-size="9.7" text-anchor="middle" fill="#231f20">-4</text>
<text x="507.2" y="563.3" font-size="9.7" text-anchor="middle" fill="#231f20">-2</text>
<text x="519.3" y="563.3" font-size="9.7" text-anchor="middle" fill="#231f20">0</text>
<text x="531.6" y="563.3" font-size="9.7" text-anchor="middle" fill="#231f20">2</text>
<text x="543.7" y="563.3" font-size="9.7" text-anchor="middle" fill="#231f20">4</text>
<text x="555.8" y="563.3" font-size="9.7" text-anchor="middle" fill="#231f20">6</text>
</svg>
</body></html>
